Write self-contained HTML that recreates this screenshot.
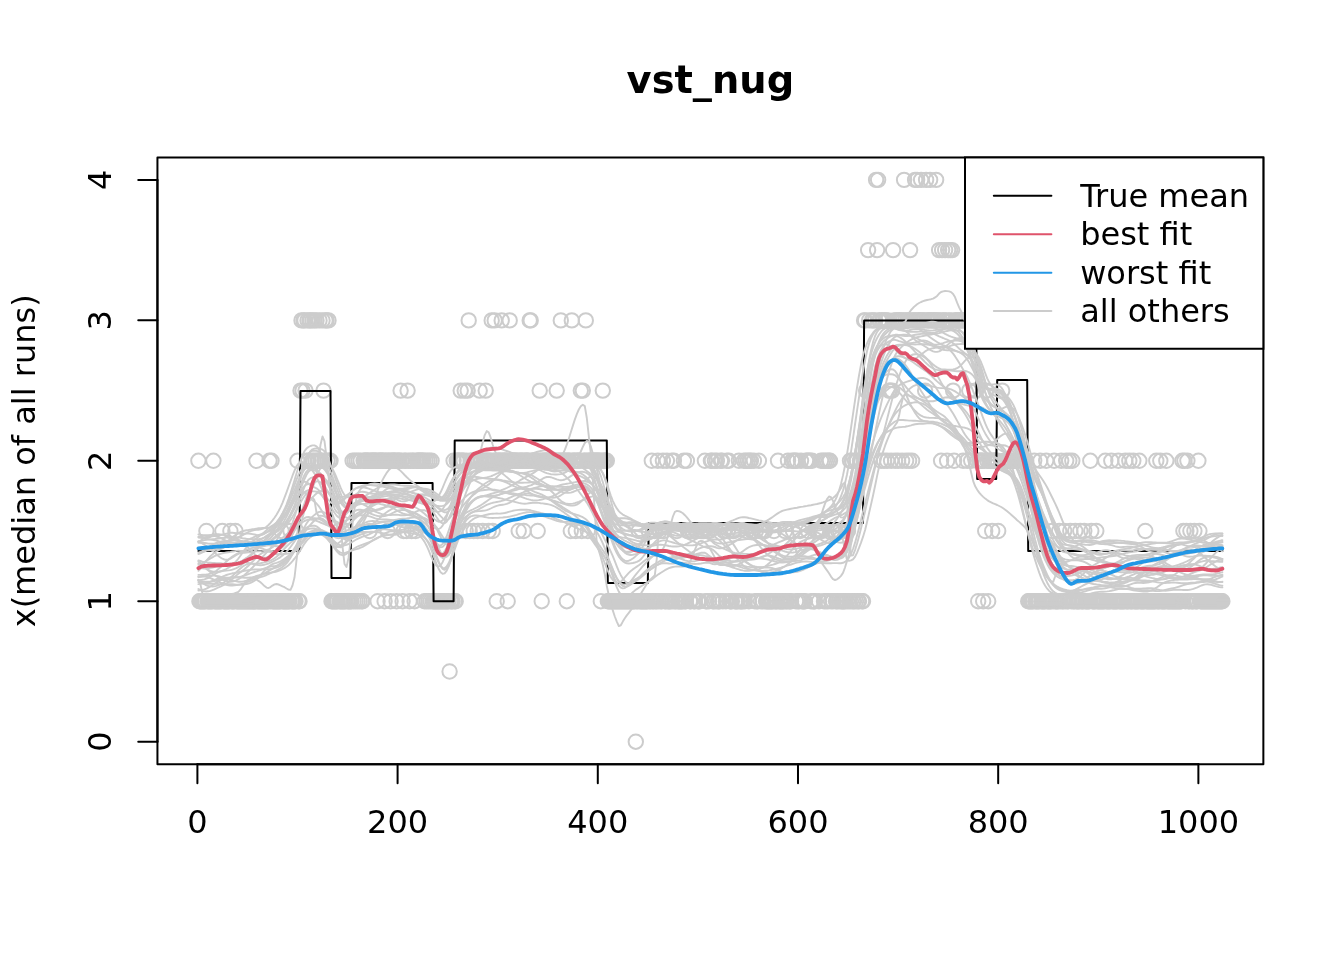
<!DOCTYPE html>
<html><head><meta charset="utf-8"><title>vst_nug</title>
<style>html,body{margin:0;padding:0;background:#fff}svg{display:block;will-change:transform}</style></head>
<body>
<svg width="1344" height="960" viewBox="0 0 1344 960">
<rect width="1344" height="960" fill="#fff"/>
<defs><clipPath id="c"><rect x="157.44" y="157.44" width="1105.92" height="606.72"/></clipPath></defs>
<g clip-path="url(#c)" fill="none" stroke-linecap="round" stroke-linejoin="round">
<g stroke="#ccc" stroke-width="2">
<circle cx="198.4" cy="460.8" r="7.2"/>
<circle cx="199.4" cy="601.2" r="7.2"/>
<circle cx="200.4" cy="601.2" r="7.2"/>
<circle cx="201.4" cy="601.2" r="7.2"/>
<circle cx="202.4" cy="601.2" r="7.2"/>
<circle cx="203.4" cy="601.2" r="7.2"/>
<circle cx="204.4" cy="601.2" r="7.2"/>
<circle cx="205.4" cy="601.2" r="7.2"/>
<circle cx="206.4" cy="531.0" r="7.2"/>
<circle cx="207.4" cy="601.2" r="7.2"/>
<circle cx="208.4" cy="601.2" r="7.2"/>
<circle cx="209.4" cy="601.2" r="7.2"/>
<circle cx="210.4" cy="601.2" r="7.2"/>
<circle cx="211.4" cy="601.2" r="7.2"/>
<circle cx="212.4" cy="601.2" r="7.2"/>
<circle cx="213.4" cy="460.8" r="7.2"/>
<circle cx="214.4" cy="601.2" r="7.2"/>
<circle cx="215.4" cy="601.2" r="7.2"/>
<circle cx="216.4" cy="601.2" r="7.2"/>
<circle cx="217.4" cy="601.2" r="7.2"/>
<circle cx="218.4" cy="601.2" r="7.2"/>
<circle cx="219.4" cy="601.2" r="7.2"/>
<circle cx="220.4" cy="601.2" r="7.2"/>
<circle cx="221.4" cy="601.2" r="7.2"/>
<circle cx="222.4" cy="531.0" r="7.2"/>
<circle cx="223.4" cy="601.2" r="7.2"/>
<circle cx="224.4" cy="601.2" r="7.2"/>
<circle cx="225.4" cy="601.2" r="7.2"/>
<circle cx="226.4" cy="601.2" r="7.2"/>
<circle cx="227.4" cy="601.2" r="7.2"/>
<circle cx="228.4" cy="601.2" r="7.2"/>
<circle cx="229.4" cy="601.2" r="7.2"/>
<circle cx="230.4" cy="531.0" r="7.2"/>
<circle cx="231.4" cy="601.2" r="7.2"/>
<circle cx="232.4" cy="601.2" r="7.2"/>
<circle cx="233.4" cy="601.2" r="7.2"/>
<circle cx="234.4" cy="601.2" r="7.2"/>
<circle cx="235.4" cy="531.0" r="7.2"/>
<circle cx="236.4" cy="601.2" r="7.2"/>
<circle cx="237.4" cy="601.2" r="7.2"/>
<circle cx="238.4" cy="601.2" r="7.2"/>
<circle cx="239.4" cy="601.2" r="7.2"/>
<circle cx="240.4" cy="601.2" r="7.2"/>
<circle cx="241.4" cy="601.2" r="7.2"/>
<circle cx="242.4" cy="601.2" r="7.2"/>
<circle cx="243.4" cy="601.2" r="7.2"/>
<circle cx="244.4" cy="601.2" r="7.2"/>
<circle cx="245.4" cy="601.2" r="7.2"/>
<circle cx="246.4" cy="601.2" r="7.2"/>
<circle cx="247.4" cy="601.2" r="7.2"/>
<circle cx="248.4" cy="601.2" r="7.2"/>
<circle cx="249.4" cy="601.2" r="7.2"/>
<circle cx="250.5" cy="601.2" r="7.2"/>
<circle cx="251.5" cy="601.2" r="7.2"/>
<circle cx="252.5" cy="601.2" r="7.2"/>
<circle cx="253.5" cy="601.2" r="7.2"/>
<circle cx="254.5" cy="601.2" r="7.2"/>
<circle cx="255.5" cy="601.2" r="7.2"/>
<circle cx="256.5" cy="460.8" r="7.2"/>
<circle cx="257.5" cy="601.2" r="7.2"/>
<circle cx="258.5" cy="601.2" r="7.2"/>
<circle cx="259.5" cy="601.2" r="7.2"/>
<circle cx="260.5" cy="601.2" r="7.2"/>
<circle cx="261.5" cy="601.2" r="7.2"/>
<circle cx="262.5" cy="601.2" r="7.2"/>
<circle cx="263.5" cy="601.2" r="7.2"/>
<circle cx="264.5" cy="601.2" r="7.2"/>
<circle cx="265.5" cy="601.2" r="7.2"/>
<circle cx="266.5" cy="601.2" r="7.2"/>
<circle cx="267.5" cy="601.2" r="7.2"/>
<circle cx="268.5" cy="601.2" r="7.2"/>
<circle cx="269.5" cy="460.8" r="7.2"/>
<circle cx="270.5" cy="601.2" r="7.2"/>
<circle cx="271.5" cy="460.8" r="7.2"/>
<circle cx="272.5" cy="601.2" r="7.2"/>
<circle cx="273.5" cy="601.2" r="7.2"/>
<circle cx="274.5" cy="601.2" r="7.2"/>
<circle cx="275.5" cy="601.2" r="7.2"/>
<circle cx="276.5" cy="601.2" r="7.2"/>
<circle cx="277.5" cy="601.2" r="7.2"/>
<circle cx="278.5" cy="601.2" r="7.2"/>
<circle cx="279.5" cy="601.2" r="7.2"/>
<circle cx="280.5" cy="601.2" r="7.2"/>
<circle cx="281.5" cy="531.0" r="7.2"/>
<circle cx="282.5" cy="601.2" r="7.2"/>
<circle cx="283.5" cy="601.2" r="7.2"/>
<circle cx="284.5" cy="601.2" r="7.2"/>
<circle cx="285.5" cy="601.2" r="7.2"/>
<circle cx="286.5" cy="601.2" r="7.2"/>
<circle cx="287.5" cy="601.2" r="7.2"/>
<circle cx="288.5" cy="601.2" r="7.2"/>
<circle cx="289.5" cy="601.2" r="7.2"/>
<circle cx="290.5" cy="531.0" r="7.2"/>
<circle cx="291.5" cy="601.2" r="7.2"/>
<circle cx="292.5" cy="601.2" r="7.2"/>
<circle cx="293.5" cy="601.2" r="7.2"/>
<circle cx="294.5" cy="601.2" r="7.2"/>
<circle cx="295.5" cy="601.2" r="7.2"/>
<circle cx="296.5" cy="531.0" r="7.2"/>
<circle cx="297.5" cy="460.8" r="7.2"/>
<circle cx="298.5" cy="601.2" r="7.2"/>
<circle cx="299.5" cy="601.2" r="7.2"/>
<circle cx="300.5" cy="390.6" r="7.2"/>
<circle cx="301.5" cy="320.4" r="7.2"/>
<circle cx="302.5" cy="390.6" r="7.2"/>
<circle cx="303.5" cy="320.4" r="7.2"/>
<circle cx="304.5" cy="320.4" r="7.2"/>
<circle cx="305.5" cy="390.6" r="7.2"/>
<circle cx="306.5" cy="460.8" r="7.2"/>
<circle cx="307.5" cy="320.4" r="7.2"/>
<circle cx="308.5" cy="460.8" r="7.2"/>
<circle cx="309.5" cy="320.4" r="7.2"/>
<circle cx="310.5" cy="320.4" r="7.2"/>
<circle cx="311.5" cy="460.8" r="7.2"/>
<circle cx="312.5" cy="320.4" r="7.2"/>
<circle cx="313.5" cy="460.8" r="7.2"/>
<circle cx="314.5" cy="320.4" r="7.2"/>
<circle cx="315.5" cy="460.8" r="7.2"/>
<circle cx="316.5" cy="320.4" r="7.2"/>
<circle cx="317.5" cy="460.8" r="7.2"/>
<circle cx="318.5" cy="460.8" r="7.2"/>
<circle cx="319.5" cy="320.4" r="7.2"/>
<circle cx="320.5" cy="460.8" r="7.2"/>
<circle cx="321.5" cy="460.8" r="7.2"/>
<circle cx="322.5" cy="320.4" r="7.2"/>
<circle cx="323.5" cy="390.6" r="7.2"/>
<circle cx="324.5" cy="460.8" r="7.2"/>
<circle cx="325.5" cy="320.4" r="7.2"/>
<circle cx="326.5" cy="320.4" r="7.2"/>
<circle cx="327.5" cy="460.8" r="7.2"/>
<circle cx="328.5" cy="320.4" r="7.2"/>
<circle cx="329.5" cy="460.8" r="7.2"/>
<circle cx="330.5" cy="460.8" r="7.2"/>
<circle cx="331.5" cy="601.2" r="7.2"/>
<circle cx="332.5" cy="601.2" r="7.2"/>
<circle cx="333.5" cy="601.2" r="7.2"/>
<circle cx="334.5" cy="601.2" r="7.2"/>
<circle cx="335.5" cy="601.2" r="7.2"/>
<circle cx="336.5" cy="601.2" r="7.2"/>
<circle cx="337.5" cy="601.2" r="7.2"/>
<circle cx="338.5" cy="531.0" r="7.2"/>
<circle cx="339.5" cy="601.2" r="7.2"/>
<circle cx="340.5" cy="601.2" r="7.2"/>
<circle cx="341.5" cy="601.2" r="7.2"/>
<circle cx="342.5" cy="601.2" r="7.2"/>
<circle cx="343.5" cy="601.2" r="7.2"/>
<circle cx="344.5" cy="601.2" r="7.2"/>
<circle cx="345.5" cy="601.2" r="7.2"/>
<circle cx="346.5" cy="531.0" r="7.2"/>
<circle cx="347.5" cy="601.2" r="7.2"/>
<circle cx="348.5" cy="601.2" r="7.2"/>
<circle cx="349.5" cy="601.2" r="7.2"/>
<circle cx="350.5" cy="601.2" r="7.2"/>
<circle cx="351.5" cy="601.2" r="7.2"/>
<circle cx="352.6" cy="460.8" r="7.2"/>
<circle cx="353.6" cy="601.2" r="7.2"/>
<circle cx="354.6" cy="460.8" r="7.2"/>
<circle cx="355.6" cy="601.2" r="7.2"/>
<circle cx="356.6" cy="460.8" r="7.2"/>
<circle cx="357.6" cy="601.2" r="7.2"/>
<circle cx="358.6" cy="460.8" r="7.2"/>
<circle cx="359.6" cy="601.2" r="7.2"/>
<circle cx="360.6" cy="460.8" r="7.2"/>
<circle cx="361.6" cy="601.2" r="7.2"/>
<circle cx="362.6" cy="601.2" r="7.2"/>
<circle cx="363.6" cy="460.8" r="7.2"/>
<circle cx="364.6" cy="460.8" r="7.2"/>
<circle cx="365.6" cy="460.8" r="7.2"/>
<circle cx="366.6" cy="460.8" r="7.2"/>
<circle cx="367.6" cy="460.8" r="7.2"/>
<circle cx="368.6" cy="460.8" r="7.2"/>
<circle cx="369.6" cy="531.0" r="7.2"/>
<circle cx="370.6" cy="460.8" r="7.2"/>
<circle cx="371.6" cy="460.8" r="7.2"/>
<circle cx="372.6" cy="460.8" r="7.2"/>
<circle cx="373.6" cy="460.8" r="7.2"/>
<circle cx="374.6" cy="460.8" r="7.2"/>
<circle cx="375.6" cy="460.8" r="7.2"/>
<circle cx="376.6" cy="460.8" r="7.2"/>
<circle cx="377.6" cy="601.2" r="7.2"/>
<circle cx="378.6" cy="460.8" r="7.2"/>
<circle cx="379.6" cy="460.8" r="7.2"/>
<circle cx="380.6" cy="460.8" r="7.2"/>
<circle cx="381.6" cy="460.8" r="7.2"/>
<circle cx="382.6" cy="460.8" r="7.2"/>
<circle cx="383.6" cy="460.8" r="7.2"/>
<circle cx="384.6" cy="601.2" r="7.2"/>
<circle cx="385.6" cy="460.8" r="7.2"/>
<circle cx="386.6" cy="460.8" r="7.2"/>
<circle cx="387.6" cy="531.0" r="7.2"/>
<circle cx="388.6" cy="460.8" r="7.2"/>
<circle cx="389.6" cy="460.8" r="7.2"/>
<circle cx="390.6" cy="601.2" r="7.2"/>
<circle cx="391.6" cy="460.8" r="7.2"/>
<circle cx="392.6" cy="460.8" r="7.2"/>
<circle cx="393.6" cy="460.8" r="7.2"/>
<circle cx="394.6" cy="460.8" r="7.2"/>
<circle cx="395.6" cy="460.8" r="7.2"/>
<circle cx="396.6" cy="601.2" r="7.2"/>
<circle cx="397.6" cy="460.8" r="7.2"/>
<circle cx="398.6" cy="460.8" r="7.2"/>
<circle cx="399.6" cy="460.8" r="7.2"/>
<circle cx="400.6" cy="390.6" r="7.2"/>
<circle cx="401.6" cy="460.8" r="7.2"/>
<circle cx="402.6" cy="601.2" r="7.2"/>
<circle cx="403.6" cy="531.0" r="7.2"/>
<circle cx="404.6" cy="460.8" r="7.2"/>
<circle cx="405.6" cy="460.8" r="7.2"/>
<circle cx="406.6" cy="531.0" r="7.2"/>
<circle cx="407.6" cy="390.6" r="7.2"/>
<circle cx="408.6" cy="460.8" r="7.2"/>
<circle cx="409.6" cy="601.2" r="7.2"/>
<circle cx="410.6" cy="460.8" r="7.2"/>
<circle cx="411.6" cy="531.0" r="7.2"/>
<circle cx="412.6" cy="460.8" r="7.2"/>
<circle cx="413.6" cy="460.8" r="7.2"/>
<circle cx="414.6" cy="601.2" r="7.2"/>
<circle cx="415.6" cy="531.0" r="7.2"/>
<circle cx="416.6" cy="460.8" r="7.2"/>
<circle cx="417.6" cy="460.8" r="7.2"/>
<circle cx="418.6" cy="460.8" r="7.2"/>
<circle cx="419.6" cy="460.8" r="7.2"/>
<circle cx="420.6" cy="460.8" r="7.2"/>
<circle cx="421.6" cy="460.8" r="7.2"/>
<circle cx="422.6" cy="460.8" r="7.2"/>
<circle cx="423.6" cy="460.8" r="7.2"/>
<circle cx="424.6" cy="601.2" r="7.2"/>
<circle cx="425.6" cy="460.8" r="7.2"/>
<circle cx="426.6" cy="601.2" r="7.2"/>
<circle cx="427.6" cy="460.8" r="7.2"/>
<circle cx="428.6" cy="601.2" r="7.2"/>
<circle cx="429.6" cy="460.8" r="7.2"/>
<circle cx="430.6" cy="601.2" r="7.2"/>
<circle cx="431.6" cy="460.8" r="7.2"/>
<circle cx="432.6" cy="601.2" r="7.2"/>
<circle cx="433.6" cy="601.2" r="7.2"/>
<circle cx="434.6" cy="601.2" r="7.2"/>
<circle cx="435.6" cy="601.2" r="7.2"/>
<circle cx="436.6" cy="601.2" r="7.2"/>
<circle cx="437.6" cy="601.2" r="7.2"/>
<circle cx="438.6" cy="601.2" r="7.2"/>
<circle cx="439.6" cy="601.2" r="7.2"/>
<circle cx="440.6" cy="601.2" r="7.2"/>
<circle cx="441.6" cy="601.2" r="7.2"/>
<circle cx="442.6" cy="601.2" r="7.2"/>
<circle cx="443.6" cy="601.2" r="7.2"/>
<circle cx="444.6" cy="601.2" r="7.2"/>
<circle cx="445.6" cy="601.2" r="7.2"/>
<circle cx="446.6" cy="601.2" r="7.2"/>
<circle cx="447.6" cy="601.2" r="7.2"/>
<circle cx="448.6" cy="601.2" r="7.2"/>
<circle cx="449.6" cy="671.5" r="7.2"/>
<circle cx="450.6" cy="601.2" r="7.2"/>
<circle cx="451.6" cy="601.2" r="7.2"/>
<circle cx="452.6" cy="601.2" r="7.2"/>
<circle cx="453.6" cy="460.8" r="7.2"/>
<circle cx="454.7" cy="601.2" r="7.2"/>
<circle cx="455.7" cy="601.2" r="7.2"/>
<circle cx="456.7" cy="460.8" r="7.2"/>
<circle cx="457.7" cy="460.8" r="7.2"/>
<circle cx="458.7" cy="460.8" r="7.2"/>
<circle cx="459.7" cy="460.8" r="7.2"/>
<circle cx="460.7" cy="390.6" r="7.2"/>
<circle cx="461.7" cy="460.8" r="7.2"/>
<circle cx="462.7" cy="460.8" r="7.2"/>
<circle cx="463.7" cy="460.8" r="7.2"/>
<circle cx="464.7" cy="390.6" r="7.2"/>
<circle cx="465.7" cy="531.0" r="7.2"/>
<circle cx="466.7" cy="460.8" r="7.2"/>
<circle cx="467.7" cy="390.6" r="7.2"/>
<circle cx="468.7" cy="320.4" r="7.2"/>
<circle cx="469.7" cy="531.0" r="7.2"/>
<circle cx="470.7" cy="460.8" r="7.2"/>
<circle cx="471.7" cy="460.8" r="7.2"/>
<circle cx="472.7" cy="460.8" r="7.2"/>
<circle cx="473.7" cy="531.0" r="7.2"/>
<circle cx="474.7" cy="460.8" r="7.2"/>
<circle cx="475.7" cy="460.8" r="7.2"/>
<circle cx="476.7" cy="460.8" r="7.2"/>
<circle cx="477.7" cy="531.0" r="7.2"/>
<circle cx="478.7" cy="460.8" r="7.2"/>
<circle cx="479.7" cy="390.6" r="7.2"/>
<circle cx="480.7" cy="460.8" r="7.2"/>
<circle cx="481.7" cy="460.8" r="7.2"/>
<circle cx="482.7" cy="531.0" r="7.2"/>
<circle cx="483.7" cy="460.8" r="7.2"/>
<circle cx="484.7" cy="460.8" r="7.2"/>
<circle cx="485.7" cy="390.6" r="7.2"/>
<circle cx="486.7" cy="460.8" r="7.2"/>
<circle cx="487.7" cy="460.8" r="7.2"/>
<circle cx="488.7" cy="531.0" r="7.2"/>
<circle cx="489.7" cy="460.8" r="7.2"/>
<circle cx="490.7" cy="460.8" r="7.2"/>
<circle cx="491.7" cy="320.4" r="7.2"/>
<circle cx="492.7" cy="531.0" r="7.2"/>
<circle cx="493.7" cy="460.8" r="7.2"/>
<circle cx="494.7" cy="320.4" r="7.2"/>
<circle cx="495.7" cy="460.8" r="7.2"/>
<circle cx="496.7" cy="601.2" r="7.2"/>
<circle cx="497.7" cy="460.8" r="7.2"/>
<circle cx="498.7" cy="460.8" r="7.2"/>
<circle cx="499.7" cy="460.8" r="7.2"/>
<circle cx="500.7" cy="460.8" r="7.2"/>
<circle cx="501.7" cy="320.4" r="7.2"/>
<circle cx="502.7" cy="460.8" r="7.2"/>
<circle cx="503.7" cy="460.8" r="7.2"/>
<circle cx="504.7" cy="460.8" r="7.2"/>
<circle cx="505.7" cy="460.8" r="7.2"/>
<circle cx="506.7" cy="460.8" r="7.2"/>
<circle cx="507.7" cy="601.2" r="7.2"/>
<circle cx="508.7" cy="460.8" r="7.2"/>
<circle cx="509.7" cy="320.4" r="7.2"/>
<circle cx="510.7" cy="460.8" r="7.2"/>
<circle cx="511.7" cy="460.8" r="7.2"/>
<circle cx="512.7" cy="460.8" r="7.2"/>
<circle cx="513.7" cy="460.8" r="7.2"/>
<circle cx="514.7" cy="460.8" r="7.2"/>
<circle cx="515.7" cy="460.8" r="7.2"/>
<circle cx="516.7" cy="460.8" r="7.2"/>
<circle cx="517.7" cy="460.8" r="7.2"/>
<circle cx="518.7" cy="531.0" r="7.2"/>
<circle cx="519.7" cy="460.8" r="7.2"/>
<circle cx="520.7" cy="460.8" r="7.2"/>
<circle cx="521.7" cy="460.8" r="7.2"/>
<circle cx="522.7" cy="460.8" r="7.2"/>
<circle cx="523.7" cy="531.0" r="7.2"/>
<circle cx="524.7" cy="460.8" r="7.2"/>
<circle cx="525.7" cy="460.8" r="7.2"/>
<circle cx="526.7" cy="460.8" r="7.2"/>
<circle cx="527.7" cy="460.8" r="7.2"/>
<circle cx="528.7" cy="460.8" r="7.2"/>
<circle cx="529.7" cy="320.4" r="7.2"/>
<circle cx="530.7" cy="320.4" r="7.2"/>
<circle cx="531.7" cy="460.8" r="7.2"/>
<circle cx="532.7" cy="460.8" r="7.2"/>
<circle cx="533.7" cy="460.8" r="7.2"/>
<circle cx="534.7" cy="460.8" r="7.2"/>
<circle cx="535.7" cy="460.8" r="7.2"/>
<circle cx="536.7" cy="460.8" r="7.2"/>
<circle cx="537.7" cy="531.0" r="7.2"/>
<circle cx="538.7" cy="460.8" r="7.2"/>
<circle cx="539.7" cy="390.6" r="7.2"/>
<circle cx="540.7" cy="460.8" r="7.2"/>
<circle cx="541.7" cy="601.2" r="7.2"/>
<circle cx="542.7" cy="460.8" r="7.2"/>
<circle cx="543.7" cy="460.8" r="7.2"/>
<circle cx="544.7" cy="460.8" r="7.2"/>
<circle cx="545.7" cy="460.8" r="7.2"/>
<circle cx="546.7" cy="460.8" r="7.2"/>
<circle cx="547.7" cy="460.8" r="7.2"/>
<circle cx="548.7" cy="460.8" r="7.2"/>
<circle cx="549.7" cy="460.8" r="7.2"/>
<circle cx="550.7" cy="460.8" r="7.2"/>
<circle cx="551.7" cy="460.8" r="7.2"/>
<circle cx="552.7" cy="460.8" r="7.2"/>
<circle cx="553.7" cy="460.8" r="7.2"/>
<circle cx="554.7" cy="460.8" r="7.2"/>
<circle cx="555.7" cy="460.8" r="7.2"/>
<circle cx="556.7" cy="390.6" r="7.2"/>
<circle cx="557.8" cy="460.8" r="7.2"/>
<circle cx="558.8" cy="460.8" r="7.2"/>
<circle cx="559.8" cy="460.8" r="7.2"/>
<circle cx="560.8" cy="320.4" r="7.2"/>
<circle cx="561.8" cy="460.8" r="7.2"/>
<circle cx="562.8" cy="460.8" r="7.2"/>
<circle cx="563.8" cy="460.8" r="7.2"/>
<circle cx="564.8" cy="460.8" r="7.2"/>
<circle cx="565.8" cy="460.8" r="7.2"/>
<circle cx="566.8" cy="601.2" r="7.2"/>
<circle cx="567.8" cy="460.8" r="7.2"/>
<circle cx="568.8" cy="460.8" r="7.2"/>
<circle cx="569.8" cy="460.8" r="7.2"/>
<circle cx="570.8" cy="531.0" r="7.2"/>
<circle cx="571.8" cy="320.4" r="7.2"/>
<circle cx="572.8" cy="460.8" r="7.2"/>
<circle cx="573.8" cy="460.8" r="7.2"/>
<circle cx="574.8" cy="460.8" r="7.2"/>
<circle cx="575.8" cy="531.0" r="7.2"/>
<circle cx="576.8" cy="460.8" r="7.2"/>
<circle cx="577.8" cy="460.8" r="7.2"/>
<circle cx="578.8" cy="460.8" r="7.2"/>
<circle cx="579.8" cy="460.8" r="7.2"/>
<circle cx="580.8" cy="390.6" r="7.2"/>
<circle cx="581.8" cy="531.0" r="7.2"/>
<circle cx="582.8" cy="390.6" r="7.2"/>
<circle cx="583.8" cy="460.8" r="7.2"/>
<circle cx="584.8" cy="460.8" r="7.2"/>
<circle cx="585.8" cy="320.4" r="7.2"/>
<circle cx="586.8" cy="460.8" r="7.2"/>
<circle cx="587.8" cy="531.0" r="7.2"/>
<circle cx="588.8" cy="460.8" r="7.2"/>
<circle cx="589.8" cy="460.8" r="7.2"/>
<circle cx="590.8" cy="460.8" r="7.2"/>
<circle cx="591.8" cy="460.8" r="7.2"/>
<circle cx="592.8" cy="460.8" r="7.2"/>
<circle cx="593.8" cy="460.8" r="7.2"/>
<circle cx="594.8" cy="460.8" r="7.2"/>
<circle cx="595.8" cy="460.8" r="7.2"/>
<circle cx="596.8" cy="460.8" r="7.2"/>
<circle cx="597.8" cy="460.8" r="7.2"/>
<circle cx="598.8" cy="460.8" r="7.2"/>
<circle cx="599.8" cy="460.8" r="7.2"/>
<circle cx="600.8" cy="601.2" r="7.2"/>
<circle cx="601.8" cy="460.8" r="7.2"/>
<circle cx="602.8" cy="390.6" r="7.2"/>
<circle cx="603.8" cy="460.8" r="7.2"/>
<circle cx="604.8" cy="460.8" r="7.2"/>
<circle cx="605.8" cy="460.8" r="7.2"/>
<circle cx="606.8" cy="460.8" r="7.2"/>
<circle cx="607.8" cy="601.2" r="7.2"/>
<circle cx="608.8" cy="601.2" r="7.2"/>
<circle cx="609.8" cy="601.2" r="7.2"/>
<circle cx="610.8" cy="601.2" r="7.2"/>
<circle cx="611.8" cy="601.2" r="7.2"/>
<circle cx="612.8" cy="601.2" r="7.2"/>
<circle cx="613.8" cy="601.2" r="7.2"/>
<circle cx="614.8" cy="601.2" r="7.2"/>
<circle cx="615.8" cy="601.2" r="7.2"/>
<circle cx="616.8" cy="601.2" r="7.2"/>
<circle cx="617.8" cy="601.2" r="7.2"/>
<circle cx="618.8" cy="601.2" r="7.2"/>
<circle cx="619.8" cy="601.2" r="7.2"/>
<circle cx="620.8" cy="601.2" r="7.2"/>
<circle cx="621.8" cy="601.2" r="7.2"/>
<circle cx="622.8" cy="601.2" r="7.2"/>
<circle cx="623.8" cy="601.2" r="7.2"/>
<circle cx="624.8" cy="601.2" r="7.2"/>
<circle cx="625.8" cy="601.2" r="7.2"/>
<circle cx="626.8" cy="601.2" r="7.2"/>
<circle cx="627.8" cy="601.2" r="7.2"/>
<circle cx="628.8" cy="601.2" r="7.2"/>
<circle cx="629.8" cy="601.2" r="7.2"/>
<circle cx="630.8" cy="601.2" r="7.2"/>
<circle cx="631.8" cy="601.2" r="7.2"/>
<circle cx="632.8" cy="601.2" r="7.2"/>
<circle cx="633.8" cy="601.2" r="7.2"/>
<circle cx="634.8" cy="601.2" r="7.2"/>
<circle cx="635.8" cy="741.7" r="7.2"/>
<circle cx="636.8" cy="601.2" r="7.2"/>
<circle cx="637.8" cy="601.2" r="7.2"/>
<circle cx="638.8" cy="531.0" r="7.2"/>
<circle cx="639.8" cy="601.2" r="7.2"/>
<circle cx="640.8" cy="601.2" r="7.2"/>
<circle cx="641.8" cy="601.2" r="7.2"/>
<circle cx="642.8" cy="601.2" r="7.2"/>
<circle cx="643.8" cy="601.2" r="7.2"/>
<circle cx="644.8" cy="601.2" r="7.2"/>
<circle cx="645.8" cy="601.2" r="7.2"/>
<circle cx="646.8" cy="601.2" r="7.2"/>
<circle cx="647.8" cy="601.2" r="7.2"/>
<circle cx="648.8" cy="531.0" r="7.2"/>
<circle cx="649.8" cy="601.2" r="7.2"/>
<circle cx="650.8" cy="601.2" r="7.2"/>
<circle cx="651.8" cy="460.8" r="7.2"/>
<circle cx="652.8" cy="601.2" r="7.2"/>
<circle cx="653.8" cy="601.2" r="7.2"/>
<circle cx="654.8" cy="531.0" r="7.2"/>
<circle cx="655.8" cy="601.2" r="7.2"/>
<circle cx="656.8" cy="601.2" r="7.2"/>
<circle cx="657.8" cy="460.8" r="7.2"/>
<circle cx="658.8" cy="601.2" r="7.2"/>
<circle cx="659.9" cy="531.0" r="7.2"/>
<circle cx="660.9" cy="601.2" r="7.2"/>
<circle cx="661.9" cy="601.2" r="7.2"/>
<circle cx="662.9" cy="460.8" r="7.2"/>
<circle cx="663.9" cy="531.0" r="7.2"/>
<circle cx="664.9" cy="601.2" r="7.2"/>
<circle cx="665.9" cy="601.2" r="7.2"/>
<circle cx="666.9" cy="460.8" r="7.2"/>
<circle cx="667.9" cy="601.2" r="7.2"/>
<circle cx="668.9" cy="601.2" r="7.2"/>
<circle cx="669.9" cy="601.2" r="7.2"/>
<circle cx="670.9" cy="601.2" r="7.2"/>
<circle cx="671.9" cy="460.8" r="7.2"/>
<circle cx="672.9" cy="601.2" r="7.2"/>
<circle cx="673.9" cy="460.8" r="7.2"/>
<circle cx="674.9" cy="601.2" r="7.2"/>
<circle cx="675.9" cy="601.2" r="7.2"/>
<circle cx="676.9" cy="531.0" r="7.2"/>
<circle cx="677.9" cy="601.2" r="7.2"/>
<circle cx="678.9" cy="601.2" r="7.2"/>
<circle cx="679.9" cy="601.2" r="7.2"/>
<circle cx="680.9" cy="601.2" r="7.2"/>
<circle cx="681.9" cy="601.2" r="7.2"/>
<circle cx="682.9" cy="601.2" r="7.2"/>
<circle cx="683.9" cy="460.8" r="7.2"/>
<circle cx="684.9" cy="601.2" r="7.2"/>
<circle cx="685.9" cy="601.2" r="7.2"/>
<circle cx="686.9" cy="460.8" r="7.2"/>
<circle cx="687.9" cy="531.0" r="7.2"/>
<circle cx="688.9" cy="531.0" r="7.2"/>
<circle cx="689.9" cy="601.2" r="7.2"/>
<circle cx="690.9" cy="601.2" r="7.2"/>
<circle cx="691.9" cy="531.0" r="7.2"/>
<circle cx="692.9" cy="531.0" r="7.2"/>
<circle cx="693.9" cy="601.2" r="7.2"/>
<circle cx="694.9" cy="601.2" r="7.2"/>
<circle cx="695.9" cy="531.0" r="7.2"/>
<circle cx="696.9" cy="531.0" r="7.2"/>
<circle cx="697.9" cy="601.2" r="7.2"/>
<circle cx="698.9" cy="601.2" r="7.2"/>
<circle cx="699.9" cy="601.2" r="7.2"/>
<circle cx="700.9" cy="531.0" r="7.2"/>
<circle cx="701.9" cy="531.0" r="7.2"/>
<circle cx="702.9" cy="531.0" r="7.2"/>
<circle cx="703.9" cy="531.0" r="7.2"/>
<circle cx="704.9" cy="460.8" r="7.2"/>
<circle cx="705.9" cy="601.2" r="7.2"/>
<circle cx="706.9" cy="601.2" r="7.2"/>
<circle cx="707.9" cy="531.0" r="7.2"/>
<circle cx="708.9" cy="601.2" r="7.2"/>
<circle cx="709.9" cy="531.0" r="7.2"/>
<circle cx="710.9" cy="460.8" r="7.2"/>
<circle cx="711.9" cy="460.8" r="7.2"/>
<circle cx="712.9" cy="601.2" r="7.2"/>
<circle cx="713.9" cy="601.2" r="7.2"/>
<circle cx="714.9" cy="460.8" r="7.2"/>
<circle cx="715.9" cy="601.2" r="7.2"/>
<circle cx="716.9" cy="460.8" r="7.2"/>
<circle cx="717.9" cy="601.2" r="7.2"/>
<circle cx="718.9" cy="601.2" r="7.2"/>
<circle cx="719.9" cy="601.2" r="7.2"/>
<circle cx="720.9" cy="460.8" r="7.2"/>
<circle cx="721.9" cy="460.8" r="7.2"/>
<circle cx="722.9" cy="601.2" r="7.2"/>
<circle cx="723.9" cy="531.0" r="7.2"/>
<circle cx="724.9" cy="531.0" r="7.2"/>
<circle cx="725.9" cy="601.2" r="7.2"/>
<circle cx="726.9" cy="460.8" r="7.2"/>
<circle cx="727.9" cy="531.0" r="7.2"/>
<circle cx="728.9" cy="460.8" r="7.2"/>
<circle cx="729.9" cy="601.2" r="7.2"/>
<circle cx="730.9" cy="601.2" r="7.2"/>
<circle cx="731.9" cy="601.2" r="7.2"/>
<circle cx="732.9" cy="531.0" r="7.2"/>
<circle cx="733.9" cy="531.0" r="7.2"/>
<circle cx="734.9" cy="601.2" r="7.2"/>
<circle cx="735.9" cy="601.2" r="7.2"/>
<circle cx="736.9" cy="601.2" r="7.2"/>
<circle cx="737.9" cy="601.2" r="7.2"/>
<circle cx="738.9" cy="460.8" r="7.2"/>
<circle cx="739.9" cy="601.2" r="7.2"/>
<circle cx="740.9" cy="601.2" r="7.2"/>
<circle cx="741.9" cy="601.2" r="7.2"/>
<circle cx="742.9" cy="601.2" r="7.2"/>
<circle cx="743.9" cy="460.8" r="7.2"/>
<circle cx="744.9" cy="601.2" r="7.2"/>
<circle cx="745.9" cy="460.8" r="7.2"/>
<circle cx="746.9" cy="531.0" r="7.2"/>
<circle cx="747.9" cy="460.8" r="7.2"/>
<circle cx="748.9" cy="601.2" r="7.2"/>
<circle cx="749.9" cy="460.8" r="7.2"/>
<circle cx="750.9" cy="460.8" r="7.2"/>
<circle cx="751.9" cy="531.0" r="7.2"/>
<circle cx="752.9" cy="531.0" r="7.2"/>
<circle cx="753.9" cy="460.8" r="7.2"/>
<circle cx="754.9" cy="601.2" r="7.2"/>
<circle cx="755.9" cy="531.0" r="7.2"/>
<circle cx="756.9" cy="601.2" r="7.2"/>
<circle cx="757.9" cy="601.2" r="7.2"/>
<circle cx="758.9" cy="460.8" r="7.2"/>
<circle cx="759.9" cy="531.0" r="7.2"/>
<circle cx="760.9" cy="601.2" r="7.2"/>
<circle cx="762.0" cy="531.0" r="7.2"/>
<circle cx="763.0" cy="601.2" r="7.2"/>
<circle cx="764.0" cy="531.0" r="7.2"/>
<circle cx="765.0" cy="531.0" r="7.2"/>
<circle cx="766.0" cy="601.2" r="7.2"/>
<circle cx="767.0" cy="601.2" r="7.2"/>
<circle cx="768.0" cy="601.2" r="7.2"/>
<circle cx="769.0" cy="601.2" r="7.2"/>
<circle cx="770.0" cy="601.2" r="7.2"/>
<circle cx="771.0" cy="601.2" r="7.2"/>
<circle cx="772.0" cy="601.2" r="7.2"/>
<circle cx="773.0" cy="601.2" r="7.2"/>
<circle cx="774.0" cy="531.0" r="7.2"/>
<circle cx="775.0" cy="601.2" r="7.2"/>
<circle cx="776.0" cy="601.2" r="7.2"/>
<circle cx="777.0" cy="601.2" r="7.2"/>
<circle cx="778.0" cy="460.8" r="7.2"/>
<circle cx="779.0" cy="601.2" r="7.2"/>
<circle cx="780.0" cy="601.2" r="7.2"/>
<circle cx="781.0" cy="601.2" r="7.2"/>
<circle cx="782.0" cy="601.2" r="7.2"/>
<circle cx="783.0" cy="601.2" r="7.2"/>
<circle cx="784.0" cy="601.2" r="7.2"/>
<circle cx="785.0" cy="531.0" r="7.2"/>
<circle cx="786.0" cy="601.2" r="7.2"/>
<circle cx="787.0" cy="601.2" r="7.2"/>
<circle cx="788.0" cy="460.8" r="7.2"/>
<circle cx="789.0" cy="601.2" r="7.2"/>
<circle cx="790.0" cy="601.2" r="7.2"/>
<circle cx="791.0" cy="601.2" r="7.2"/>
<circle cx="792.0" cy="460.8" r="7.2"/>
<circle cx="793.0" cy="531.0" r="7.2"/>
<circle cx="794.0" cy="460.8" r="7.2"/>
<circle cx="795.0" cy="460.8" r="7.2"/>
<circle cx="796.0" cy="601.2" r="7.2"/>
<circle cx="797.0" cy="460.8" r="7.2"/>
<circle cx="798.0" cy="601.2" r="7.2"/>
<circle cx="799.0" cy="601.2" r="7.2"/>
<circle cx="800.0" cy="531.0" r="7.2"/>
<circle cx="801.0" cy="460.8" r="7.2"/>
<circle cx="802.0" cy="601.2" r="7.2"/>
<circle cx="803.0" cy="601.2" r="7.2"/>
<circle cx="804.0" cy="601.2" r="7.2"/>
<circle cx="805.0" cy="601.2" r="7.2"/>
<circle cx="806.0" cy="460.8" r="7.2"/>
<circle cx="807.0" cy="460.8" r="7.2"/>
<circle cx="808.0" cy="531.0" r="7.2"/>
<circle cx="809.0" cy="460.8" r="7.2"/>
<circle cx="810.0" cy="460.8" r="7.2"/>
<circle cx="811.0" cy="601.2" r="7.2"/>
<circle cx="812.0" cy="460.8" r="7.2"/>
<circle cx="813.0" cy="601.2" r="7.2"/>
<circle cx="814.0" cy="601.2" r="7.2"/>
<circle cx="815.0" cy="601.2" r="7.2"/>
<circle cx="816.0" cy="531.0" r="7.2"/>
<circle cx="817.0" cy="531.0" r="7.2"/>
<circle cx="818.0" cy="531.0" r="7.2"/>
<circle cx="819.0" cy="601.2" r="7.2"/>
<circle cx="820.0" cy="531.0" r="7.2"/>
<circle cx="821.0" cy="460.8" r="7.2"/>
<circle cx="822.0" cy="531.0" r="7.2"/>
<circle cx="823.0" cy="460.8" r="7.2"/>
<circle cx="824.0" cy="601.2" r="7.2"/>
<circle cx="825.0" cy="460.8" r="7.2"/>
<circle cx="826.0" cy="601.2" r="7.2"/>
<circle cx="827.0" cy="460.8" r="7.2"/>
<circle cx="828.0" cy="601.2" r="7.2"/>
<circle cx="829.0" cy="460.8" r="7.2"/>
<circle cx="830.0" cy="460.8" r="7.2"/>
<circle cx="831.0" cy="601.2" r="7.2"/>
<circle cx="832.0" cy="531.0" r="7.2"/>
<circle cx="833.0" cy="601.2" r="7.2"/>
<circle cx="834.0" cy="531.0" r="7.2"/>
<circle cx="835.0" cy="531.0" r="7.2"/>
<circle cx="836.0" cy="601.2" r="7.2"/>
<circle cx="837.0" cy="601.2" r="7.2"/>
<circle cx="838.0" cy="531.0" r="7.2"/>
<circle cx="839.0" cy="601.2" r="7.2"/>
<circle cx="840.0" cy="531.0" r="7.2"/>
<circle cx="841.0" cy="601.2" r="7.2"/>
<circle cx="842.0" cy="601.2" r="7.2"/>
<circle cx="843.0" cy="601.2" r="7.2"/>
<circle cx="844.0" cy="601.2" r="7.2"/>
<circle cx="845.0" cy="601.2" r="7.2"/>
<circle cx="846.0" cy="531.0" r="7.2"/>
<circle cx="847.0" cy="601.2" r="7.2"/>
<circle cx="848.0" cy="531.0" r="7.2"/>
<circle cx="849.0" cy="601.2" r="7.2"/>
<circle cx="850.0" cy="460.8" r="7.2"/>
<circle cx="851.0" cy="601.2" r="7.2"/>
<circle cx="852.0" cy="460.8" r="7.2"/>
<circle cx="853.0" cy="601.2" r="7.2"/>
<circle cx="854.0" cy="601.2" r="7.2"/>
<circle cx="855.0" cy="460.8" r="7.2"/>
<circle cx="856.0" cy="601.2" r="7.2"/>
<circle cx="857.0" cy="460.8" r="7.2"/>
<circle cx="858.0" cy="601.2" r="7.2"/>
<circle cx="859.0" cy="601.2" r="7.2"/>
<circle cx="860.0" cy="460.8" r="7.2"/>
<circle cx="861.0" cy="460.8" r="7.2"/>
<circle cx="862.0" cy="601.2" r="7.2"/>
<circle cx="863.0" cy="601.2" r="7.2"/>
<circle cx="864.1" cy="320.4" r="7.2"/>
<circle cx="865.1" cy="320.4" r="7.2"/>
<circle cx="866.1" cy="390.6" r="7.2"/>
<circle cx="867.1" cy="390.6" r="7.2"/>
<circle cx="868.1" cy="250.1" r="7.2"/>
<circle cx="869.1" cy="320.4" r="7.2"/>
<circle cx="870.1" cy="390.6" r="7.2"/>
<circle cx="871.1" cy="390.6" r="7.2"/>
<circle cx="872.1" cy="320.4" r="7.2"/>
<circle cx="873.1" cy="320.4" r="7.2"/>
<circle cx="874.1" cy="390.6" r="7.2"/>
<circle cx="875.1" cy="320.4" r="7.2"/>
<circle cx="876.1" cy="179.9" r="7.2"/>
<circle cx="877.1" cy="250.1" r="7.2"/>
<circle cx="878.1" cy="179.9" r="7.2"/>
<circle cx="879.1" cy="320.4" r="7.2"/>
<circle cx="880.1" cy="320.4" r="7.2"/>
<circle cx="881.1" cy="460.8" r="7.2"/>
<circle cx="882.1" cy="320.4" r="7.2"/>
<circle cx="883.1" cy="320.4" r="7.2"/>
<circle cx="884.1" cy="460.8" r="7.2"/>
<circle cx="885.1" cy="320.4" r="7.2"/>
<circle cx="886.1" cy="320.4" r="7.2"/>
<circle cx="887.1" cy="460.8" r="7.2"/>
<circle cx="888.1" cy="320.4" r="7.2"/>
<circle cx="889.1" cy="390.6" r="7.2"/>
<circle cx="890.1" cy="390.6" r="7.2"/>
<circle cx="891.1" cy="460.8" r="7.2"/>
<circle cx="892.1" cy="390.6" r="7.2"/>
<circle cx="893.1" cy="250.1" r="7.2"/>
<circle cx="894.1" cy="320.4" r="7.2"/>
<circle cx="895.1" cy="460.8" r="7.2"/>
<circle cx="896.1" cy="320.4" r="7.2"/>
<circle cx="897.1" cy="320.4" r="7.2"/>
<circle cx="898.1" cy="460.8" r="7.2"/>
<circle cx="899.1" cy="320.4" r="7.2"/>
<circle cx="900.1" cy="320.4" r="7.2"/>
<circle cx="901.1" cy="320.4" r="7.2"/>
<circle cx="902.1" cy="460.8" r="7.2"/>
<circle cx="903.1" cy="320.4" r="7.2"/>
<circle cx="904.1" cy="179.9" r="7.2"/>
<circle cx="905.1" cy="320.4" r="7.2"/>
<circle cx="906.1" cy="460.8" r="7.2"/>
<circle cx="907.1" cy="320.4" r="7.2"/>
<circle cx="908.1" cy="320.4" r="7.2"/>
<circle cx="909.1" cy="460.8" r="7.2"/>
<circle cx="910.1" cy="250.1" r="7.2"/>
<circle cx="911.1" cy="320.4" r="7.2"/>
<circle cx="912.1" cy="460.8" r="7.2"/>
<circle cx="913.1" cy="320.4" r="7.2"/>
<circle cx="914.1" cy="320.4" r="7.2"/>
<circle cx="915.1" cy="179.9" r="7.2"/>
<circle cx="916.1" cy="320.4" r="7.2"/>
<circle cx="917.1" cy="179.9" r="7.2"/>
<circle cx="918.1" cy="320.4" r="7.2"/>
<circle cx="919.1" cy="320.4" r="7.2"/>
<circle cx="920.1" cy="320.4" r="7.2"/>
<circle cx="921.1" cy="179.9" r="7.2"/>
<circle cx="922.1" cy="320.4" r="7.2"/>
<circle cx="923.1" cy="320.4" r="7.2"/>
<circle cx="924.1" cy="320.4" r="7.2"/>
<circle cx="925.1" cy="390.6" r="7.2"/>
<circle cx="926.1" cy="179.9" r="7.2"/>
<circle cx="927.1" cy="320.4" r="7.2"/>
<circle cx="928.1" cy="320.4" r="7.2"/>
<circle cx="929.1" cy="320.4" r="7.2"/>
<circle cx="930.1" cy="179.9" r="7.2"/>
<circle cx="931.1" cy="320.4" r="7.2"/>
<circle cx="932.1" cy="320.4" r="7.2"/>
<circle cx="933.1" cy="320.4" r="7.2"/>
<circle cx="934.1" cy="320.4" r="7.2"/>
<circle cx="935.1" cy="320.4" r="7.2"/>
<circle cx="936.1" cy="179.9" r="7.2"/>
<circle cx="937.1" cy="320.4" r="7.2"/>
<circle cx="938.1" cy="320.4" r="7.2"/>
<circle cx="939.1" cy="250.1" r="7.2"/>
<circle cx="940.1" cy="320.4" r="7.2"/>
<circle cx="941.1" cy="460.8" r="7.2"/>
<circle cx="942.1" cy="250.1" r="7.2"/>
<circle cx="943.1" cy="320.4" r="7.2"/>
<circle cx="944.1" cy="320.4" r="7.2"/>
<circle cx="945.1" cy="250.1" r="7.2"/>
<circle cx="946.1" cy="320.4" r="7.2"/>
<circle cx="947.1" cy="460.8" r="7.2"/>
<circle cx="948.1" cy="250.1" r="7.2"/>
<circle cx="949.1" cy="320.4" r="7.2"/>
<circle cx="950.1" cy="250.1" r="7.2"/>
<circle cx="951.1" cy="320.4" r="7.2"/>
<circle cx="952.1" cy="250.1" r="7.2"/>
<circle cx="953.1" cy="390.6" r="7.2"/>
<circle cx="954.1" cy="460.8" r="7.2"/>
<circle cx="955.1" cy="320.4" r="7.2"/>
<circle cx="956.1" cy="320.4" r="7.2"/>
<circle cx="957.1" cy="320.4" r="7.2"/>
<circle cx="958.1" cy="320.4" r="7.2"/>
<circle cx="959.1" cy="320.4" r="7.2"/>
<circle cx="960.1" cy="320.4" r="7.2"/>
<circle cx="961.1" cy="320.4" r="7.2"/>
<circle cx="962.1" cy="320.4" r="7.2"/>
<circle cx="963.1" cy="460.8" r="7.2"/>
<circle cx="964.1" cy="320.4" r="7.2"/>
<circle cx="965.1" cy="320.4" r="7.2"/>
<circle cx="966.1" cy="320.4" r="7.2"/>
<circle cx="967.2" cy="460.8" r="7.2"/>
<circle cx="968.2" cy="320.4" r="7.2"/>
<circle cx="969.2" cy="390.6" r="7.2"/>
<circle cx="970.2" cy="320.4" r="7.2"/>
<circle cx="971.2" cy="460.8" r="7.2"/>
<circle cx="972.2" cy="320.4" r="7.2"/>
<circle cx="973.2" cy="320.4" r="7.2"/>
<circle cx="974.2" cy="320.4" r="7.2"/>
<circle cx="975.2" cy="390.6" r="7.2"/>
<circle cx="976.2" cy="390.6" r="7.2"/>
<circle cx="977.2" cy="460.8" r="7.2"/>
<circle cx="978.2" cy="601.2" r="7.2"/>
<circle cx="979.2" cy="460.8" r="7.2"/>
<circle cx="980.2" cy="460.8" r="7.2"/>
<circle cx="981.2" cy="460.8" r="7.2"/>
<circle cx="982.2" cy="460.8" r="7.2"/>
<circle cx="983.2" cy="601.2" r="7.2"/>
<circle cx="984.2" cy="460.8" r="7.2"/>
<circle cx="985.2" cy="531.0" r="7.2"/>
<circle cx="986.2" cy="390.6" r="7.2"/>
<circle cx="987.2" cy="460.8" r="7.2"/>
<circle cx="988.2" cy="601.2" r="7.2"/>
<circle cx="989.2" cy="460.8" r="7.2"/>
<circle cx="990.2" cy="460.8" r="7.2"/>
<circle cx="991.2" cy="460.8" r="7.2"/>
<circle cx="992.2" cy="531.0" r="7.2"/>
<circle cx="993.2" cy="460.8" r="7.2"/>
<circle cx="994.2" cy="460.8" r="7.2"/>
<circle cx="995.2" cy="460.8" r="7.2"/>
<circle cx="996.2" cy="460.8" r="7.2"/>
<circle cx="997.2" cy="460.8" r="7.2"/>
<circle cx="998.2" cy="531.0" r="7.2"/>
<circle cx="999.2" cy="320.4" r="7.2"/>
<circle cx="1000.2" cy="320.4" r="7.2"/>
<circle cx="1001.2" cy="320.4" r="7.2"/>
<circle cx="1002.2" cy="390.6" r="7.2"/>
<circle cx="1003.2" cy="320.4" r="7.2"/>
<circle cx="1004.2" cy="460.8" r="7.2"/>
<circle cx="1005.2" cy="320.4" r="7.2"/>
<circle cx="1006.2" cy="460.8" r="7.2"/>
<circle cx="1007.2" cy="460.8" r="7.2"/>
<circle cx="1008.2" cy="460.8" r="7.2"/>
<circle cx="1009.2" cy="460.8" r="7.2"/>
<circle cx="1010.2" cy="460.8" r="7.2"/>
<circle cx="1011.2" cy="460.8" r="7.2"/>
<circle cx="1012.2" cy="460.8" r="7.2"/>
<circle cx="1013.2" cy="320.4" r="7.2"/>
<circle cx="1014.2" cy="460.8" r="7.2"/>
<circle cx="1015.2" cy="460.8" r="7.2"/>
<circle cx="1016.2" cy="460.8" r="7.2"/>
<circle cx="1017.2" cy="460.8" r="7.2"/>
<circle cx="1018.2" cy="320.4" r="7.2"/>
<circle cx="1019.2" cy="320.4" r="7.2"/>
<circle cx="1020.2" cy="460.8" r="7.2"/>
<circle cx="1021.2" cy="320.4" r="7.2"/>
<circle cx="1022.2" cy="320.4" r="7.2"/>
<circle cx="1023.2" cy="460.8" r="7.2"/>
<circle cx="1024.2" cy="460.8" r="7.2"/>
<circle cx="1025.2" cy="320.4" r="7.2"/>
<circle cx="1026.2" cy="460.8" r="7.2"/>
<circle cx="1027.2" cy="320.4" r="7.2"/>
<circle cx="1028.2" cy="601.2" r="7.2"/>
<circle cx="1029.2" cy="601.2" r="7.2"/>
<circle cx="1030.2" cy="601.2" r="7.2"/>
<circle cx="1031.2" cy="601.2" r="7.2"/>
<circle cx="1032.2" cy="601.2" r="7.2"/>
<circle cx="1033.2" cy="601.2" r="7.2"/>
<circle cx="1034.2" cy="460.8" r="7.2"/>
<circle cx="1035.2" cy="601.2" r="7.2"/>
<circle cx="1036.2" cy="601.2" r="7.2"/>
<circle cx="1037.2" cy="601.2" r="7.2"/>
<circle cx="1038.2" cy="601.2" r="7.2"/>
<circle cx="1039.2" cy="601.2" r="7.2"/>
<circle cx="1040.2" cy="460.8" r="7.2"/>
<circle cx="1041.2" cy="601.2" r="7.2"/>
<circle cx="1042.2" cy="601.2" r="7.2"/>
<circle cx="1043.2" cy="601.2" r="7.2"/>
<circle cx="1044.2" cy="601.2" r="7.2"/>
<circle cx="1045.2" cy="601.2" r="7.2"/>
<circle cx="1046.2" cy="460.8" r="7.2"/>
<circle cx="1047.2" cy="601.2" r="7.2"/>
<circle cx="1048.2" cy="601.2" r="7.2"/>
<circle cx="1049.2" cy="601.2" r="7.2"/>
<circle cx="1050.2" cy="601.2" r="7.2"/>
<circle cx="1051.2" cy="601.2" r="7.2"/>
<circle cx="1052.2" cy="531.0" r="7.2"/>
<circle cx="1053.2" cy="601.2" r="7.2"/>
<circle cx="1054.2" cy="460.8" r="7.2"/>
<circle cx="1055.2" cy="601.2" r="7.2"/>
<circle cx="1056.2" cy="601.2" r="7.2"/>
<circle cx="1057.2" cy="601.2" r="7.2"/>
<circle cx="1058.2" cy="601.2" r="7.2"/>
<circle cx="1059.2" cy="531.0" r="7.2"/>
<circle cx="1060.2" cy="601.2" r="7.2"/>
<circle cx="1061.2" cy="460.8" r="7.2"/>
<circle cx="1062.2" cy="601.2" r="7.2"/>
<circle cx="1063.2" cy="601.2" r="7.2"/>
<circle cx="1064.2" cy="531.0" r="7.2"/>
<circle cx="1065.2" cy="601.2" r="7.2"/>
<circle cx="1066.2" cy="460.8" r="7.2"/>
<circle cx="1067.2" cy="601.2" r="7.2"/>
<circle cx="1068.2" cy="601.2" r="7.2"/>
<circle cx="1069.3" cy="460.8" r="7.2"/>
<circle cx="1070.3" cy="531.0" r="7.2"/>
<circle cx="1071.3" cy="601.2" r="7.2"/>
<circle cx="1072.3" cy="460.8" r="7.2"/>
<circle cx="1073.3" cy="601.2" r="7.2"/>
<circle cx="1074.3" cy="601.2" r="7.2"/>
<circle cx="1075.3" cy="531.0" r="7.2"/>
<circle cx="1076.3" cy="601.2" r="7.2"/>
<circle cx="1077.3" cy="601.2" r="7.2"/>
<circle cx="1078.3" cy="601.2" r="7.2"/>
<circle cx="1079.3" cy="601.2" r="7.2"/>
<circle cx="1080.3" cy="531.0" r="7.2"/>
<circle cx="1081.3" cy="601.2" r="7.2"/>
<circle cx="1082.3" cy="601.2" r="7.2"/>
<circle cx="1083.3" cy="601.2" r="7.2"/>
<circle cx="1084.3" cy="531.0" r="7.2"/>
<circle cx="1085.3" cy="601.2" r="7.2"/>
<circle cx="1086.3" cy="601.2" r="7.2"/>
<circle cx="1087.3" cy="601.2" r="7.2"/>
<circle cx="1088.3" cy="601.2" r="7.2"/>
<circle cx="1089.3" cy="601.2" r="7.2"/>
<circle cx="1090.3" cy="460.8" r="7.2"/>
<circle cx="1091.3" cy="531.0" r="7.2"/>
<circle cx="1092.3" cy="601.2" r="7.2"/>
<circle cx="1093.3" cy="601.2" r="7.2"/>
<circle cx="1094.3" cy="601.2" r="7.2"/>
<circle cx="1095.3" cy="601.2" r="7.2"/>
<circle cx="1096.3" cy="531.0" r="7.2"/>
<circle cx="1097.3" cy="601.2" r="7.2"/>
<circle cx="1098.3" cy="601.2" r="7.2"/>
<circle cx="1099.3" cy="601.2" r="7.2"/>
<circle cx="1100.3" cy="601.2" r="7.2"/>
<circle cx="1101.3" cy="601.2" r="7.2"/>
<circle cx="1102.3" cy="601.2" r="7.2"/>
<circle cx="1103.3" cy="601.2" r="7.2"/>
<circle cx="1104.3" cy="601.2" r="7.2"/>
<circle cx="1105.3" cy="460.8" r="7.2"/>
<circle cx="1106.3" cy="601.2" r="7.2"/>
<circle cx="1107.3" cy="601.2" r="7.2"/>
<circle cx="1108.3" cy="601.2" r="7.2"/>
<circle cx="1109.3" cy="601.2" r="7.2"/>
<circle cx="1110.3" cy="601.2" r="7.2"/>
<circle cx="1111.3" cy="460.8" r="7.2"/>
<circle cx="1112.3" cy="601.2" r="7.2"/>
<circle cx="1113.3" cy="601.2" r="7.2"/>
<circle cx="1114.3" cy="601.2" r="7.2"/>
<circle cx="1115.3" cy="601.2" r="7.2"/>
<circle cx="1116.3" cy="601.2" r="7.2"/>
<circle cx="1117.3" cy="601.2" r="7.2"/>
<circle cx="1118.3" cy="460.8" r="7.2"/>
<circle cx="1119.3" cy="601.2" r="7.2"/>
<circle cx="1120.3" cy="601.2" r="7.2"/>
<circle cx="1121.3" cy="601.2" r="7.2"/>
<circle cx="1122.3" cy="601.2" r="7.2"/>
<circle cx="1123.3" cy="601.2" r="7.2"/>
<circle cx="1124.3" cy="601.2" r="7.2"/>
<circle cx="1125.3" cy="460.8" r="7.2"/>
<circle cx="1126.3" cy="601.2" r="7.2"/>
<circle cx="1127.3" cy="601.2" r="7.2"/>
<circle cx="1128.3" cy="601.2" r="7.2"/>
<circle cx="1129.3" cy="460.8" r="7.2"/>
<circle cx="1130.3" cy="601.2" r="7.2"/>
<circle cx="1131.3" cy="601.2" r="7.2"/>
<circle cx="1132.3" cy="601.2" r="7.2"/>
<circle cx="1133.3" cy="460.8" r="7.2"/>
<circle cx="1134.3" cy="601.2" r="7.2"/>
<circle cx="1135.3" cy="601.2" r="7.2"/>
<circle cx="1136.3" cy="601.2" r="7.2"/>
<circle cx="1137.3" cy="601.2" r="7.2"/>
<circle cx="1138.3" cy="601.2" r="7.2"/>
<circle cx="1139.3" cy="460.8" r="7.2"/>
<circle cx="1140.3" cy="601.2" r="7.2"/>
<circle cx="1141.3" cy="601.2" r="7.2"/>
<circle cx="1142.3" cy="601.2" r="7.2"/>
<circle cx="1143.3" cy="601.2" r="7.2"/>
<circle cx="1144.3" cy="601.2" r="7.2"/>
<circle cx="1145.3" cy="531.0" r="7.2"/>
<circle cx="1146.3" cy="601.2" r="7.2"/>
<circle cx="1147.3" cy="601.2" r="7.2"/>
<circle cx="1148.3" cy="601.2" r="7.2"/>
<circle cx="1149.3" cy="601.2" r="7.2"/>
<circle cx="1150.3" cy="601.2" r="7.2"/>
<circle cx="1151.3" cy="601.2" r="7.2"/>
<circle cx="1152.3" cy="601.2" r="7.2"/>
<circle cx="1153.3" cy="601.2" r="7.2"/>
<circle cx="1154.3" cy="601.2" r="7.2"/>
<circle cx="1155.3" cy="601.2" r="7.2"/>
<circle cx="1156.3" cy="460.8" r="7.2"/>
<circle cx="1157.3" cy="601.2" r="7.2"/>
<circle cx="1158.3" cy="601.2" r="7.2"/>
<circle cx="1159.3" cy="601.2" r="7.2"/>
<circle cx="1160.3" cy="460.8" r="7.2"/>
<circle cx="1161.3" cy="601.2" r="7.2"/>
<circle cx="1162.3" cy="601.2" r="7.2"/>
<circle cx="1163.3" cy="601.2" r="7.2"/>
<circle cx="1164.3" cy="601.2" r="7.2"/>
<circle cx="1165.3" cy="601.2" r="7.2"/>
<circle cx="1166.3" cy="460.8" r="7.2"/>
<circle cx="1167.3" cy="601.2" r="7.2"/>
<circle cx="1168.3" cy="601.2" r="7.2"/>
<circle cx="1169.3" cy="601.2" r="7.2"/>
<circle cx="1170.3" cy="601.2" r="7.2"/>
<circle cx="1171.4" cy="601.2" r="7.2"/>
<circle cx="1172.4" cy="601.2" r="7.2"/>
<circle cx="1173.4" cy="601.2" r="7.2"/>
<circle cx="1174.4" cy="601.2" r="7.2"/>
<circle cx="1175.4" cy="601.2" r="7.2"/>
<circle cx="1176.4" cy="601.2" r="7.2"/>
<circle cx="1177.4" cy="601.2" r="7.2"/>
<circle cx="1178.4" cy="601.2" r="7.2"/>
<circle cx="1179.4" cy="601.2" r="7.2"/>
<circle cx="1180.4" cy="601.2" r="7.2"/>
<circle cx="1181.4" cy="601.2" r="7.2"/>
<circle cx="1182.4" cy="460.8" r="7.2"/>
<circle cx="1183.4" cy="531.0" r="7.2"/>
<circle cx="1184.4" cy="460.8" r="7.2"/>
<circle cx="1185.4" cy="601.2" r="7.2"/>
<circle cx="1186.4" cy="531.0" r="7.2"/>
<circle cx="1187.4" cy="460.8" r="7.2"/>
<circle cx="1188.4" cy="601.2" r="7.2"/>
<circle cx="1189.4" cy="601.2" r="7.2"/>
<circle cx="1190.4" cy="531.0" r="7.2"/>
<circle cx="1191.4" cy="601.2" r="7.2"/>
<circle cx="1192.4" cy="601.2" r="7.2"/>
<circle cx="1193.4" cy="601.2" r="7.2"/>
<circle cx="1194.4" cy="531.0" r="7.2"/>
<circle cx="1195.4" cy="601.2" r="7.2"/>
<circle cx="1196.4" cy="601.2" r="7.2"/>
<circle cx="1197.4" cy="601.2" r="7.2"/>
<circle cx="1198.4" cy="460.8" r="7.2"/>
<circle cx="1199.4" cy="531.0" r="7.2"/>
<circle cx="1200.4" cy="601.2" r="7.2"/>
<circle cx="1201.4" cy="601.2" r="7.2"/>
<circle cx="1202.4" cy="601.2" r="7.2"/>
<circle cx="1203.4" cy="601.2" r="7.2"/>
<circle cx="1204.4" cy="601.2" r="7.2"/>
<circle cx="1205.4" cy="601.2" r="7.2"/>
<circle cx="1206.4" cy="601.2" r="7.2"/>
<circle cx="1207.4" cy="601.2" r="7.2"/>
<circle cx="1208.4" cy="601.2" r="7.2"/>
<circle cx="1209.4" cy="601.2" r="7.2"/>
<circle cx="1210.4" cy="601.2" r="7.2"/>
<circle cx="1211.4" cy="601.2" r="7.2"/>
<circle cx="1212.4" cy="601.2" r="7.2"/>
<circle cx="1213.4" cy="601.2" r="7.2"/>
<circle cx="1214.4" cy="601.2" r="7.2"/>
<circle cx="1215.4" cy="601.2" r="7.2"/>
<circle cx="1216.4" cy="601.2" r="7.2"/>
<circle cx="1217.4" cy="601.2" r="7.2"/>
<circle cx="1218.4" cy="601.2" r="7.2"/>
<circle cx="1219.4" cy="601.2" r="7.2"/>
<circle cx="1220.4" cy="601.2" r="7.2"/>
<circle cx="1221.4" cy="601.2" r="7.2"/>
<circle cx="1222.4" cy="601.2" r="7.2"/>
</g>
<path stroke="#000" stroke-width="2" d="M198.4 551.1L199.4 551.1L200.4 551.1L201.4 551.1L202.4 551.1L203.4 551.1L204.4 551.1L205.4 551.1L206.4 551.1L207.4 551.1L208.4 551.1L209.4 551.1L210.4 551.1L211.4 551.1L212.4 551.1L213.4 551.1L214.4 551.1L215.4 551.1L216.4 551.1L217.4 551.1L218.4 551.1L219.4 551.1L220.4 551.1L221.4 551.1L222.4 551.1L223.4 551.1L224.4 551.1L225.4 551.1L226.4 551.1L227.4 551.1L228.4 551.1L229.4 551.1L230.4 551.1L231.4 551.1L232.4 551.1L233.4 551.1L234.4 551.1L235.4 551.1L236.4 551.1L237.4 551.1L238.4 551.1L239.4 551.1L240.4 551.1L241.4 551.1L242.4 551.1L243.4 551.1L244.4 551.1L245.4 551.1L246.4 551.1L247.4 551.1L248.4 551.1L249.4 551.1L250.5 551.1L251.5 551.1L252.5 551.1L253.5 551.1L254.5 551.1L255.5 551.1L256.5 551.1L257.5 551.1L258.5 551.1L259.5 551.1L260.5 551.1L261.5 551.1L262.5 551.1L263.5 551.1L264.5 551.1L265.5 551.1L266.5 551.1L267.5 551.1L268.5 551.1L269.5 551.1L270.5 551.1L271.5 551.1L272.5 551.1L273.5 551.1L274.5 551.1L275.5 551.1L276.5 551.1L277.5 551.1L278.5 551.1L279.5 551.1L280.5 551.1L281.5 551.1L282.5 551.1L283.5 551.1L284.5 551.1L285.5 551.1L286.5 551.1L287.5 551.1L288.5 551.1L289.5 551.1L290.5 551.1L291.5 551.1L292.5 551.1L293.5 551.1L294.5 551.1L295.5 551.1L296.5 551.1L297.5 551.1L298.5 551.1L299.5 551.1L300.5 390.9L301.5 390.9L302.5 390.9L303.5 390.9L304.5 390.9L305.5 390.9L306.5 390.9L307.5 390.9L308.5 390.9L309.5 390.9L310.5 390.9L311.5 390.9L312.5 390.9L313.5 390.9L314.5 390.9L315.5 390.9L316.5 390.9L317.5 390.9L318.5 390.9L319.5 390.9L320.5 390.9L321.5 390.9L322.5 390.9L323.5 390.9L324.5 390.9L325.5 390.9L326.5 390.9L327.5 390.9L328.5 390.9L329.5 390.9L330.5 390.9L331.5 578.1L332.5 578.1L333.5 578.1L334.5 578.1L335.5 578.1L336.5 578.1L337.5 578.1L338.5 578.1L339.5 578.1L340.5 578.1L341.5 578.1L342.5 578.1L343.5 578.1L344.5 578.1L345.5 578.1L346.5 578.1L347.5 578.1L348.5 578.1L349.5 578.1L350.5 578.1L351.5 483.1L352.6 483.1L353.6 483.1L354.6 483.1L355.6 483.1L356.6 483.1L357.6 483.1L358.6 483.1L359.6 483.1L360.6 483.1L361.6 483.1L362.6 483.1L363.6 483.1L364.6 483.1L365.6 483.1L366.6 483.1L367.6 483.1L368.6 483.1L369.6 483.1L370.6 483.1L371.6 483.1L372.6 483.1L373.6 483.1L374.6 483.1L375.6 483.1L376.6 483.1L377.6 483.1L378.6 483.1L379.6 483.1L380.6 483.1L381.6 483.1L382.6 483.1L383.6 483.1L384.6 483.1L385.6 483.1L386.6 483.1L387.6 483.1L388.6 483.1L389.6 483.1L390.6 483.1L391.6 483.1L392.6 483.1L393.6 483.1L394.6 483.1L395.6 483.1L396.6 483.1L397.6 483.1L398.6 483.1L399.6 483.1L400.6 483.1L401.6 483.1L402.6 483.1L403.6 483.1L404.6 483.1L405.6 483.1L406.6 483.1L407.6 483.1L408.6 483.1L409.6 483.1L410.6 483.1L411.6 483.1L412.6 483.1L413.6 483.1L414.6 483.1L415.6 483.1L416.6 483.1L417.6 483.1L418.6 483.1L419.6 483.1L420.6 483.1L421.6 483.1L422.6 483.1L423.6 483.1L424.6 483.1L425.6 483.1L426.6 483.1L427.6 483.1L428.6 483.1L429.6 483.1L430.6 483.1L431.6 483.1L432.6 483.1L433.6 601.2L434.6 601.2L435.6 601.2L436.6 601.2L437.6 601.2L438.6 601.2L439.6 601.2L440.6 601.2L441.6 601.2L442.6 601.2L443.6 601.2L444.6 601.2L445.6 601.2L446.6 601.2L447.6 601.2L448.6 601.2L449.6 601.2L450.6 601.2L451.6 601.2L452.6 601.2L453.6 601.2L454.7 440.5L455.7 440.5L456.7 440.5L457.7 440.5L458.7 440.5L459.7 440.5L460.7 440.5L461.7 440.5L462.7 440.5L463.7 440.5L464.7 440.5L465.7 440.5L466.7 440.5L467.7 440.5L468.7 440.5L469.7 440.5L470.7 440.5L471.7 440.5L472.7 440.5L473.7 440.5L474.7 440.5L475.7 440.5L476.7 440.5L477.7 440.5L478.7 440.5L479.7 440.5L480.7 440.5L481.7 440.5L482.7 440.5L483.7 440.5L484.7 440.5L485.7 440.5L486.7 440.5L487.7 440.5L488.7 440.5L489.7 440.5L490.7 440.5L491.7 440.5L492.7 440.5L493.7 440.5L494.7 440.5L495.7 440.5L496.7 440.5L497.7 440.5L498.7 440.5L499.7 440.5L500.7 440.5L501.7 440.5L502.7 440.5L503.7 440.5L504.7 440.5L505.7 440.5L506.7 440.5L507.7 440.5L508.7 440.5L509.7 440.5L510.7 440.5L511.7 440.5L512.7 440.5L513.7 440.5L514.7 440.5L515.7 440.5L516.7 440.5L517.7 440.5L518.7 440.5L519.7 440.5L520.7 440.5L521.7 440.5L522.7 440.5L523.7 440.5L524.7 440.5L525.7 440.5L526.7 440.5L527.7 440.5L528.7 440.5L529.7 440.5L530.7 440.5L531.7 440.5L532.7 440.5L533.7 440.5L534.7 440.5L535.7 440.5L536.7 440.5L537.7 440.5L538.7 440.5L539.7 440.5L540.7 440.5L541.7 440.5L542.7 440.5L543.7 440.5L544.7 440.5L545.7 440.5L546.7 440.5L547.7 440.5L548.7 440.5L549.7 440.5L550.7 440.5L551.7 440.5L552.7 440.5L553.7 440.5L554.7 440.5L555.7 440.5L556.7 440.5L557.8 440.5L558.8 440.5L559.8 440.5L560.8 440.5L561.8 440.5L562.8 440.5L563.8 440.5L564.8 440.5L565.8 440.5L566.8 440.5L567.8 440.5L568.8 440.5L569.8 440.5L570.8 440.5L571.8 440.5L572.8 440.5L573.8 440.5L574.8 440.5L575.8 440.5L576.8 440.5L577.8 440.5L578.8 440.5L579.8 440.5L580.8 440.5L581.8 440.5L582.8 440.5L583.8 440.5L584.8 440.5L585.8 440.5L586.8 440.5L587.8 440.5L588.8 440.5L589.8 440.5L590.8 440.5L591.8 440.5L592.8 440.5L593.8 440.5L594.8 440.5L595.8 440.5L596.8 440.5L597.8 440.5L598.8 440.5L599.8 440.5L600.8 440.5L601.8 440.5L602.8 440.5L603.8 440.5L604.8 440.5L605.8 440.5L606.8 440.5L607.8 583.0L608.8 583.0L609.8 583.0L610.8 583.0L611.8 583.0L612.8 583.0L613.8 583.0L614.8 583.0L615.8 583.0L616.8 583.0L617.8 583.0L618.8 583.0L619.8 583.0L620.8 583.0L621.8 583.0L622.8 583.0L623.8 583.0L624.8 583.0L625.8 583.0L626.8 583.0L627.8 583.0L628.8 583.0L629.8 583.0L630.8 583.0L631.8 583.0L632.8 583.0L633.8 583.0L634.8 583.0L635.8 583.0L636.8 583.0L637.8 583.0L638.8 583.0L639.8 583.0L640.8 583.0L641.8 583.0L642.8 583.0L643.8 583.0L644.8 583.0L645.8 583.0L646.8 583.0L647.8 583.0L648.8 523.1L649.8 523.1L650.8 523.1L651.8 523.1L652.8 523.1L653.8 523.1L654.8 523.1L655.8 523.1L656.8 523.1L657.8 523.1L658.8 523.1L659.9 523.1L660.9 523.1L661.9 523.1L662.9 523.1L663.9 523.1L664.9 523.1L665.9 523.1L666.9 523.1L667.9 523.1L668.9 523.1L669.9 523.1L670.9 523.1L671.9 523.1L672.9 523.1L673.9 523.1L674.9 523.1L675.9 523.1L676.9 523.1L677.9 523.1L678.9 523.1L679.9 523.1L680.9 523.1L681.9 523.1L682.9 523.1L683.9 523.1L684.9 523.1L685.9 523.1L686.9 523.1L687.9 523.1L688.9 523.1L689.9 523.1L690.9 523.1L691.9 523.1L692.9 523.1L693.9 523.1L694.9 523.1L695.9 523.1L696.9 523.1L697.9 523.1L698.9 523.1L699.9 523.1L700.9 523.1L701.9 523.1L702.9 523.1L703.9 523.1L704.9 523.1L705.9 523.1L706.9 523.1L707.9 523.1L708.9 523.1L709.9 523.1L710.9 523.1L711.9 523.1L712.9 523.1L713.9 523.1L714.9 523.1L715.9 523.1L716.9 523.1L717.9 523.1L718.9 523.1L719.9 523.1L720.9 523.1L721.9 523.1L722.9 523.1L723.9 523.1L724.9 523.1L725.9 523.1L726.9 523.1L727.9 523.1L728.9 523.1L729.9 523.1L730.9 523.1L731.9 523.1L732.9 523.1L733.9 523.1L734.9 523.1L735.9 523.1L736.9 523.1L737.9 523.1L738.9 523.1L739.9 523.1L740.9 523.1L741.9 523.1L742.9 523.1L743.9 523.1L744.9 523.1L745.9 523.1L746.9 523.1L747.9 523.1L748.9 523.1L749.9 523.1L750.9 523.1L751.9 523.1L752.9 523.1L753.9 523.1L754.9 523.1L755.9 523.1L756.9 523.1L757.9 523.1L758.9 523.1L759.9 523.1L760.9 523.1L762.0 523.1L763.0 523.1L764.0 523.1L765.0 523.1L766.0 523.1L767.0 523.1L768.0 523.1L769.0 523.1L770.0 523.1L771.0 523.1L772.0 523.1L773.0 523.1L774.0 523.1L775.0 523.1L776.0 523.1L777.0 523.1L778.0 523.1L779.0 523.1L780.0 523.1L781.0 523.1L782.0 523.1L783.0 523.1L784.0 523.1L785.0 523.1L786.0 523.1L787.0 523.1L788.0 523.1L789.0 523.1L790.0 523.1L791.0 523.1L792.0 523.1L793.0 523.1L794.0 523.1L795.0 523.1L796.0 523.1L797.0 523.1L798.0 523.1L799.0 523.1L800.0 523.1L801.0 523.1L802.0 523.1L803.0 523.1L804.0 523.1L805.0 523.1L806.0 523.1L807.0 523.1L808.0 523.1L809.0 523.1L810.0 523.1L811.0 523.1L812.0 523.1L813.0 523.1L814.0 523.1L815.0 523.1L816.0 523.1L817.0 523.1L818.0 523.1L819.0 523.1L820.0 523.1L821.0 523.1L822.0 523.1L823.0 523.1L824.0 523.1L825.0 523.1L826.0 523.1L827.0 523.1L828.0 523.1L829.0 523.1L830.0 523.1L831.0 523.1L832.0 523.1L833.0 523.1L834.0 523.1L835.0 523.1L836.0 523.1L837.0 523.1L838.0 523.1L839.0 523.1L840.0 523.1L841.0 523.1L842.0 523.1L843.0 523.1L844.0 523.1L845.0 523.1L846.0 523.1L847.0 523.1L848.0 523.1L849.0 523.1L850.0 523.1L851.0 523.1L852.0 523.1L853.0 523.1L854.0 523.1L855.0 523.1L856.0 523.1L857.0 523.1L858.0 523.1L859.0 523.1L860.0 523.1L861.0 523.1L862.0 523.1L863.0 523.1L864.1 320.4L865.1 320.4L866.1 320.4L867.1 320.4L868.1 320.4L869.1 320.4L870.1 320.4L871.1 320.4L872.1 320.4L873.1 320.4L874.1 320.4L875.1 320.4L876.1 320.4L877.1 320.4L878.1 320.4L879.1 320.4L880.1 320.4L881.1 320.4L882.1 320.4L883.1 320.4L884.1 320.4L885.1 320.4L886.1 320.4L887.1 320.4L888.1 320.4L889.1 320.4L890.1 320.4L891.1 320.4L892.1 320.4L893.1 320.4L894.1 320.4L895.1 320.4L896.1 320.4L897.1 320.4L898.1 320.4L899.1 320.4L900.1 320.4L901.1 320.4L902.1 320.4L903.1 320.4L904.1 320.4L905.1 320.4L906.1 320.4L907.1 320.4L908.1 320.4L909.1 320.4L910.1 320.4L911.1 320.4L912.1 320.4L913.1 320.4L914.1 320.4L915.1 320.4L916.1 320.4L917.1 320.4L918.1 320.4L919.1 320.4L920.1 320.4L921.1 320.4L922.1 320.4L923.1 320.4L924.1 320.4L925.1 320.4L926.1 320.4L927.1 320.4L928.1 320.4L929.1 320.4L930.1 320.4L931.1 320.4L932.1 320.4L933.1 320.4L934.1 320.4L935.1 320.4L936.1 320.4L937.1 320.4L938.1 320.4L939.1 320.4L940.1 320.4L941.1 320.4L942.1 320.4L943.1 320.4L944.1 320.4L945.1 320.4L946.1 320.4L947.1 320.4L948.1 320.4L949.1 320.4L950.1 320.4L951.1 320.4L952.1 320.4L953.1 320.4L954.1 320.4L955.1 320.4L956.1 320.4L957.1 320.4L958.1 320.4L959.1 320.4L960.1 320.4L961.1 320.4L962.1 320.4L963.1 320.4L964.1 320.4L965.1 320.4L966.1 320.4L967.2 320.4L968.2 320.4L969.2 320.4L970.2 320.4L971.2 320.4L972.2 320.4L973.2 320.4L974.2 320.4L975.2 320.4L976.2 320.4L977.2 479.1L978.2 479.1L979.2 479.1L980.2 479.1L981.2 479.1L982.2 479.1L983.2 479.1L984.2 479.1L985.2 479.1L986.2 479.1L987.2 479.1L988.2 479.1L989.2 479.1L990.2 479.1L991.2 479.1L992.2 479.1L993.2 479.1L994.2 479.1L995.2 479.1L996.2 479.1L997.2 380.0L998.2 380.0L999.2 380.0L1000.2 380.0L1001.2 380.0L1002.2 380.0L1003.2 380.0L1004.2 380.0L1005.2 380.0L1006.2 380.0L1007.2 380.0L1008.2 380.0L1009.2 380.0L1010.2 380.0L1011.2 380.0L1012.2 380.0L1013.2 380.0L1014.2 380.0L1015.2 380.0L1016.2 380.0L1017.2 380.0L1018.2 380.0L1019.2 380.0L1020.2 380.0L1021.2 380.0L1022.2 380.0L1023.2 380.0L1024.2 380.0L1025.2 380.0L1026.2 380.0L1027.2 380.0L1028.2 551.1L1029.2 551.1L1030.2 551.1L1031.2 551.1L1032.2 551.1L1033.2 551.1L1034.2 551.1L1035.2 551.1L1036.2 551.1L1037.2 551.1L1038.2 551.1L1039.2 551.1L1040.2 551.1L1041.2 551.1L1042.2 551.1L1043.2 551.1L1044.2 551.1L1045.2 551.1L1046.2 551.1L1047.2 551.1L1048.2 551.1L1049.2 551.1L1050.2 551.1L1051.2 551.1L1052.2 551.1L1053.2 551.1L1054.2 551.1L1055.2 551.1L1056.2 551.1L1057.2 551.1L1058.2 551.1L1059.2 551.1L1060.2 551.1L1061.2 551.1L1062.2 551.1L1063.2 551.1L1064.2 551.1L1065.2 551.1L1066.2 551.1L1067.2 551.1L1068.2 551.1L1069.3 551.1L1070.3 551.1L1071.3 551.1L1072.3 551.1L1073.3 551.1L1074.3 551.1L1075.3 551.1L1076.3 551.1L1077.3 551.1L1078.3 551.1L1079.3 551.1L1080.3 551.1L1081.3 551.1L1082.3 551.1L1083.3 551.1L1084.3 551.1L1085.3 551.1L1086.3 551.1L1087.3 551.1L1088.3 551.1L1089.3 551.1L1090.3 551.1L1091.3 551.1L1092.3 551.1L1093.3 551.1L1094.3 551.1L1095.3 551.1L1096.3 551.1L1097.3 551.1L1098.3 551.1L1099.3 551.1L1100.3 551.1L1101.3 551.1L1102.3 551.1L1103.3 551.1L1104.3 551.1L1105.3 551.1L1106.3 551.1L1107.3 551.1L1108.3 551.1L1109.3 551.1L1110.3 551.1L1111.3 551.1L1112.3 551.1L1113.3 551.1L1114.3 551.1L1115.3 551.1L1116.3 551.1L1117.3 551.1L1118.3 551.1L1119.3 551.1L1120.3 551.1L1121.3 551.1L1122.3 551.1L1123.3 551.1L1124.3 551.1L1125.3 551.1L1126.3 551.1L1127.3 551.1L1128.3 551.1L1129.3 551.1L1130.3 551.1L1131.3 551.1L1132.3 551.1L1133.3 551.1L1134.3 551.1L1135.3 551.1L1136.3 551.1L1137.3 551.1L1138.3 551.1L1139.3 551.1L1140.3 551.1L1141.3 551.1L1142.3 551.1L1143.3 551.1L1144.3 551.1L1145.3 551.1L1146.3 551.1L1147.3 551.1L1148.3 551.1L1149.3 551.1L1150.3 551.1L1151.3 551.1L1152.3 551.1L1153.3 551.1L1154.3 551.1L1155.3 551.1L1156.3 551.1L1157.3 551.1L1158.3 551.1L1159.3 551.1L1160.3 551.1L1161.3 551.1L1162.3 551.1L1163.3 551.1L1164.3 551.1L1165.3 551.1L1166.3 551.1L1167.3 551.1L1168.3 551.1L1169.3 551.1L1170.3 551.1L1171.4 551.1L1172.4 551.1L1173.4 551.1L1174.4 551.1L1175.4 551.1L1176.4 551.1L1177.4 551.1L1178.4 551.1L1179.4 551.1L1180.4 551.1L1181.4 551.1L1182.4 551.1L1183.4 551.1L1184.4 551.1L1185.4 551.1L1186.4 551.1L1187.4 551.1L1188.4 551.1L1189.4 551.1L1190.4 551.1L1191.4 551.1L1192.4 551.1L1193.4 551.1L1194.4 551.1L1195.4 551.1L1196.4 551.1L1197.4 551.1L1198.4 551.1L1199.4 551.1L1200.4 551.1L1201.4 551.1L1202.4 551.1L1203.4 551.1L1204.4 551.1L1205.4 551.1L1206.4 551.1L1207.4 551.1L1208.4 551.1L1209.4 551.1L1210.4 551.1L1211.4 551.1L1212.4 551.1L1213.4 551.1L1214.4 551.1L1215.4 551.1L1216.4 551.1L1217.4 551.1L1218.4 551.1L1219.4 551.1L1220.4 551.1L1221.4 551.1L1222.4 551.1"/>
<g stroke="#ccc" stroke-width="1.9">
<path d="M198.4 549.1L200.4 549.0L202.4 548.9L204.4 548.7L206.4 548.5L208.4 548.2L210.4 547.7L212.4 547.1L214.4 546.4L216.4 545.6L218.4 544.8L220.4 544.0L222.4 543.3L224.4 542.6L226.4 541.9L228.4 541.4L230.4 540.9L232.4 540.5L234.4 540.2L236.4 540.1L238.4 540.2L240.4 540.7L242.4 541.5L244.4 542.5L246.4 543.6L248.4 544.5L250.5 545.2L252.5 545.6L254.5 545.7L256.5 545.4L258.5 545.0L260.5 544.4L262.5 543.7L264.5 543.0L266.5 542.2L268.5 541.5L270.5 540.6L272.5 539.7L274.5 538.4L276.5 536.8L278.5 534.8L280.5 532.5L282.5 529.9L284.5 526.9L286.5 523.5L288.5 519.7L290.5 515.5L292.5 510.9L294.5 506.0L296.5 501.2L298.5 496.4L300.5 492.1L302.5 488.4L304.5 485.9L306.5 484.5L308.5 484.1L310.5 484.0L312.5 483.5L314.5 482.4L316.5 481.4L318.5 481.3L320.5 482.4L322.5 484.7L324.5 487.6L326.5 490.2L328.5 492.8L330.5 495.9L332.5 499.5L334.5 503.4L336.5 507.2L338.5 510.2L340.5 511.8L342.5 512.0L344.5 511.3L346.5 510.2L348.5 508.9L350.5 507.2L352.6 505.3L354.6 503.6L356.6 502.3L358.6 501.3L360.6 500.6L362.6 499.9L364.6 499.2L366.6 498.5L368.6 497.7L370.6 496.9L372.6 496.0L374.6 495.1L376.6 494.3L378.6 493.6L380.6 493.2L382.6 493.2L384.6 493.5L386.6 494.1L388.6 495.1L390.6 496.2L392.6 497.3L394.6 498.5L396.6 499.5L398.6 500.4L400.6 501.1L402.6 501.4L404.6 501.3L406.6 500.9L408.6 500.1L410.6 499.1L412.6 498.0L414.6 496.9L416.6 495.9L418.6 495.3L420.6 494.9L422.6 494.8L424.6 495.0L426.6 495.3L428.6 495.8L430.6 496.5L432.6 497.5L434.6 498.5L436.6 499.4L438.6 500.2L440.6 500.7L442.6 500.6L444.6 499.6L446.6 497.6L448.6 494.5L450.6 490.4L452.6 485.8L454.7 481.6L456.7 477.9L458.7 475.0L460.7 472.8L462.7 471.3L464.7 470.1L466.7 469.2L468.7 468.4L470.7 467.6L472.7 467.0L474.7 466.4L476.7 466.0L478.7 465.7L480.7 465.6L482.7 465.6L484.7 465.8L486.7 466.0L488.7 466.3L490.7 466.5L492.7 466.7L494.7 466.7L496.7 466.6L498.7 466.7L500.7 466.9L502.7 467.3L504.7 468.0L506.7 468.7L508.7 469.5L510.7 470.3L512.7 471.0L514.7 471.7L516.7 472.2L518.7 472.6L520.7 472.9L522.7 472.9L524.7 472.8L526.7 472.4L528.7 471.9L530.7 471.4L532.7 470.9L534.7 470.3L536.7 469.8L538.7 469.1L540.7 468.5L542.7 467.8L544.7 467.1L546.7 466.5L548.7 465.9L550.7 465.2L552.7 464.5L554.7 463.6L556.7 462.3L558.8 460.4L560.8 457.8L562.8 454.3L564.8 449.9L566.8 444.7L568.8 438.7L570.8 432.3L572.8 425.9L574.8 419.6L576.8 414.1L578.8 409.5L580.8 406.3L582.8 404.7L584.8 406.1L586.8 418.0L588.8 436.1L590.8 453.4L592.8 465.9L594.8 473.7L596.8 479.1L598.8 484.0L600.8 489.7L602.8 495.9L604.8 501.9L606.8 507.0L608.8 511.3L610.8 514.7L612.8 517.4L614.8 519.4L616.8 520.9L618.8 522.0L620.8 523.2L622.8 524.4L624.8 525.7L626.8 527.0L628.8 528.1L630.8 529.1L632.8 529.8L634.8 530.4L636.8 530.9L638.8 531.4L640.8 531.8L642.8 531.9L644.8 532.0L646.8 532.0L648.8 531.8L650.8 531.4L652.8 530.8L654.8 530.2L656.8 529.7L658.8 529.3L660.9 529.0L662.9 528.9L664.9 528.9L666.9 529.1L668.9 529.2L670.9 529.4L672.9 529.4L674.9 529.4L676.9 529.2L678.9 529.0L680.9 528.8L682.9 528.7L684.9 528.5L686.9 528.5L688.9 528.6L690.9 528.7L692.9 528.7L694.9 528.6L696.9 528.4L698.9 528.2L700.9 528.1L702.9 528.1L704.9 528.3L706.9 528.6L708.9 529.0L710.9 529.3L712.9 529.6L714.9 529.6L716.9 529.4L718.9 529.1L720.9 528.7L722.9 528.3L724.9 528.0L726.9 527.9L728.9 528.0L730.9 528.0L732.9 528.1L734.9 527.9L736.9 527.7L738.9 527.4L740.9 527.0L742.9 526.8L744.9 526.7L746.9 526.9L748.9 527.3L750.9 527.8L752.9 528.4L754.9 529.1L756.9 529.7L758.9 530.1L760.9 530.3L763.0 530.4L765.0 530.4L767.0 530.5L769.0 530.6L771.0 530.7L773.0 530.8L775.0 530.9L777.0 531.0L779.0 531.1L781.0 531.1L783.0 531.2L785.0 531.1L787.0 531.1L789.0 531.0L791.0 530.9L793.0 531.0L795.0 531.2L797.0 531.4L799.0 531.5L801.0 531.5L803.0 531.2L805.0 530.7L807.0 529.9L809.0 528.9L811.0 527.8L813.0 526.6L815.0 525.3L817.0 524.0L819.0 522.6L821.0 521.3L823.0 520.1L825.0 518.9L827.0 517.8L829.0 516.5L831.0 515.1L833.0 513.5L835.0 511.6L837.0 509.5L839.0 507.2L841.0 504.5L843.0 501.1L845.0 496.8L847.0 491.2L849.0 483.9L851.0 475.0L853.0 464.6L855.0 453.0L857.0 440.6L859.0 428.0L861.0 415.1L863.0 401.8L865.1 389.3L867.1 378.0L869.1 368.5L871.1 360.8L873.1 354.7L875.1 349.8L877.1 346.0L879.1 342.9L881.1 340.5L883.1 338.6L885.1 337.2L887.1 336.3L889.1 335.8L891.1 335.6L893.1 335.5L895.1 335.6L897.1 336.1L899.1 337.0L901.1 338.1L903.1 339.5L905.1 341.2L907.1 343.1L909.1 345.3L911.1 347.5L913.1 349.7L915.1 351.9L917.1 353.9L919.1 355.9L921.1 358.0L923.1 360.0L925.1 362.1L927.1 364.0L929.1 365.7L931.1 367.2L933.1 368.4L935.1 369.3L937.1 369.9L939.1 370.2L941.1 370.3L943.1 370.2L945.1 370.1L947.1 370.1L949.1 370.2L951.1 370.5L953.1 370.8L955.1 371.1L957.1 371.3L959.1 371.3L961.1 371.1L963.1 370.9L965.1 371.0L967.2 371.5L969.2 372.4L971.2 373.7L973.2 375.6L975.2 378.5L977.2 382.4L979.2 387.1L981.2 391.8L983.2 395.7L985.2 398.8L987.2 401.2L989.2 403.2L991.2 404.9L993.2 406.2L995.2 407.3L997.2 408.1L999.2 408.9L1001.2 409.8L1003.2 411.0L1005.2 412.7L1007.2 415.1L1009.2 418.5L1011.2 423.0L1013.2 428.7L1015.2 435.2L1017.2 442.2L1019.2 449.5L1021.2 456.9L1023.2 464.4L1025.2 471.8L1027.2 479.0L1029.2 486.1L1031.2 492.8L1033.2 499.0L1035.2 504.5L1037.2 509.0L1039.2 513.0L1041.2 516.7L1043.2 520.2L1045.2 523.3L1047.2 526.1L1049.2 528.9L1051.2 531.6L1053.2 534.6L1055.2 537.5L1057.2 540.1L1059.2 542.1L1061.2 543.4L1063.2 544.3L1065.2 544.8L1067.2 545.1L1069.3 545.3L1071.3 545.5L1073.3 545.9L1075.3 546.6L1077.3 547.3L1079.3 548.1L1081.3 548.9L1083.3 549.5L1085.3 550.0L1087.3 550.5L1089.3 550.9L1091.3 551.3L1093.3 551.8L1095.3 552.2L1097.3 552.7L1099.3 553.2L1101.3 553.6L1103.3 553.7L1105.3 553.7L1107.3 553.5L1109.3 553.2L1111.3 552.9L1113.3 552.8L1115.3 552.8L1117.3 553.0L1119.3 553.5L1121.3 554.0L1123.3 554.7L1125.3 555.3L1127.3 555.8L1129.3 556.2L1131.3 556.5L1133.3 556.8L1135.3 557.1L1137.3 557.5L1139.3 558.0L1141.3 558.6L1143.3 559.2L1145.3 559.7L1147.3 560.2L1149.3 560.5L1151.3 560.6L1153.3 560.5L1155.3 560.1L1157.3 559.6L1159.3 559.0L1161.3 558.5L1163.3 557.9L1165.3 557.4L1167.3 556.7L1169.3 555.9L1171.4 555.0L1173.4 554.0L1175.4 553.0L1177.4 552.2L1179.4 551.7L1181.4 551.5L1183.4 551.6L1185.4 551.9L1187.4 552.3L1189.4 552.7L1191.4 552.8L1193.4 552.6L1195.4 552.3L1197.4 551.7L1199.4 551.0L1201.4 550.2L1203.4 549.4L1205.4 548.6L1207.4 547.7L1209.4 546.8L1211.4 546.0L1213.4 545.4L1215.4 544.9L1217.4 544.7L1219.4 544.7L1221.4 545.0L1222.4 545.2"/>
<path d="M198.4 537.5L200.4 537.7L202.4 538.0L204.4 538.4L206.4 538.9L208.4 539.2L210.4 539.4L212.4 539.3L214.4 539.1L216.4 538.8L218.4 538.5L220.4 538.2L222.4 538.0L224.4 537.7L226.4 537.5L228.4 537.3L230.4 537.1L232.4 537.0L234.4 537.1L236.4 537.2L238.4 537.5L240.4 537.8L242.4 538.2L244.4 538.5L246.4 538.8L248.4 539.0L250.5 539.1L252.5 539.3L254.5 539.3L256.5 539.3L258.5 539.1L260.5 538.8L262.5 538.3L264.5 537.6L266.5 536.7L268.5 535.8L270.5 534.8L272.5 533.9L274.5 533.0L276.5 532.0L278.5 530.6L280.5 528.8L282.5 526.4L284.5 523.7L286.5 520.8L288.5 517.7L290.5 514.1L292.5 509.9L294.5 505.3L296.5 500.2L298.5 494.8L300.5 489.2L302.5 483.9L304.5 479.0L306.5 474.8L308.5 471.8L310.5 470.1L312.5 469.1L314.5 467.9L316.5 466.8L318.5 466.2L320.5 466.3L322.5 467.4L324.5 469.5L326.5 472.2L328.5 475.3L330.5 479.2L332.5 483.7L334.5 488.4L336.5 493.1L338.5 497.8L340.5 502.0L342.5 505.2L344.5 507.2L346.5 508.0L348.5 508.0L350.5 507.4L352.6 506.3L354.6 504.6L356.6 502.6L358.6 500.6L360.6 499.1L362.6 498.0L364.6 497.5L366.6 497.3L368.6 497.4L370.6 497.7L372.6 498.2L374.6 498.6L376.6 499.0L378.6 499.3L380.6 499.5L382.6 499.6L384.6 499.5L386.6 499.3L388.6 498.8L390.6 498.2L392.6 497.6L394.6 497.0L396.6 496.5L398.6 496.3L400.6 496.3L402.6 496.4L404.6 496.5L406.6 496.8L408.6 497.1L410.6 497.6L412.6 498.3L414.6 499.1L416.6 500.0L418.6 500.8L420.6 501.5L422.6 502.0L424.6 502.4L426.6 502.8L428.6 503.3L430.6 503.8L432.6 504.3L434.6 505.0L436.6 505.6L438.6 506.0L440.6 506.2L442.6 505.9L444.6 505.3L446.6 504.2L448.6 502.2L450.6 499.3L452.6 495.5L454.7 491.0L456.7 486.3L458.7 481.9L460.7 478.3L462.7 475.5L464.7 473.1L466.7 471.1L468.7 469.3L470.7 467.6L472.7 465.8L474.7 463.7L476.7 461.0L478.7 456.8L480.7 450.5L482.7 442.5L484.7 435.1L486.7 431.1L488.7 432.3L490.7 437.7L492.7 444.7L494.7 450.6L496.7 454.5L498.7 456.5L500.7 457.5L502.7 458.0L504.7 458.3L506.7 458.4L508.7 458.2L510.7 458.0L512.7 457.6L514.7 457.3L516.7 457.0L518.7 456.8L520.7 456.8L522.7 456.9L524.7 457.1L526.7 457.4L528.7 457.6L530.7 457.8L532.7 458.0L534.7 458.0L536.7 457.9L538.7 457.9L540.7 457.8L542.7 457.9L544.7 458.0L546.7 458.4L548.7 458.8L550.7 459.4L552.7 460.0L554.7 460.5L556.7 460.8L558.8 461.0L560.8 460.9L562.8 460.6L564.8 460.4L566.8 460.2L568.8 460.3L570.8 460.7L572.8 461.4L574.8 462.4L576.8 463.7L578.8 465.1L580.8 466.6L582.8 468.1L584.8 469.6L586.8 471.1L588.8 472.5L590.8 474.0L592.8 475.6L594.8 477.4L596.8 479.3L598.8 481.5L600.8 484.3L602.8 488.2L604.8 493.5L606.8 499.6L608.8 505.7L610.8 511.1L612.8 515.7L614.8 519.6L616.8 522.9L618.8 525.6L620.8 527.6L622.8 529.1L624.8 530.2L626.8 530.9L628.8 531.4L630.8 531.5L632.8 531.4L634.8 531.1L636.8 530.6L638.8 530.1L640.8 529.2L642.8 528.1L644.8 527.2L646.8 526.4L648.8 525.9L650.8 525.6L652.8 525.3L654.8 525.2L656.8 525.2L658.8 525.2L660.9 525.2L662.9 525.3L664.9 525.4L666.9 525.4L668.9 525.3L670.9 525.2L672.9 525.0L674.9 524.8L676.9 524.5L678.9 524.4L680.9 524.3L682.9 524.3L684.9 524.3L686.9 524.4L688.9 524.5L690.9 524.4L692.9 524.3L694.9 524.0L696.9 523.6L698.9 523.3L700.9 523.1L702.9 523.1L704.9 523.1L706.9 523.2L708.9 523.2L710.9 523.1L712.9 523.0L714.9 523.0L716.9 523.0L718.9 523.2L720.9 523.5L722.9 523.9L724.9 524.2L726.9 524.6L728.9 524.9L730.9 525.2L732.9 525.6L734.9 526.0L736.9 526.6L738.9 527.1L740.9 527.6L742.9 528.1L744.9 528.4L746.9 528.6L748.9 528.9L750.9 529.1L752.9 529.5L754.9 529.8L756.9 530.3L758.9 530.7L760.9 531.2L763.0 531.6L765.0 532.0L767.0 532.3L769.0 532.5L771.0 532.6L773.0 532.6L775.0 532.4L777.0 532.0L779.0 531.5L781.0 530.7L783.0 529.6L785.0 528.4L787.0 527.2L789.0 526.0L791.0 525.0L793.0 524.2L795.0 523.6L797.0 523.1L799.0 522.6L801.0 522.1L803.0 521.4L805.0 520.8L807.0 520.0L809.0 519.3L811.0 518.7L813.0 518.1L815.0 517.6L817.0 517.3L819.0 517.2L821.0 517.1L823.0 517.1L825.0 517.0L827.0 516.8L829.0 516.5L831.0 516.0L833.0 515.4L835.0 514.7L837.0 514.0L839.0 513.1L841.0 512.0L843.0 510.4L845.0 508.3L847.0 505.5L849.0 501.6L851.0 496.4L853.0 489.6L855.0 481.1L857.0 471.0L859.0 459.3L861.0 445.6L863.0 430.4L865.1 415.3L867.1 400.8L869.1 386.9L871.1 374.2L873.1 363.3L875.1 354.2L877.1 347.0L879.1 341.4L881.1 337.1L883.1 333.9L885.1 331.6L887.1 329.9L889.1 328.7L891.1 328.0L893.1 327.5L895.1 327.5L897.1 328.0L899.1 328.6L901.1 329.4L903.1 330.2L905.1 330.9L907.1 331.5L909.1 331.8L911.1 331.9L913.1 331.9L915.1 331.8L917.1 331.7L919.1 331.6L921.1 331.6L923.1 331.6L925.1 331.8L927.1 332.1L929.1 332.5L931.1 333.0L933.1 333.6L935.1 334.4L937.1 335.3L939.1 336.3L941.1 337.2L943.1 338.0L945.1 338.9L947.1 339.7L949.1 340.7L951.1 341.8L953.1 343.2L955.1 344.8L957.1 346.6L959.1 348.5L961.1 350.3L963.1 351.8L965.1 353.4L967.2 355.2L969.2 357.4L971.2 360.0L973.2 363.1L975.2 366.6L977.2 370.4L979.2 375.0L981.2 380.5L983.2 386.6L985.2 392.5L987.2 397.7L989.2 401.5L991.2 404.2L993.2 406.0L995.2 407.5L997.2 408.7L999.2 409.8L1001.2 410.8L1003.2 411.8L1005.2 413.0L1007.2 414.5L1009.2 416.2L1011.2 418.3L1013.2 420.9L1015.2 424.3L1017.2 428.5L1019.2 433.5L1021.2 439.1L1023.2 445.0L1025.2 451.1L1027.2 457.4L1029.2 463.4L1031.2 469.3L1033.2 474.9L1035.2 480.0L1037.2 484.4L1039.2 488.4L1041.2 492.3L1043.2 496.5L1045.2 500.9L1047.2 505.5L1049.2 510.1L1051.2 514.7L1053.2 519.0L1055.2 523.2L1057.2 527.2L1059.2 530.8L1061.2 533.9L1063.2 536.2L1065.2 537.9L1067.2 539.3L1069.3 540.2L1071.3 540.8L1073.3 541.1L1075.3 540.9L1077.3 540.7L1079.3 540.4L1081.3 540.1L1083.3 540.0L1085.3 540.1L1087.3 540.4L1089.3 541.0L1091.3 541.6L1093.3 542.3L1095.3 542.9L1097.3 543.4L1099.3 543.8L1101.3 544.0L1103.3 544.1L1105.3 544.2L1107.3 544.4L1109.3 544.7L1111.3 545.1L1113.3 545.7L1115.3 546.3L1117.3 546.8L1119.3 547.1L1121.3 547.1L1123.3 547.0L1125.3 546.9L1127.3 546.7L1129.3 546.7L1131.3 546.8L1133.3 547.1L1135.3 547.6L1137.3 548.1L1139.3 548.6L1141.3 548.9L1143.3 549.1L1145.3 549.1L1147.3 549.0L1149.3 548.8L1151.3 548.5L1153.3 548.4L1155.3 548.2L1157.3 548.1L1159.3 547.9L1161.3 547.6L1163.3 547.2L1165.3 546.7L1167.3 546.1L1169.3 545.6L1171.4 545.1L1173.4 544.7L1175.4 544.4L1177.4 544.2L1179.4 544.2L1181.4 544.4L1183.4 544.8L1185.4 545.4L1187.4 546.0L1189.4 546.5L1191.4 546.9L1193.4 547.0L1195.4 547.0L1197.4 546.8L1199.4 546.5L1201.4 546.2L1203.4 545.8L1205.4 545.5L1207.4 545.1L1209.4 544.8L1211.4 544.4L1213.4 544.0L1215.4 543.6L1217.4 543.1L1219.4 542.6L1221.4 542.2L1222.4 542.0"/>
<path d="M198.4 542.7L200.4 542.7L202.4 542.8L204.4 543.0L206.4 543.3L208.4 543.6L210.4 543.8L212.4 543.8L214.4 543.7L216.4 543.4L218.4 542.9L220.4 542.4L222.4 541.9L224.4 541.3L226.4 540.9L228.4 540.6L230.4 540.3L232.4 540.2L234.4 540.2L236.4 540.4L238.4 540.8L240.4 541.1L242.4 541.5L244.4 541.7L246.4 541.8L248.4 541.8L250.5 541.8L252.5 541.8L254.5 541.8L256.5 541.8L258.5 541.8L260.5 541.6L262.5 541.0L264.5 540.1L266.5 538.9L268.5 537.2L270.5 535.1L272.5 532.6L274.5 529.7L276.5 526.5L278.5 523.2L280.5 519.6L282.5 515.7L284.5 511.2L286.5 506.5L288.5 501.4L290.5 496.1L292.5 490.6L294.5 485.0L296.5 479.7L298.5 474.9L300.5 470.9L302.5 468.4L304.5 467.2L306.5 467.1L308.5 467.4L310.5 468.0L312.5 468.5L314.5 468.8L316.5 470.0L318.5 472.6L320.5 476.4L322.5 480.9L324.5 485.4L326.5 489.3L328.5 492.7L330.5 496.1L332.5 499.3L334.5 502.0L336.5 503.6L338.5 503.9L340.5 502.9L342.5 501.2L344.5 499.2L346.5 497.0L348.5 494.7L350.5 492.4L352.6 490.4L354.6 488.9L356.6 488.0L358.6 487.5L360.6 487.2L362.6 487.3L364.6 487.5L366.6 488.0L368.6 488.7L370.6 489.4L372.6 490.2L374.6 490.9L376.6 491.5L378.6 492.0L380.6 492.3L382.6 492.6L384.6 492.8L386.6 492.8L388.6 492.7L390.6 492.4L392.6 492.0L394.6 491.6L396.6 491.1L398.6 490.7L400.6 490.3L402.6 490.0L404.6 489.7L406.6 489.3L408.6 488.8L410.6 488.2L412.6 487.6L414.6 487.3L416.6 487.2L418.6 487.4L420.6 488.1L422.6 489.1L424.6 490.4L426.6 492.1L428.6 493.9L430.6 495.9L432.6 497.6L434.6 498.9L436.6 499.8L438.6 500.0L440.6 499.4L442.6 497.7L444.6 494.9L446.6 491.3L448.6 487.0L450.6 482.7L452.6 478.9L454.7 475.8L456.7 473.4L458.7 471.6L460.7 470.4L462.7 469.6L464.7 469.1L466.7 468.8L468.7 468.5L470.7 468.3L472.7 468.2L474.7 468.1L476.7 468.3L478.7 468.6L480.7 469.0L482.7 469.4L484.7 469.8L486.7 470.0L488.7 470.0L490.7 469.8L492.7 469.4L494.7 469.0L496.7 468.6L498.7 468.1L500.7 467.8L502.7 467.5L504.7 467.2L506.7 467.0L508.7 466.9L510.7 466.7L512.7 466.6L514.7 466.5L516.7 466.3L518.7 466.0L520.7 465.6L522.7 464.9L524.7 464.1L526.7 463.1L528.7 462.1L530.7 461.3L532.7 460.7L534.7 460.3L536.7 460.2L538.7 460.4L540.7 460.8L542.7 461.3L544.7 461.9L546.7 462.6L548.7 463.2L550.7 463.7L552.7 464.0L554.7 464.2L556.7 464.3L558.8 464.2L560.8 464.0L562.8 463.8L564.8 463.7L566.8 463.7L568.8 463.8L570.8 464.0L572.8 464.2L574.8 464.4L576.8 464.5L578.8 464.4L580.8 464.3L582.8 464.1L584.8 464.2L586.8 464.8L588.8 465.9L590.8 467.7L592.8 470.3L594.8 474.0L596.8 479.0L598.8 485.2L600.8 491.6L602.8 497.5L604.8 502.5L606.8 506.7L608.8 510.4L610.8 513.6L612.8 516.2L614.8 518.1L616.8 519.5L618.8 520.6L620.8 521.4L622.8 522.0L624.8 522.5L626.8 523.0L628.8 523.4L630.8 523.9L632.8 524.4L634.8 524.9L636.8 525.4L638.8 525.8L640.8 526.1L642.8 526.1L644.8 526.2L646.8 526.2L648.8 526.2L650.8 526.2L652.8 526.3L654.8 526.4L656.8 526.6L658.8 526.8L660.9 527.0L662.9 527.2L664.9 527.3L666.9 527.3L668.9 527.4L670.9 527.6L672.9 528.0L674.9 528.4L676.9 529.0L678.9 529.6L680.9 530.2L682.9 530.8L684.9 531.3L686.9 531.7L688.9 531.8L690.9 531.8L692.9 531.5L694.9 531.0L696.9 530.4L698.9 529.8L700.9 529.2L702.9 528.9L704.9 528.7L706.9 528.8L708.9 528.9L710.9 529.1L712.9 529.2L714.9 529.1L716.9 528.9L718.9 528.8L720.9 528.7L722.9 528.7L724.9 528.9L726.9 529.1L728.9 529.1L730.9 529.0L732.9 528.6L734.9 528.1L736.9 527.4L738.9 526.6L740.9 525.9L742.9 525.3L744.9 524.8L746.9 524.5L748.9 524.3L750.9 524.3L752.9 524.5L754.9 524.7L756.9 524.9L758.9 525.0L760.9 525.0L763.0 524.9L765.0 524.6L767.0 524.4L769.0 524.1L771.0 523.9L773.0 523.7L775.0 523.5L777.0 523.3L779.0 523.0L781.0 522.7L783.0 522.4L785.0 522.1L787.0 522.0L789.0 521.9L791.0 522.0L793.0 522.1L795.0 522.3L797.0 522.5L799.0 522.5L801.0 522.5L803.0 522.2L805.0 521.6L807.0 520.9L809.0 520.0L811.0 519.1L813.0 518.2L815.0 517.5L817.0 516.9L819.0 516.6L821.0 516.4L823.0 516.1L825.0 515.8L827.0 515.1L829.0 513.9L831.0 512.2L833.0 510.0L835.0 507.4L837.0 504.3L839.0 500.7L841.0 496.2L843.0 490.5L845.0 483.4L847.0 474.5L849.0 463.9L851.0 451.8L853.0 438.5L855.0 424.5L857.0 410.8L859.0 397.5L861.0 384.4L863.0 371.5L865.1 360.1L867.1 350.7L869.1 343.4L871.1 338.0L873.1 334.1L875.1 331.4L877.1 329.6L879.1 328.4L881.1 327.4L883.1 326.2L885.1 325.5L887.1 325.2L889.1 324.9L891.1 324.6L893.1 324.3L895.1 324.0L897.1 323.7L899.1 323.5L901.1 323.1L903.1 322.7L905.1 322.0L907.1 317.8L909.1 312.9L911.1 310.0L913.1 307.8L915.1 305.9L917.1 304.3L919.1 303.0L921.1 302.0L923.1 301.2L925.1 300.5L927.1 300.0L929.1 299.6L931.1 299.2L933.1 298.6L935.1 297.4L937.1 295.9L939.1 293.6L941.1 292.0L943.1 291.4L945.1 291.0L947.1 291.1L949.1 291.4L951.1 292.1L953.1 294.0L955.1 297.3L957.1 302.7L959.1 307.4L961.1 311.2L963.1 315.9L965.1 321.6L967.2 329.4L969.2 345.4L971.2 359.3L973.2 365.1L975.2 370.6L977.2 376.4L979.2 381.5L981.2 385.2L983.2 387.3L985.2 388.3L987.2 388.6L989.2 388.8L991.2 388.8L993.2 388.7L995.2 388.8L997.2 389.0L999.2 389.6L1001.2 390.5L1003.2 392.0L1005.2 394.1L1007.2 397.2L1009.2 401.3L1011.2 406.4L1013.2 412.1L1015.2 418.0L1017.2 424.1L1019.2 430.3L1021.2 436.6L1023.2 442.6L1025.2 448.5L1027.2 454.2L1029.2 459.7L1031.2 465.1L1033.2 470.3L1035.2 475.6L1037.2 480.8L1039.2 486.2L1041.2 491.5L1043.2 496.9L1045.2 502.4L1047.2 507.8L1049.2 513.2L1051.2 518.3L1053.2 523.1L1055.2 527.3L1057.2 530.8L1059.2 533.6L1061.2 536.0L1063.2 537.8L1065.2 539.2L1067.2 540.1L1069.3 540.6L1071.3 540.9L1073.3 541.1L1075.3 541.1L1077.3 541.2L1079.3 541.2L1081.3 541.3L1083.3 541.5L1085.3 541.8L1087.3 542.2L1089.3 542.5L1091.3 542.7L1093.3 542.7L1095.3 542.6L1097.3 542.4L1099.3 542.1L1101.3 541.9L1103.3 541.7L1105.3 541.5L1107.3 541.4L1109.3 541.5L1111.3 541.6L1113.3 541.9L1115.3 542.3L1117.3 542.6L1119.3 542.9L1121.3 543.1L1123.3 543.1L1125.3 543.0L1127.3 542.9L1129.3 542.8L1131.3 542.9L1133.3 543.0L1135.3 543.1L1137.3 543.1L1139.3 543.0L1141.3 542.8L1143.3 542.5L1145.3 542.3L1147.3 542.2L1149.3 542.2L1151.3 542.3L1153.3 542.4L1155.3 542.5L1157.3 542.7L1159.3 542.8L1161.3 542.8L1163.3 542.8L1165.3 542.7L1167.3 542.4L1169.3 542.0L1171.4 541.3L1173.4 540.6L1175.4 539.9L1177.4 539.2L1179.4 538.7L1181.4 538.5L1183.4 538.6L1185.4 538.8L1187.4 539.2L1189.4 539.6L1191.4 540.0L1193.4 540.5L1195.4 540.9L1197.4 541.5L1199.4 541.9L1201.4 542.4L1203.4 542.7L1205.4 542.9L1207.4 543.0L1209.4 543.0L1211.4 542.8L1213.4 542.5L1215.4 542.0L1217.4 541.4L1219.4 540.8L1221.4 540.3L1222.4 540.2"/>
<path d="M198.4 561.4L200.4 563.0L202.4 565.0L204.4 566.9L206.4 568.5L208.4 569.8L210.4 570.8L212.4 571.5L214.4 571.8L216.4 571.9L218.4 571.7L220.4 571.3L222.4 570.7L224.4 569.9L226.4 569.0L228.4 567.8L230.4 566.6L232.4 565.0L234.4 563.2L236.4 561.0L238.4 558.5L240.4 555.7L242.4 552.9L244.4 550.1L246.4 547.5L248.4 545.2L250.5 543.2L252.5 541.4L254.5 539.8L256.5 538.3L258.5 536.8L260.5 535.2L262.5 533.6L264.5 531.9L266.5 530.1L268.5 528.4L270.5 526.9L272.5 525.5L274.5 524.2L276.5 522.9L278.5 521.5L280.5 519.8L282.5 517.8L284.5 515.3L286.5 512.4L288.5 509.0L290.5 504.9L292.5 500.0L294.5 494.5L296.5 488.5L298.5 482.2L300.5 475.8L302.5 469.5L304.5 463.4L306.5 457.8L308.5 453.6L310.5 451.4L312.5 450.9L314.5 450.8L316.5 450.9L318.5 451.5L320.5 452.8L322.5 455.0L324.5 458.4L326.5 462.3L328.5 466.6L330.5 471.4L332.5 476.6L334.5 482.0L336.5 487.5L338.5 493.0L340.5 498.2L342.5 502.4L344.5 505.4L346.5 507.1L348.5 507.7L350.5 507.6L352.6 506.9L354.6 505.8L356.6 504.3L358.6 502.9L360.6 501.7L362.6 501.0L364.6 500.5L366.6 500.2L368.6 499.9L370.6 499.6L372.6 499.3L374.6 498.9L376.6 498.4L378.6 497.8L380.6 497.2L382.6 496.7L384.6 496.4L386.6 496.1L388.6 495.9L390.6 495.7L392.6 495.4L394.6 495.1L396.6 494.6L398.6 494.2L400.6 493.9L402.6 493.7L404.6 493.8L406.6 494.0L408.6 494.5L410.6 495.1L412.6 495.7L414.6 496.4L416.6 497.1L418.6 497.8L420.6 498.5L422.6 499.3L424.6 500.1L426.6 501.1L428.6 502.1L430.6 503.1L432.6 504.1L434.6 505.4L436.6 506.9L438.6 508.5L440.6 510.1L442.6 511.4L444.6 512.3L446.6 512.4L448.6 511.4L450.6 509.2L452.6 506.0L454.7 501.9L456.7 497.5L458.7 493.2L460.7 489.5L462.7 486.4L464.7 483.7L466.7 481.5L468.7 479.5L470.7 477.8L472.7 476.2L474.7 474.8L476.7 473.5L478.7 472.3L480.7 471.3L482.7 470.4L484.7 469.7L486.7 469.1L488.7 468.7L490.7 468.4L492.7 468.4L494.7 468.5L496.7 468.7L498.7 469.1L500.7 469.3L502.7 469.6L504.7 469.8L506.7 470.1L508.7 470.4L510.7 470.9L512.7 471.6L514.7 472.4L516.7 473.4L518.7 474.5L520.7 475.7L522.7 477.0L524.7 478.3L526.7 479.5L528.7 480.6L530.7 481.6L532.7 482.5L534.7 483.3L536.7 484.1L538.7 484.7L540.7 485.4L542.7 486.0L544.7 486.5L546.7 487.1L548.7 487.7L550.7 488.3L552.7 488.8L554.7 489.2L556.7 489.5L558.8 489.7L560.8 489.8L562.8 490.0L564.8 490.0L566.8 490.0L568.8 489.8L570.8 489.4L572.8 488.7L574.8 487.8L576.8 486.7L578.8 485.3L580.8 483.8L582.8 482.2L584.8 480.6L586.8 479.0L588.8 477.6L590.8 476.3L592.8 478.9L594.8 512.1L596.8 543.8L598.8 550.6L600.8 557.3L602.8 564.8L604.8 574.2L606.8 586.0L608.8 595.2L610.8 603.3L612.8 610.4L614.8 616.5L616.8 621.6L618.8 626.0L620.8 625.3L622.8 621.6L624.8 618.3L626.8 615.4L628.8 612.8L630.8 610.2L632.8 607.5L634.8 604.5L636.8 601.0L638.8 597.4L640.8 593.8L642.8 590.5L644.8 587.2L646.8 584.1L648.8 581.3L650.8 579.1L652.8 577.1L654.8 575.3L656.8 558.7L658.8 530.1L660.9 524.3L662.9 524.5L664.9 524.5L666.9 524.3L668.9 524.0L670.9 523.6L672.9 523.3L674.9 523.0L676.9 523.0L678.9 523.3L680.9 523.9L682.9 524.7L684.9 525.7L686.9 526.7L688.9 527.6L690.9 528.5L692.9 529.3L694.9 529.9L696.9 530.5L698.9 531.0L700.9 531.4L702.9 531.7L704.9 531.9L706.9 532.0L708.9 531.8L710.9 531.5L712.9 531.1L714.9 530.5L716.9 530.0L718.9 529.4L720.9 528.7L722.9 528.1L724.9 527.4L726.9 526.7L728.9 526.0L730.9 525.4L732.9 524.8L734.9 524.2L736.9 523.6L738.9 523.2L740.9 523.0L742.9 523.0L744.9 523.3L746.9 523.8L748.9 524.6L750.9 525.5L752.9 526.5L754.9 527.5L756.9 528.5L758.9 529.3L760.9 529.9L763.0 530.4L765.0 530.7L767.0 530.9L769.0 531.1L771.0 531.3L773.0 531.4L775.0 531.5L777.0 531.6L779.0 531.6L781.0 531.5L783.0 531.3L785.0 530.9L787.0 530.2L789.0 529.3L791.0 528.4L793.0 527.4L795.0 526.6L797.0 525.8L799.0 525.1L801.0 524.5L803.0 523.8L805.0 523.1L807.0 522.4L809.0 521.6L811.0 520.7L813.0 519.8L815.0 518.6L817.0 517.3L819.0 516.0L821.0 514.6L823.0 513.3L825.0 512.2L827.0 511.3L829.0 510.6L831.0 510.1L833.0 509.6L835.0 509.2L837.0 508.6L839.0 507.8L841.0 506.7L843.0 505.2L845.0 503.2L847.0 500.4L849.0 496.4L851.0 490.9L853.0 483.6L855.0 474.2L857.0 463.1L859.0 450.3L861.0 436.2L863.0 421.5L865.1 407.3L867.1 394.2L869.1 382.1L871.1 371.4L873.1 362.7L875.1 356.0L877.1 351.1L879.1 347.7L881.1 345.6L883.1 344.4L885.1 344.2L887.1 344.5L889.1 345.4L891.1 346.5L893.1 347.9L895.1 349.5L897.1 351.6L899.1 353.7L901.1 355.4L903.1 356.9L905.1 358.1L907.1 359.0L909.1 359.6L911.1 359.8L913.1 359.5L915.1 358.7L917.1 357.6L919.1 356.1L921.1 354.5L923.1 352.9L925.1 351.4L927.1 350.2L929.1 349.3L931.1 348.7L933.1 348.2L935.1 347.8L937.1 347.4L939.1 347.0L941.1 346.7L943.1 346.7L945.1 347.1L947.1 348.0L949.1 349.4L951.1 351.3L953.1 353.6L955.1 356.4L957.1 359.5L959.1 362.8L961.1 366.1L963.1 369.5L965.1 373.0L967.2 377.0L969.2 381.4L971.2 386.2L973.2 391.3L975.2 396.4L977.2 401.6L979.2 407.0L981.2 412.6L983.2 418.2L985.2 423.4L987.2 427.9L989.2 431.7L991.2 434.9L993.2 437.8L995.2 440.5L997.2 443.2L999.2 445.8L1001.2 448.2L1003.2 450.5L1005.2 452.8L1007.2 454.9L1009.2 456.9L1011.2 458.9L1013.2 461.0L1015.2 463.6L1017.2 466.8L1019.2 470.7L1021.2 475.2L1023.2 480.4L1025.2 486.3L1027.2 492.8L1029.2 499.7L1031.2 506.9L1033.2 514.2L1035.2 521.2L1037.2 527.4L1039.2 533.0L1041.2 538.3L1043.2 543.5L1045.2 548.6L1047.2 553.5L1049.2 558.2L1051.2 562.5L1053.2 566.3L1055.2 569.7L1057.2 572.7L1059.2 575.2L1061.2 577.3L1063.2 579.0L1065.2 580.3L1067.2 581.4L1069.3 582.4L1071.3 583.1L1073.3 583.5L1075.3 583.6L1077.3 583.4L1079.3 582.9L1081.3 581.9L1083.3 580.7L1085.3 579.3L1087.3 577.8L1089.3 576.2L1091.3 574.7L1093.3 573.2L1095.3 572.0L1097.3 571.0L1099.3 570.1L1101.3 569.3L1103.3 568.5L1105.3 567.7L1107.3 566.9L1109.3 566.0L1111.3 565.2L1113.3 564.4L1115.3 563.8L1117.3 563.2L1119.3 562.6L1121.3 562.1L1123.3 561.6L1125.3 561.1L1127.3 560.6L1129.3 560.0L1131.3 559.4L1133.3 558.8L1135.3 558.2L1137.3 557.7L1139.3 557.3L1141.3 557.2L1143.3 557.2L1145.3 557.4L1147.3 557.7L1149.3 558.1L1151.3 558.4L1153.3 558.7L1155.3 559.1L1157.3 559.5L1159.3 560.1L1161.3 560.9L1163.3 561.8L1165.3 562.9L1167.3 564.1L1169.3 565.2L1171.4 566.3L1173.4 567.2L1175.4 568.0L1177.4 568.7L1179.4 569.1L1181.4 569.4L1183.4 569.4L1185.4 569.2L1187.4 568.6L1189.4 567.7L1191.4 566.6L1193.4 565.1L1195.4 563.5L1197.4 561.8L1199.4 560.2L1201.4 558.8L1203.4 557.8L1205.4 557.1L1207.4 556.7L1209.4 556.7L1211.4 556.9L1213.4 557.3L1215.4 557.8L1217.4 558.4L1219.4 559.1L1221.4 559.9L1222.4 560.2"/>
<path d="M198.4 563.3L200.4 564.3L202.4 565.7L204.4 567.3L206.4 569.0L208.4 570.6L210.4 572.2L212.4 573.7L214.4 575.0L216.4 576.3L218.4 577.5L220.4 578.6L222.4 579.6L224.4 580.5L226.4 581.2L228.4 581.6L230.4 581.8L232.4 581.6L234.4 581.1L236.4 580.3L238.4 579.2L240.4 578.0L242.4 576.6L244.4 575.0L246.4 573.3L248.4 571.5L250.5 569.5L252.5 567.5L254.5 565.4L256.5 563.3L258.5 561.2L260.5 559.1L262.5 557.0L264.5 554.8L266.5 552.6L268.5 550.4L270.5 548.1L272.5 545.7L274.5 543.1L276.5 540.2L278.5 537.1L280.5 533.8L282.5 530.2L284.5 526.6L286.5 522.9L288.5 519.4L290.5 515.8L292.5 512.3L294.5 508.7L296.5 505.0L298.5 501.3L300.5 497.7L302.5 494.5L304.5 492.3L306.5 490.9L308.5 490.1L310.5 489.4L312.5 487.6L314.5 482.9L316.5 473.8L318.5 459.9L320.5 444.8L322.5 436.5L324.5 441.1L326.5 457.0L328.5 476.4L330.5 492.3L332.5 502.5L334.5 508.4L336.5 511.8L338.5 513.3L340.5 513.4L342.5 512.4L344.5 511.0L346.5 509.5L348.5 508.0L350.5 506.3L352.6 504.6L354.6 503.1L356.6 501.9L358.6 501.0L360.6 500.2L362.6 499.4L364.6 498.7L366.6 498.2L368.6 497.8L370.6 497.5L372.6 497.2L374.6 496.9L376.6 496.6L378.6 496.1L380.6 495.6L382.6 495.1L384.6 494.6L386.6 494.2L388.6 494.0L390.6 494.0L392.6 494.1L394.6 494.4L396.6 494.8L398.6 495.4L400.6 496.1L402.6 496.8L404.6 497.6L406.6 498.5L408.6 499.3L410.6 500.1L412.6 500.9L414.6 501.5L416.6 502.1L418.6 502.6L420.6 503.2L422.6 503.9L424.6 504.6L426.6 505.6L428.6 506.8L430.6 508.3L432.6 509.8L434.6 511.1L436.6 511.9L438.6 511.9L440.6 511.1L442.6 509.2L444.6 506.1L446.6 502.1L448.6 497.3L450.6 492.0L452.6 486.9L454.7 482.6L456.7 479.0L458.7 476.1L460.7 473.6L462.7 471.5L464.7 469.6L466.7 467.9L468.7 466.3L470.7 464.9L472.7 463.5L474.7 462.4L476.7 461.3L478.7 460.4L480.7 459.7L482.7 459.0L484.7 458.4L486.7 457.9L488.7 457.6L490.7 457.4L492.7 457.2L494.7 457.0L496.7 456.9L498.7 456.8L500.7 456.8L502.7 456.7L504.7 456.6L506.7 456.4L508.7 456.1L510.7 455.7L512.7 455.3L514.7 455.0L516.7 454.8L518.7 454.7L520.7 454.6L522.7 454.6L524.7 454.7L526.7 454.8L528.7 455.1L530.7 455.3L532.7 455.6L534.7 455.8L536.7 455.9L538.7 456.0L540.7 455.9L542.7 455.9L544.7 455.9L546.7 455.8L548.7 455.8L550.7 455.9L552.7 456.0L554.7 456.2L556.7 456.5L558.8 456.9L560.8 457.5L562.8 458.0L564.8 458.4L566.8 458.7L568.8 458.8L570.8 458.8L572.8 458.8L574.8 458.7L576.8 458.7L578.8 458.8L580.8 459.0L582.8 459.3L584.8 460.0L586.8 460.9L588.8 462.4L590.8 464.4L592.8 467.0L594.8 470.4L596.8 475.1L598.8 481.3L600.8 488.8L602.8 496.6L604.8 503.8L606.8 510.1L608.8 515.5L610.8 520.2L612.8 524.2L614.8 527.3L616.8 529.6L618.8 531.3L620.8 532.6L622.8 533.6L624.8 534.3L626.8 534.8L628.8 535.2L630.8 535.6L632.8 536.1L634.8 536.7L636.8 537.2L638.8 537.6L640.8 537.6L642.8 537.1L644.8 536.6L646.8 536.0L648.8 535.4L650.8 534.7L652.8 534.1L654.8 533.6L656.8 533.1L658.8 532.6L660.9 532.2L662.9 531.8L664.9 531.4L666.9 531.1L668.9 530.9L670.9 530.7L672.9 530.5L674.9 530.5L676.9 530.7L678.9 531.0L680.9 531.3L682.9 531.6L684.9 531.8L686.9 531.9L688.9 531.9L690.9 531.8L692.9 531.6L694.9 531.4L696.9 531.2L698.9 530.9L700.9 530.6L702.9 530.2L704.9 529.8L706.9 529.5L708.9 529.4L710.9 529.5L712.9 529.8L714.9 530.3L716.9 530.9L718.9 531.7L720.9 532.6L722.9 533.6L724.9 535.0L726.9 536.6L728.9 538.6L730.9 540.9L732.9 543.6L734.9 546.6L736.9 549.7L738.9 552.9L740.9 555.8L742.9 558.4L744.9 560.6L746.9 562.3L748.9 563.8L750.9 565.2L752.9 566.6L754.9 567.9L756.9 569.3L758.9 570.6L760.9 571.7L763.0 572.5L765.0 572.9L767.0 573.0L769.0 572.8L771.0 572.3L773.0 571.8L775.0 571.2L777.0 570.5L779.0 569.6L781.0 568.6L783.0 567.5L785.0 566.2L787.0 564.7L789.0 563.2L791.0 561.5L793.0 559.8L795.0 558.0L797.0 556.2L799.0 554.5L801.0 552.7L803.0 551.1L805.0 549.4L807.0 547.8L809.0 546.3L811.0 544.7L813.0 543.3L815.0 541.9L817.0 540.5L819.0 539.1L821.0 537.5L823.0 535.7L825.0 533.7L827.0 531.5L829.0 529.1L831.0 526.6L833.0 523.9L835.0 521.3L837.0 518.8L839.0 516.0L841.0 512.8L843.0 508.7L845.0 503.7L847.0 497.3L849.0 489.5L851.0 480.3L853.0 469.9L855.0 458.4L857.0 446.5L859.0 434.4L861.0 421.5L863.0 407.7L865.1 394.5L867.1 382.5L869.1 372.2L871.1 363.6L873.1 356.6L875.1 350.9L877.1 346.3L879.1 342.5L881.1 339.3L883.1 336.5L885.1 334.2L887.1 332.3L889.1 330.8L891.1 329.5L893.1 328.4L895.1 327.6L897.1 327.2L899.1 326.9L901.1 326.7L903.1 326.6L905.1 326.5L907.1 326.4L909.1 326.4L911.1 326.6L913.1 326.9L915.1 327.4L917.1 328.1L919.1 329.2L921.1 330.5L923.1 332.0L925.1 333.5L927.1 335.1L929.1 336.6L931.1 338.0L933.1 339.4L935.1 340.7L937.1 342.0L939.1 343.2L941.1 344.3L943.1 345.2L945.1 346.0L947.1 346.8L949.1 347.7L951.1 348.6L953.1 349.6L955.1 350.5L957.1 351.4L959.1 352.1L961.1 352.6L963.1 353.1L965.1 353.9L967.2 355.1L969.2 356.7L971.2 358.8L973.2 361.9L975.2 366.3L977.2 371.6L979.2 377.2L981.2 382.0L983.2 385.2L985.2 387.1L987.2 388.1L989.2 388.9L991.2 389.7L993.2 390.7L995.2 392.0L997.2 393.5L999.2 395.3L1001.2 397.4L1003.2 399.9L1005.2 402.7L1007.2 406.2L1009.2 410.3L1011.2 415.2L1013.2 420.8L1015.2 426.5L1017.2 432.2L1019.2 437.9L1021.2 443.6L1023.2 449.0L1025.2 454.2L1027.2 459.2L1029.2 464.0L1031.2 468.7L1033.2 473.3L1035.2 477.8L1037.2 482.2L1039.2 486.8L1041.2 491.7L1043.2 496.7L1045.2 501.9L1047.2 507.0L1049.2 512.2L1051.2 517.4L1053.2 522.7L1055.2 527.5L1057.2 531.6L1059.2 534.8L1061.2 537.3L1063.2 539.2L1065.2 540.6L1067.2 541.6L1069.3 542.2L1071.3 542.6L1073.3 542.9L1075.3 543.2L1077.3 543.5L1079.3 543.8L1081.3 544.1L1083.3 544.4L1085.3 544.7L1087.3 544.9L1089.3 545.0L1091.3 544.7L1093.3 544.3L1095.3 543.7L1097.3 543.0L1099.3 542.2L1101.3 541.5L1103.3 541.0L1105.3 540.6L1107.3 540.4L1109.3 540.3L1111.3 540.4L1113.3 540.4L1115.3 540.5L1117.3 540.5L1119.3 540.6L1121.3 540.8L1123.3 540.9L1125.3 541.2L1127.3 541.4L1129.3 541.6L1131.3 541.9L1133.3 542.2L1135.3 542.5L1137.3 543.0L1139.3 543.5L1141.3 544.2L1143.3 544.8L1145.3 545.5L1147.3 546.1L1149.3 546.7L1151.3 547.2L1153.3 547.6L1155.3 548.0L1157.3 548.4L1159.3 548.8L1161.3 549.1L1163.3 549.5L1165.3 550.0L1167.3 550.4L1169.3 550.8L1171.4 551.2L1173.4 551.6L1175.4 552.2L1177.4 552.8L1179.4 553.6L1181.4 554.5L1183.4 555.4L1185.4 556.1L1187.4 556.6L1189.4 556.7L1191.4 556.6L1193.4 556.4L1195.4 556.0L1197.4 555.8L1199.4 555.6L1201.4 555.5L1203.4 555.6L1205.4 555.7L1207.4 555.9L1209.4 556.0L1211.4 556.2L1213.4 556.4L1215.4 556.7L1217.4 557.1L1219.4 557.8L1221.4 558.6L1222.4 558.9"/>
<path d="M198.4 541.5L200.4 541.1L202.4 540.6L204.4 540.1L206.4 539.8L208.4 539.6L210.4 539.6L212.4 539.8L214.4 540.2L216.4 540.7L218.4 541.2L220.4 541.8L222.4 542.3L224.4 542.7L226.4 543.0L228.4 543.3L230.4 543.6L232.4 543.9L234.4 544.3L236.4 544.6L238.4 544.8L240.4 545.0L242.4 544.9L244.4 544.7L246.4 544.3L248.4 543.7L250.5 543.1L252.5 542.5L254.5 541.9L256.5 541.3L258.5 540.5L260.5 539.6L262.5 538.4L264.5 537.2L266.5 535.8L268.5 534.6L270.5 533.5L272.5 532.5L274.5 531.6L276.5 530.5L278.5 528.9L280.5 526.6L282.5 523.7L284.5 520.4L286.5 516.8L288.5 512.9L290.5 508.7L292.5 504.2L294.5 499.5L296.5 494.6L298.5 489.5L300.5 484.4L302.5 479.5L304.5 475.0L306.5 471.6L308.5 469.5L310.5 468.6L312.5 467.8L314.5 466.8L316.5 465.8L318.5 465.2L320.5 465.4L322.5 466.6L324.5 468.6L326.5 470.6L328.5 472.9L330.5 476.0L332.5 480.1L334.5 485.8L336.5 493.9L338.5 506.3L340.5 524.7L342.5 546.6L344.5 563.9L346.5 567.1L348.5 557.9L350.5 541.4L352.6 523.4L354.6 508.2L356.6 497.9L358.6 492.0L360.6 488.9L362.6 487.3L364.6 486.2L366.6 485.3L368.6 484.6L370.6 484.0L372.6 483.6L374.6 483.4L376.6 483.6L378.6 484.0L380.6 484.4L382.6 484.8L384.6 485.2L386.6 485.6L388.6 486.0L390.6 486.4L392.6 486.9L394.6 487.6L396.6 488.3L398.6 489.2L400.6 490.2L402.6 491.4L404.6 492.7L406.6 494.0L408.6 495.2L410.6 496.4L412.6 497.4L414.6 498.3L416.6 499.2L418.6 499.9L420.6 500.8L422.6 501.8L424.6 503.0L426.6 504.6L428.6 506.5L430.6 508.7L432.6 511.3L434.6 514.3L436.6 517.3L438.6 520.1L440.6 522.2L442.6 523.4L444.6 523.3L446.6 521.7L448.6 518.7L450.6 514.5L452.6 509.4L454.7 503.8L456.7 498.5L458.7 493.7L460.7 489.6L462.7 485.9L464.7 482.7L466.7 479.9L468.7 477.3L470.7 475.0L472.7 472.9L474.7 471.0L476.7 469.3L478.7 467.8L480.7 466.5L482.7 465.5L484.7 464.6L486.7 463.9L488.7 463.4L490.7 463.1L492.7 463.0L494.7 463.1L496.7 463.3L498.7 463.5L500.7 463.6L502.7 463.5L504.7 463.3L506.7 462.9L508.7 462.4L510.7 461.9L512.7 461.6L514.7 461.3L516.7 461.3L518.7 461.5L520.7 461.8L522.7 462.3L524.7 463.0L526.7 463.8L528.7 464.8L530.7 465.8L532.7 466.8L534.7 467.7L536.7 468.6L538.7 469.6L540.7 470.5L542.7 471.5L544.7 472.4L546.7 473.1L548.7 473.7L550.7 474.2L552.7 474.4L554.7 474.5L556.7 474.5L558.8 474.4L560.8 474.1L562.8 473.5L564.8 472.7L566.8 471.6L568.8 470.1L570.8 468.4L572.8 466.6L574.8 464.9L576.8 463.3L578.8 462.0L580.8 461.1L582.8 460.5L584.8 460.2L586.8 460.3L588.8 460.7L590.8 461.6L592.8 463.1L594.8 465.0L596.8 467.6L598.8 471.0L600.8 475.8L602.8 482.1L604.8 489.3L606.8 496.2L608.8 502.3L610.8 507.1L612.8 511.0L614.8 514.2L616.8 516.8L618.8 518.8L620.8 520.5L622.8 522.0L624.8 523.5L626.8 525.1L628.8 526.8L630.8 528.6L632.8 530.6L634.8 532.8L636.8 535.0L638.8 537.1L640.8 538.7L642.8 539.5L644.8 539.8L646.8 539.6L648.8 539.1L650.8 538.3L652.8 537.3L654.8 536.3L656.8 535.2L658.8 534.2L660.9 533.2L662.9 532.3L664.9 531.6L666.9 531.3L668.9 531.3L670.9 531.5L672.9 532.0L674.9 532.8L676.9 533.7L678.9 534.7L680.9 535.7L682.9 536.7L684.9 537.6L686.9 538.4L688.9 539.3L690.9 540.2L692.9 541.2L694.9 542.2L696.9 543.3L698.9 544.4L700.9 545.4L702.9 546.3L704.9 547.1L706.9 547.7L708.9 548.1L710.9 548.7L712.9 549.8L714.9 551.5L716.9 553.5L718.9 555.4L720.9 556.9L722.9 558.3L724.9 559.4L726.9 560.2L728.9 560.7L730.9 561.0L732.9 561.1L734.9 561.0L736.9 560.8L738.9 560.6L740.9 560.4L742.9 560.3L744.9 560.2L746.9 560.1L748.9 559.9L750.9 559.8L752.9 559.5L754.9 559.2L756.9 558.8L758.9 558.3L760.9 557.6L763.0 556.8L765.0 555.8L767.0 554.7L769.0 553.5L771.0 552.3L773.0 551.0L775.0 549.8L777.0 548.7L779.0 547.7L781.0 546.9L783.0 546.4L785.0 546.2L787.0 546.1L789.0 546.1L791.0 546.1L793.0 546.0L795.0 545.8L797.0 545.5L799.0 545.2L801.0 545.0L803.0 545.0L805.0 545.2L807.0 545.7L809.0 546.5L811.0 547.5L813.0 548.6L815.0 549.8L817.0 550.9L819.0 551.9L821.0 552.8L823.0 553.6L825.0 554.4L827.0 555.1L829.0 555.9L831.0 556.6L833.0 557.3L835.0 558.0L837.0 558.5L839.0 558.6L841.0 558.3L843.0 557.3L845.0 555.3L847.0 552.3L849.0 548.0L851.0 542.4L853.0 535.5L855.0 527.8L857.0 519.5L859.0 510.9L861.0 501.9L863.0 492.5L865.1 482.9L867.1 473.1L869.1 462.9L871.1 452.6L873.1 442.3L875.1 432.2L877.1 422.4L879.1 412.9L881.1 403.7L883.1 394.8L885.1 386.4L887.1 378.6L889.1 371.5L891.1 365.2L893.1 359.8L895.1 355.3L897.1 352.1L899.1 349.6L901.1 347.4L903.1 345.5L905.1 343.7L907.1 342.2L909.1 340.8L911.1 339.6L913.1 338.6L915.1 337.8L917.1 337.2L919.1 336.8L921.1 336.4L923.1 336.0L925.1 335.6L927.1 335.3L929.1 334.9L931.1 334.5L933.1 334.1L935.1 333.8L937.1 333.5L939.1 333.1L941.1 332.5L943.1 332.0L945.1 331.4L947.1 331.0L949.1 330.6L951.1 330.4L953.1 330.2L955.1 330.2L957.1 330.4L959.1 330.7L961.1 331.4L963.1 332.5L965.1 334.3L967.2 336.9L969.2 340.4L971.2 344.5L973.2 349.0L975.2 354.2L977.2 360.5L979.2 367.9L981.2 376.3L983.2 384.6L985.2 392.1L987.2 398.3L989.2 403.4L991.2 407.9L993.2 412.0L995.2 415.8L997.2 419.5L999.2 423.0L1001.2 426.3L1003.2 429.4L1005.2 432.5L1007.2 435.6L1009.2 438.9L1011.2 442.6L1013.2 446.8L1015.2 451.6L1017.2 457.0L1019.2 462.8L1021.2 468.9L1023.2 475.4L1025.2 482.3L1027.2 489.4L1029.2 496.7L1031.2 504.0L1033.2 511.1L1035.2 517.4L1037.2 522.7L1039.2 527.3L1041.2 531.6L1043.2 535.6L1045.2 539.3L1047.2 542.6L1049.2 545.4L1051.2 548.0L1053.2 550.3L1055.2 552.5L1057.2 554.5L1059.2 556.3L1061.2 557.7L1063.2 558.6L1065.2 559.3L1067.2 559.8L1069.3 560.1L1071.3 560.3L1073.3 560.3L1075.3 560.4L1077.3 560.4L1079.3 560.6L1081.3 561.0L1083.3 561.5L1085.3 562.3L1087.3 563.4L1089.3 564.6L1091.3 565.8L1093.3 566.9L1095.3 567.9L1097.3 568.8L1099.3 569.6L1101.3 570.3L1103.3 570.9L1105.3 571.3L1107.3 571.7L1109.3 571.9L1111.3 572.0L1113.3 571.9L1115.3 571.9L1117.3 571.9L1119.3 572.0L1121.3 572.2L1123.3 572.4L1125.3 572.6L1127.3 572.7L1129.3 572.7L1131.3 572.5L1133.3 572.1L1135.3 571.6L1137.3 570.8L1139.3 570.1L1141.3 569.3L1143.3 568.8L1145.3 568.5L1147.3 568.4L1149.3 568.5L1151.3 568.7L1153.3 569.0L1155.3 569.3L1157.3 569.5L1159.3 569.6L1161.3 569.7L1163.3 569.7L1165.3 569.6L1167.3 569.4L1169.3 569.0L1171.4 568.6L1173.4 568.0L1175.4 567.4L1177.4 566.8L1179.4 566.3L1181.4 565.7L1183.4 565.3L1185.4 564.9L1187.4 564.5L1189.4 564.3L1191.4 564.2L1193.4 564.3L1195.4 564.6L1197.4 565.2L1199.4 565.9L1201.4 566.7L1203.4 567.4L1205.4 568.1L1207.4 568.5L1209.4 568.8L1211.4 568.9L1213.4 568.8L1215.4 568.5L1217.4 568.1L1219.4 567.7L1221.4 567.2L1222.4 567.1"/>
<path d="M198.4 564.8L200.4 564.1L202.4 563.1L204.4 562.0L206.4 560.8L208.4 559.6L210.4 558.4L212.4 557.3L214.4 556.2L216.4 555.3L218.4 554.5L220.4 553.8L222.4 553.3L224.4 552.9L226.4 552.5L228.4 552.2L230.4 551.9L232.4 551.5L234.4 551.2L236.4 550.9L238.4 550.8L240.4 550.9L242.4 551.0L244.4 551.2L246.4 551.2L248.4 551.0L250.5 550.6L252.5 549.9L254.5 549.0L256.5 548.0L258.5 547.0L260.5 545.9L262.5 544.9L264.5 543.9L266.5 542.9L268.5 541.7L270.5 540.4L272.5 538.9L274.5 537.3L276.5 535.6L278.5 533.8L280.5 531.7L282.5 529.5L284.5 527.2L286.5 524.9L288.5 522.6L290.5 520.0L292.5 516.9L294.5 513.4L296.5 509.7L298.5 506.0L300.5 502.4L302.5 499.0L304.5 495.9L306.5 493.5L308.5 491.9L310.5 491.4L312.5 491.4L314.5 491.4L316.5 491.7L318.5 492.5L320.5 494.0L322.5 496.2L324.5 499.2L326.5 502.4L328.5 505.9L330.5 510.1L332.5 514.7L334.5 519.5L336.5 524.4L338.5 529.2L340.5 533.4L342.5 536.9L344.5 539.2L346.5 540.3L348.5 540.3L350.5 539.4L352.6 537.8L354.6 535.6L356.6 533.0L358.6 530.1L360.6 526.9L362.6 523.5L364.6 519.8L366.6 515.8L368.6 511.5L370.6 507.0L372.6 502.3L374.6 497.6L376.6 492.9L378.6 488.4L380.6 484.0L382.6 479.9L384.6 476.2L386.6 472.9L388.6 470.3L390.6 468.4L392.6 467.4L394.6 467.3L396.6 467.9L398.6 469.2L400.6 470.9L402.6 472.9L404.6 475.0L406.6 477.0L408.6 478.9L410.6 480.7L412.6 482.3L414.6 483.8L416.6 485.3L418.6 486.8L420.6 488.2L422.6 489.5L424.6 490.7L426.6 491.9L428.6 493.0L430.6 494.2L432.6 495.4L434.6 496.6L436.6 497.9L438.6 499.0L440.6 499.9L442.6 500.6L444.6 500.9L446.6 500.7L448.6 499.8L450.6 498.0L452.6 495.3L454.7 491.9L456.7 488.1L458.7 484.5L460.7 481.7L462.7 479.7L464.7 478.3L466.7 477.5L468.7 477.1L470.7 476.8L472.7 476.7L474.7 476.8L476.7 477.0L478.7 477.3L480.7 477.6L482.7 478.0L484.7 478.3L486.7 478.6L488.7 478.8L490.7 478.9L492.7 479.0L494.7 479.2L496.7 479.4L498.7 479.7L500.7 480.0L502.7 480.4L504.7 480.7L506.7 481.1L508.7 481.5L510.7 481.9L512.7 482.2L514.7 482.5L516.7 482.6L518.7 482.7L520.7 482.7L522.7 482.7L524.7 482.6L526.7 482.6L528.7 482.5L530.7 482.4L532.7 482.3L534.7 482.3L536.7 482.5L538.7 483.0L540.7 483.8L542.7 484.7L544.7 485.7L546.7 486.6L548.7 487.1L550.7 487.3L552.7 487.1L554.7 486.7L556.7 486.2L558.8 485.6L560.8 485.0L562.8 484.5L564.8 484.1L566.8 483.7L568.8 483.4L570.8 483.0L572.8 482.6L574.8 482.3L576.8 481.9L578.8 481.5L580.8 481.3L582.8 481.2L584.8 481.3L586.8 481.7L588.8 482.4L590.8 483.5L592.8 485.1L594.8 487.1L596.8 489.5L598.8 492.3L600.8 495.6L602.8 499.6L604.8 504.7L606.8 510.6L608.8 516.9L610.8 523.1L612.8 529.0L614.8 534.5L616.8 539.7L618.8 544.2L620.8 547.9L622.8 550.7L624.8 552.6L626.8 554.0L628.8 554.7L630.8 555.0L632.8 554.8L634.8 554.4L636.8 554.0L638.8 553.4L640.8 552.5L642.8 551.1L644.8 549.6L646.8 548.3L648.8 547.3L650.8 546.4L652.8 545.7L654.8 545.3L656.8 545.0L658.8 544.8L660.9 544.8L662.9 544.9L664.9 545.1L666.9 545.5L668.9 546.0L670.9 546.3L672.9 546.5L674.9 546.5L676.9 546.5L678.9 546.3L680.9 545.9L682.9 545.4L684.9 544.7L686.9 543.8L688.9 542.8L690.9 541.8L692.9 540.8L694.9 539.7L696.9 538.7L698.9 537.6L700.9 536.6L702.9 535.7L704.9 534.8L706.9 534.1L708.9 533.6L710.9 533.2L712.9 532.9L714.9 532.6L716.9 532.3L718.9 531.9L720.9 531.4L722.9 530.8L724.9 530.0L726.9 529.1L728.9 528.2L730.9 527.3L732.9 526.4L734.9 525.7L736.9 525.1L738.9 524.8L740.9 524.7L742.9 524.8L744.9 525.2L746.9 525.8L748.9 526.7L750.9 527.8L752.9 529.0L754.9 530.4L756.9 532.0L758.9 533.7L760.9 535.6L763.0 537.7L765.0 539.8L767.0 542.1L769.0 544.3L771.0 546.5L773.0 548.6L775.0 550.5L777.0 552.2L779.0 553.6L781.0 554.8L783.0 555.7L785.0 556.3L787.0 556.7L789.0 556.8L791.0 556.8L793.0 556.6L795.0 556.1L797.0 555.5L799.0 554.6L801.0 553.5L803.0 552.3L805.0 551.0L807.0 549.6L809.0 548.3L811.0 547.2L813.0 546.2L815.0 545.4L817.0 544.8L819.0 544.1L821.0 543.5L823.0 542.7L825.0 541.7L827.0 540.5L829.0 539.0L831.0 537.4L833.0 535.6L835.0 533.8L837.0 532.2L839.0 530.5L841.0 528.8L843.0 527.1L845.0 525.3L847.0 523.2L849.0 520.7L851.0 517.3L853.0 512.8L855.0 506.8L857.0 499.6L859.0 491.1L861.0 480.7L863.0 468.7L865.1 456.4L867.1 444.3L869.1 432.6L871.1 421.4L873.1 410.9L875.1 401.5L877.1 393.4L879.1 386.4L881.1 380.5L883.1 375.4L885.1 371.0L887.1 367.2L889.1 364.0L891.1 361.4L893.1 359.4L895.1 358.3L897.1 358.5L899.1 359.4L901.1 360.7L903.1 362.4L905.1 364.5L907.1 367.2L909.1 370.3L911.1 373.6L913.1 377.2L915.1 380.7L917.1 384.2L919.1 387.6L921.1 390.9L923.1 394.1L925.1 397.3L927.1 400.5L929.1 403.6L931.1 406.7L933.1 409.6L935.1 412.3L937.1 414.8L939.1 417.0L941.1 419.0L943.1 420.7L945.1 422.2L947.1 423.5L949.1 424.5L951.1 425.1L953.1 425.6L955.1 426.0L957.1 426.4L959.1 426.8L961.1 427.1L963.1 427.4L965.1 427.8L967.2 428.4L969.2 429.3L971.2 430.5L973.2 432.0L975.2 433.6L977.2 435.4L979.2 437.3L981.2 439.3L983.2 441.3L985.2 443.0L987.2 444.3L989.2 445.0L991.2 445.3L993.2 445.5L995.2 445.5L997.2 445.5L999.2 445.3L1001.2 445.2L1003.2 445.2L1005.2 445.5L1007.2 446.3L1009.2 447.5L1011.2 449.3L1013.2 451.6L1015.2 454.7L1017.2 458.7L1019.2 463.5L1021.2 469.3L1023.2 475.9L1025.2 483.5L1027.2 491.9L1029.2 501.0L1031.2 510.3L1033.2 519.8L1035.2 528.8L1037.2 536.9L1039.2 544.0L1041.2 550.1L1043.2 555.4L1045.2 560.1L1047.2 564.2L1049.2 567.8L1051.2 570.7L1053.2 573.1L1055.2 575.1L1057.2 576.6L1059.2 577.8L1061.2 578.7L1063.2 579.3L1065.2 579.7L1067.2 579.9L1069.3 580.1L1071.3 580.1L1073.3 580.0L1075.3 579.6L1077.3 578.8L1079.3 577.5L1081.3 575.9L1083.3 574.0L1085.3 571.9L1087.3 570.1L1089.3 568.4L1091.3 566.9L1093.3 565.5L1095.3 564.3L1097.3 563.1L1099.3 561.9L1101.3 560.7L1103.3 559.4L1105.3 558.2L1107.3 557.0L1109.3 555.8L1111.3 554.8L1113.3 553.8L1115.3 552.8L1117.3 552.0L1119.3 551.3L1121.3 550.8L1123.3 550.6L1125.3 550.5L1127.3 550.6L1129.3 550.5L1131.3 550.4L1133.3 550.1L1135.3 549.7L1137.3 549.3L1139.3 548.9L1141.3 548.8L1143.3 548.8L1145.3 549.0L1147.3 549.3L1149.3 549.6L1151.3 549.8L1153.3 549.9L1155.3 549.9L1157.3 549.8L1159.3 549.6L1161.3 549.6L1163.3 549.6L1165.3 549.8L1167.3 550.0L1169.3 550.3L1171.4 550.6L1173.4 550.9L1175.4 551.0L1177.4 550.9L1179.4 550.5L1181.4 549.9L1183.4 549.0L1185.4 548.1L1187.4 547.2L1189.4 546.4L1191.4 545.9L1193.4 545.6L1195.4 545.5L1197.4 545.5L1199.4 545.7L1201.4 546.0L1203.4 546.2L1205.4 546.4L1207.4 546.5L1209.4 546.6L1211.4 546.6L1213.4 546.6L1215.4 546.5L1217.4 546.5L1219.4 546.5L1221.4 546.4L1222.4 546.4"/>
<path d="M198.4 580.1L200.4 580.0L202.4 579.8L204.4 579.4L206.4 578.7L208.4 577.8L210.4 576.7L212.4 575.5L214.4 574.3L216.4 573.1L218.4 572.2L220.4 571.5L222.4 571.0L224.4 570.8L226.4 570.6L228.4 570.4L230.4 570.1L232.4 569.6L234.4 568.9L236.4 568.1L238.4 567.0L240.4 565.7L242.4 564.2L244.4 562.3L246.4 560.3L248.4 558.0L250.5 555.8L252.5 553.6L254.5 551.5L256.5 549.5L258.5 547.7L260.5 546.0L262.5 544.3L264.5 542.7L266.5 541.2L268.5 539.6L270.5 538.0L272.5 536.0L274.5 533.5L276.5 530.4L278.5 527.0L280.5 523.2L282.5 519.3L284.5 515.4L286.5 511.4L288.5 507.5L290.5 503.5L292.5 499.4L294.5 495.4L296.5 491.4L298.5 487.8L300.5 484.6L302.5 482.5L304.5 481.6L306.5 482.1L308.5 483.5L310.5 485.3L312.5 486.6L314.5 487.4L316.5 488.3L318.5 489.9L320.5 492.4L322.5 495.7L324.5 498.9L326.5 501.6L328.5 504.0L330.5 506.7L332.5 509.7L334.5 512.8L336.5 515.5L338.5 517.4L340.5 517.8L342.5 517.1L344.5 515.5L346.5 513.7L348.5 511.7L350.5 509.4L352.6 507.0L354.6 504.7L356.6 502.8L358.6 501.1L360.6 499.5L362.6 497.9L364.6 496.5L366.6 495.1L368.6 493.7L370.6 492.4L372.6 491.1L374.6 489.8L376.6 488.5L378.6 487.4L380.6 486.5L382.6 485.8L384.6 485.3L386.6 485.0L388.6 484.7L390.6 484.5L392.6 484.4L394.6 484.5L396.6 484.7L398.6 485.0L400.6 485.4L402.6 485.6L404.6 485.8L406.6 485.8L408.6 485.8L410.6 485.9L412.6 486.1L414.6 486.6L416.6 487.4L418.6 488.5L420.6 489.9L422.6 491.3L424.6 492.6L426.6 493.9L428.6 495.1L430.6 496.4L432.6 497.6L434.6 498.7L436.6 499.6L438.6 500.1L440.6 500.2L442.6 499.4L444.6 497.6L446.6 494.6L448.6 490.5L450.6 485.8L452.6 481.1L454.7 476.8L456.7 473.2L458.7 470.2L460.7 467.8L462.7 465.7L464.7 463.9L466.7 462.3L468.7 460.9L470.7 459.6L472.7 458.5L474.7 457.7L476.7 457.2L478.7 456.9L480.7 456.9L482.7 456.8L484.7 456.7L486.7 456.5L488.7 456.2L490.7 455.8L492.7 455.5L494.7 455.4L496.7 455.3L498.7 455.5L500.7 455.8L502.7 456.3L504.7 456.8L506.7 457.4L508.7 458.0L510.7 458.3L512.7 458.5L514.7 458.5L516.7 458.3L518.7 458.0L520.7 457.6L522.7 457.2L524.7 456.9L526.7 456.6L528.7 456.3L530.7 456.0L532.7 455.8L534.7 455.7L536.7 455.8L538.7 456.0L540.7 456.4L542.7 456.8L544.7 457.3L546.7 457.9L548.7 458.8L550.7 459.8L552.7 461.1L554.7 462.5L556.7 464.0L558.8 465.4L560.8 466.7L562.8 467.9L564.8 469.0L566.8 470.0L568.8 471.0L570.8 471.9L572.8 472.9L574.8 473.8L576.8 474.7L578.8 475.6L580.8 476.4L582.8 477.3L584.8 478.3L586.8 479.6L588.8 481.2L590.8 483.1L592.8 485.3L594.8 488.1L596.8 491.5L598.8 496.1L600.8 501.7L602.8 507.6L604.8 513.3L606.8 518.3L608.8 522.7L610.8 526.6L612.8 529.9L614.8 532.5L616.8 534.7L618.8 536.5L620.8 538.1L622.8 539.5L624.8 540.7L626.8 541.7L628.8 542.6L630.8 543.5L632.8 544.4L634.8 545.4L636.8 546.4L638.8 547.3L640.8 548.0L642.8 548.4L644.8 548.8L646.8 549.4L648.8 550.0L650.8 550.7L652.8 551.3L654.8 551.8L656.8 552.1L658.8 552.0L660.9 551.1L662.9 549.0L664.9 545.2L666.9 539.6L668.9 532.2L670.9 523.9L672.9 516.5L674.9 511.8L676.9 510.9L678.9 511.2L680.9 512.0L682.9 513.3L684.9 515.2L686.9 517.3L688.9 519.8L690.9 522.3L692.9 524.9L694.9 527.4L696.9 529.7L698.9 531.7L700.9 533.5L702.9 535.1L704.9 536.4L706.9 537.7L708.9 539.0L710.9 540.6L712.9 542.4L714.9 544.0L716.9 545.2L718.9 546.3L720.9 547.3L722.9 548.3L724.9 549.2L726.9 550.1L728.9 551.0L730.9 551.8L732.9 552.4L734.9 552.9L736.9 553.3L738.9 553.5L740.9 553.7L742.9 553.8L744.9 553.9L746.9 554.0L748.9 554.1L750.9 554.1L752.9 554.0L754.9 553.5L756.9 552.8L758.9 551.8L760.9 550.8L763.0 549.7L765.0 548.6L767.0 547.6L769.0 546.7L771.0 545.7L773.0 544.8L775.0 543.9L777.0 543.0L779.0 542.1L781.0 541.3L783.0 540.5L785.0 539.7L787.0 539.0L789.0 538.4L791.0 538.0L793.0 537.6L795.0 537.4L797.0 537.2L799.0 537.0L801.0 536.7L803.0 536.2L805.0 535.4L807.0 534.5L809.0 533.5L811.0 532.6L813.0 531.7L815.0 531.1L817.0 530.6L819.0 530.3L821.0 530.0L823.0 529.6L825.0 529.1L827.0 528.4L829.0 527.7L831.0 526.8L833.0 525.8L835.0 524.8L837.0 524.0L839.0 523.1L841.0 521.8L843.0 519.9L845.0 517.1L847.0 513.1L849.0 507.7L851.0 501.0L853.0 493.2L855.0 484.5L857.0 475.3L859.0 465.7L861.0 455.2L863.0 443.7L865.1 432.1L867.1 420.9L869.1 410.5L871.1 400.9L873.1 392.1L875.1 384.1L877.1 376.5L879.1 369.5L881.1 362.9L883.1 356.9L885.1 351.6L887.1 347.2L889.1 343.6L891.1 340.7L893.1 338.4L895.1 336.8L897.1 335.8L899.1 335.3L901.1 334.9L903.1 334.7L905.1 334.7L907.1 335.0L909.1 335.4L911.1 335.9L913.1 336.7L915.1 337.5L917.1 338.5L919.1 339.5L921.1 340.6L923.1 341.5L925.1 342.4L927.1 343.2L929.1 343.8L931.1 344.3L933.1 344.6L935.1 344.7L937.1 344.6L939.1 344.3L941.1 343.7L943.1 343.1L945.1 342.4L947.1 341.8L949.1 341.3L951.1 340.9L953.1 340.7L955.1 340.5L957.1 340.5L959.1 340.8L961.1 341.3L963.1 342.5L965.1 344.3L967.2 346.8L969.2 349.6L971.2 352.9L973.2 356.7L975.2 361.7L977.2 367.6L979.2 373.8L981.2 379.4L983.2 383.5L985.2 386.2L987.2 388.0L989.2 389.2L991.2 390.1L993.2 390.9L995.2 391.5L997.2 392.0L999.2 392.6L1001.2 393.6L1003.2 395.0L1005.2 397.0L1007.2 399.5L1009.2 402.8L1011.2 406.9L1013.2 411.8L1015.2 417.0L1017.2 422.5L1019.2 428.2L1021.2 434.0L1023.2 439.6L1025.2 445.1L1027.2 450.2L1029.2 455.0L1031.2 459.6L1033.2 464.0L1035.2 468.9L1037.2 474.4L1039.2 480.3L1041.2 486.3L1043.2 492.5L1045.2 498.5L1047.2 504.2L1049.2 509.8L1051.2 515.4L1053.2 521.2L1055.2 526.9L1057.2 531.8L1059.2 535.9L1061.2 539.2L1063.2 541.8L1065.2 543.8L1067.2 545.0L1069.3 545.7L1071.3 546.2L1073.3 546.6L1075.3 547.1L1077.3 547.8L1079.3 548.6L1081.3 549.3L1083.3 549.9L1085.3 550.4L1087.3 551.0L1089.3 551.7L1091.3 552.4L1093.3 553.2L1095.3 553.9L1097.3 554.5L1099.3 554.7L1101.3 554.7L1103.3 554.4L1105.3 553.9L1107.3 553.3L1109.3 552.6L1111.3 552.0L1113.3 551.5L1115.3 550.9L1117.3 550.4L1119.3 549.9L1121.3 549.5L1123.3 549.2L1125.3 548.9L1127.3 548.6L1129.3 548.2L1131.3 547.8L1133.3 547.3L1135.3 546.8L1137.3 546.3L1139.3 545.8L1141.3 545.5L1143.3 545.2L1145.3 545.0L1147.3 544.7L1149.3 544.3L1151.3 543.9L1153.3 543.5L1155.3 543.2L1157.3 542.9L1159.3 542.9L1161.3 542.9L1163.3 543.0L1165.3 543.1L1167.3 543.2L1169.3 543.2L1171.4 543.2L1173.4 543.0L1175.4 542.9L1177.4 542.7L1179.4 542.5L1181.4 542.4L1183.4 542.4L1185.4 542.3L1187.4 542.3L1189.4 542.1L1191.4 541.8L1193.4 541.4L1195.4 540.8L1197.4 539.9L1199.4 538.9L1201.4 537.9L1203.4 536.8L1205.4 535.8L1207.4 534.9L1209.4 534.3L1211.4 533.9L1213.4 533.6L1215.4 533.5L1217.4 533.4L1219.4 533.5L1221.4 533.7L1222.4 533.8"/>
<path d="M198.4 554.0L200.4 553.3L202.4 552.4L204.4 551.6L206.4 550.7L208.4 550.0L210.4 549.4L212.4 548.9L214.4 548.4L216.4 547.9L218.4 547.5L220.4 547.2L222.4 546.9L224.4 546.6L226.4 546.1L228.4 545.6L230.4 544.9L232.4 544.0L234.4 543.2L236.4 542.4L238.4 541.8L240.4 541.5L242.4 541.4L244.4 541.5L246.4 541.9L248.4 542.5L250.5 543.2L252.5 544.1L254.5 545.1L256.5 546.1L258.5 547.1L260.5 548.0L262.5 548.7L264.5 549.4L266.5 549.9L268.5 550.3L270.5 550.7L272.5 551.0L274.5 551.1L276.5 550.8L278.5 550.0L280.5 548.8L282.5 547.1L284.5 545.0L286.5 542.8L288.5 540.5L290.5 537.8L292.5 534.5L294.5 530.7L296.5 526.5L298.5 522.1L300.5 517.6L302.5 513.2L304.5 509.1L306.5 505.2L308.5 502.0L310.5 499.4L312.5 497.3L314.5 495.3L316.5 493.5L318.5 492.1L320.5 491.2L322.5 490.8L324.5 491.1L326.5 491.5L328.5 492.7L330.5 495.0L332.5 498.1L334.5 501.7L336.5 505.7L338.5 509.9L340.5 514.2L342.5 518.4L344.5 522.2L346.5 525.4L348.5 527.6L350.5 528.9L352.6 529.5L354.6 529.6L356.6 529.2L358.6 528.5L360.6 527.8L362.6 527.2L364.6 526.8L366.6 526.3L368.6 525.8L370.6 525.0L372.6 523.9L374.6 522.5L376.6 520.9L378.6 519.1L380.6 517.2L382.6 515.4L384.6 513.7L386.6 512.2L388.6 510.9L390.6 509.7L392.6 508.6L394.6 507.6L396.6 506.7L398.6 506.0L400.6 505.4L402.6 505.0L404.6 504.9L406.6 505.0L408.6 505.2L410.6 505.6L412.6 506.2L414.6 507.0L416.6 508.0L418.6 509.2L420.6 510.6L422.6 512.2L424.6 513.8L426.6 515.7L428.6 517.7L430.6 519.9L432.6 522.4L434.6 525.3L436.6 528.7L438.6 532.8L440.6 536.9L442.6 540.6L444.6 543.3L446.6 544.5L448.6 543.8L450.6 541.2L452.6 536.9L454.7 531.2L456.7 524.4L458.7 517.0L460.7 509.6L462.7 502.8L464.7 496.5L466.7 490.8L468.7 485.8L470.7 481.3L472.7 477.6L474.7 474.4L476.7 471.8L478.7 469.6L480.7 467.8L482.7 466.2L484.7 464.9L486.7 463.9L488.7 463.2L490.7 462.8L492.7 462.6L494.7 462.5L496.7 462.5L498.7 462.6L500.7 462.7L502.7 462.8L504.7 463.0L506.7 463.2L508.7 463.4L510.7 463.7L512.7 464.1L514.7 464.3L516.7 464.5L518.7 464.4L520.7 464.2L522.7 463.9L524.7 463.6L526.7 463.4L528.7 463.4L530.7 463.5L532.7 463.8L534.7 464.2L536.7 464.8L538.7 465.5L540.7 466.3L542.7 467.2L544.7 468.3L546.7 469.3L548.7 470.2L550.7 470.9L552.7 471.3L554.7 471.5L556.7 471.4L558.8 471.1L560.8 470.7L562.8 470.1L564.8 469.6L566.8 469.0L568.8 468.6L570.8 468.2L572.8 467.9L574.8 467.6L576.8 467.2L578.8 466.7L580.8 466.1L582.8 465.5L584.8 464.8L586.8 464.2L588.8 463.7L590.8 463.4L592.8 463.5L594.8 464.1L596.8 465.3L598.8 467.2L600.8 469.8L602.8 473.4L604.8 478.5L606.8 485.2L608.8 492.9L610.8 500.6L612.8 507.8L614.8 514.2L616.8 519.9L618.8 525.0L620.8 529.4L622.8 532.9L624.8 535.7L626.8 538.0L628.8 539.8L630.8 541.2L632.8 542.3L634.8 543.2L636.8 544.0L638.8 544.7L640.8 545.2L642.8 545.3L644.8 545.3L646.8 545.4L648.8 545.4L650.8 545.1L652.8 544.5L654.8 543.6L656.8 542.6L658.8 541.7L660.9 540.9L662.9 540.4L664.9 540.4L666.9 540.7L668.9 541.3L670.9 541.9L672.9 542.5L674.9 543.1L676.9 543.6L678.9 544.0L680.9 544.4L682.9 544.8L684.9 545.0L686.9 545.2L688.9 545.4L690.9 545.4L692.9 545.3L694.9 545.0L696.9 544.5L698.9 543.9L700.9 543.3L702.9 542.6L704.9 541.9L706.9 541.3L708.9 540.7L710.9 540.2L712.9 539.8L714.9 539.5L716.9 539.5L718.9 539.6L720.9 539.5L722.9 539.1L724.9 538.5L726.9 537.9L728.9 537.4L730.9 537.1L732.9 537.0L734.9 536.8L736.9 536.7L738.9 536.4L740.9 536.1L742.9 535.7L744.9 535.3L746.9 533.5L748.9 530.0L750.9 526.8L752.9 525.4L754.9 525.0L756.9 524.6L758.9 524.2L760.9 523.7L763.0 522.9L765.0 521.8L767.0 520.6L769.0 519.4L771.0 518.1L773.0 516.8L775.0 515.3L777.0 513.9L779.0 512.6L781.0 511.5L783.0 510.7L785.0 510.1L787.0 509.6L789.0 509.2L791.0 508.8L793.0 508.4L795.0 508.0L797.0 507.7L799.0 507.3L801.0 506.9L803.0 506.6L805.0 506.2L807.0 505.9L809.0 505.5L811.0 505.2L813.0 504.8L815.0 504.4L817.0 504.0L819.0 503.5L821.0 503.0L823.0 502.4L825.0 501.7L827.0 501.0L829.0 500.1L831.0 499.1L833.0 498.0L835.0 496.3L837.0 494.0L839.0 491.2L841.0 488.0L843.0 484.0L845.0 482.5L847.0 501.7L849.0 532.9L851.0 555.5L853.0 555.2L855.0 550.1L857.0 543.7L859.0 536.4L861.0 528.5L863.0 520.0L865.1 511.2L867.1 502.2L869.1 493.3L871.1 484.5L873.1 475.8L875.1 467.2L877.1 458.8L879.1 450.6L881.1 442.6L883.1 434.7L885.1 426.9L887.1 419.0L889.1 411.2L891.1 403.4L893.1 395.7L895.1 388.4L897.1 382.0L899.1 376.2L901.1 370.8L903.1 366.0L905.1 362.1L907.1 359.0L909.1 356.8L911.1 355.3L913.1 354.5L915.1 354.2L917.1 354.3L919.1 354.7L921.1 355.4L923.1 356.4L925.1 357.7L927.1 359.5L929.1 361.7L931.1 364.5L933.1 367.7L935.1 371.2L937.1 375.0L939.1 378.8L941.1 382.4L943.1 385.7L945.1 388.7L947.1 391.3L949.1 393.7L951.1 395.7L953.1 397.6L955.1 399.2L957.1 400.8L959.1 402.3L961.1 403.5L963.1 404.3L965.1 404.9L967.2 405.4L969.2 405.8L971.2 406.3L973.2 406.7L975.2 407.0L977.2 407.1L979.2 407.1L981.2 407.3L983.2 408.0L985.2 409.3L987.2 410.9L989.2 412.2L991.2 412.8L993.2 412.7L995.2 412.2L997.2 411.3L999.2 410.3L1001.2 409.2L1003.2 408.1L1005.2 407.2L1007.2 406.7L1009.2 406.8L1011.2 407.5L1013.2 408.9L1015.2 411.1L1017.2 414.3L1019.2 418.5L1021.2 423.5L1023.2 429.1L1025.2 435.1L1027.2 441.4L1029.2 448.2L1031.2 455.2L1033.2 462.4L1035.2 469.5L1037.2 476.2L1039.2 482.6L1041.2 488.8L1043.2 494.9L1045.2 501.1L1047.2 507.4L1049.2 513.6L1051.2 519.6L1053.2 525.1L1055.2 530.1L1057.2 534.8L1059.2 539.2L1061.2 543.2L1063.2 546.8L1065.2 549.8L1067.2 552.4L1069.3 554.6L1071.3 556.5L1073.3 557.8L1075.3 558.7L1077.3 559.1L1079.3 559.2L1081.3 559.2L1083.3 559.1L1085.3 559.0L1087.3 559.0L1089.3 559.0L1091.3 558.9L1093.3 558.7L1095.3 558.4L1097.3 558.1L1099.3 557.7L1101.3 557.4L1103.3 557.2L1105.3 557.0L1107.3 556.8L1109.3 556.6L1111.3 556.3L1113.3 556.0L1115.3 555.7L1117.3 555.3L1119.3 554.8L1121.3 554.3L1123.3 553.8L1125.3 553.2L1127.3 552.7L1129.3 552.4L1131.3 552.1L1133.3 551.9L1135.3 551.6L1137.3 551.2L1139.3 550.7L1141.3 550.1L1143.3 549.6L1145.3 549.2L1147.3 549.0L1149.3 549.0L1151.3 549.1L1153.3 549.3L1155.3 549.5L1157.3 549.8L1159.3 550.2L1161.3 550.8L1163.3 551.5L1165.3 552.3L1167.3 553.0L1169.3 553.6L1171.4 554.0L1173.4 554.2L1175.4 554.3L1177.4 554.4L1179.4 554.3L1181.4 554.3L1183.4 554.1L1185.4 553.9L1187.4 553.7L1189.4 553.3L1191.4 552.7L1193.4 552.0L1195.4 551.1L1197.4 550.2L1199.4 549.4L1201.4 548.7L1203.4 548.3L1205.4 548.1L1207.4 548.0L1209.4 547.9L1211.4 547.9L1213.4 547.7L1215.4 547.5L1217.4 547.2L1219.4 546.7L1221.4 546.1L1222.4 545.9"/>
<path d="M198.4 579.7L200.4 584.3L202.4 593.3L204.4 595.2L206.4 595.5L208.4 595.7L210.4 595.8L212.4 595.9L214.4 596.0L216.4 596.0L218.4 596.0L220.4 596.0L222.4 595.9L224.4 595.7L226.4 595.4L228.4 595.1L230.4 594.6L232.4 594.0L234.4 593.4L236.4 592.6L238.4 591.8L240.4 589.7L242.4 586.7L244.4 583.7L246.4 581.6L248.4 580.1L250.5 578.7L252.5 578.0L254.5 578.3L256.5 579.4L258.5 580.9L260.5 582.3L262.5 584.1L264.5 586.1L266.5 587.6L268.5 588.0L270.5 587.1L272.5 585.6L274.5 584.4L276.5 584.0L278.5 584.5L280.5 585.3L282.5 586.3L284.5 587.2L286.5 588.5L288.5 589.6L290.5 589.8L292.5 585.5L294.5 577.5L296.5 560.3L298.5 543.4L300.5 528.9L302.5 517.9L304.5 510.6L306.5 505.6L308.5 502.0L310.5 499.4L312.5 497.3L314.5 500.3L316.5 512.5L318.5 516.0L320.5 515.6L322.5 515.9L324.5 516.6L326.5 517.1L328.5 517.6L330.5 518.2L332.5 519.2L334.5 520.4L336.5 521.7L338.5 522.7L340.5 522.9L342.5 522.3L344.5 521.3L346.5 520.2L348.5 519.3L350.5 518.4L352.6 517.4L354.6 516.5L356.6 515.9L358.6 515.5L360.6 515.3L362.6 515.2L364.6 515.3L366.6 515.6L368.6 516.1L370.6 516.7L372.6 517.4L374.6 518.2L376.6 518.8L378.6 519.2L380.6 519.4L382.6 519.5L384.6 519.5L386.6 519.5L388.6 519.6L390.6 519.9L392.6 520.3L394.6 520.7L396.6 521.3L398.6 522.0L400.6 522.8L402.6 523.7L404.6 524.5L406.6 525.4L408.6 526.2L410.6 527.1L412.6 528.1L414.6 529.1L416.6 530.1L418.6 531.3L420.6 532.8L422.6 534.7L424.6 537.1L426.6 540.0L428.6 543.5L430.6 547.9L432.6 553.1L434.6 558.7L436.6 564.1L438.6 568.8L440.6 572.2L442.6 573.8L444.6 573.4L446.6 570.9L448.6 566.6L450.6 560.8L452.6 554.0L454.7 546.9L456.7 540.3L458.7 534.3L460.7 529.1L462.7 524.4L464.7 520.4L466.7 517.2L468.7 514.7L470.7 513.1L472.7 512.1L474.7 511.6L476.7 511.3L478.7 511.1L480.7 511.0L482.7 510.8L484.7 510.6L486.7 510.1L488.7 509.4L490.7 508.5L492.7 507.5L494.7 506.6L496.7 505.8L498.7 505.3L500.7 505.0L502.7 504.7L504.7 504.4L506.7 503.9L508.7 503.1L510.7 502.1L512.7 500.8L514.7 499.5L516.7 498.2L518.7 496.9L520.7 495.6L522.7 494.6L524.7 493.8L526.7 493.4L528.7 493.4L530.7 493.7L532.7 494.3L534.7 495.0L536.7 495.6L538.7 496.2L540.7 496.7L542.7 497.1L544.7 497.6L546.7 498.2L548.7 498.9L550.7 499.8L552.7 500.9L554.7 502.2L556.7 503.4L558.8 504.7L560.8 505.9L562.8 507.2L564.8 508.5L566.8 509.8L568.8 511.1L570.8 512.5L572.8 513.9L574.8 515.5L576.8 517.2L578.8 519.1L580.8 521.1L582.8 523.3L584.8 525.7L586.8 528.4L588.8 531.5L590.8 535.0L592.8 538.8L594.8 542.4L596.8 545.9L598.8 548.9L600.8 551.7L602.8 554.4L604.8 557.3L606.8 560.7L608.8 564.8L610.8 569.6L612.8 574.5L614.8 579.1L616.8 583.0L618.8 585.8L620.8 587.6L622.8 588.4L624.8 588.1L626.8 586.6L628.8 584.2L630.8 581.4L632.8 578.6L634.8 575.9L636.8 573.4L638.8 571.0L640.8 568.6L642.8 566.2L644.8 564.0L646.8 561.9L648.8 559.9L650.8 558.0L652.8 556.3L654.8 554.7L656.8 553.3L658.8 552.2L660.9 551.4L662.9 551.0L664.9 551.2L666.9 551.9L668.9 553.0L670.9 554.3L672.9 555.4L674.9 556.5L676.9 557.4L678.9 558.2L680.9 558.9L682.9 559.6L684.9 560.3L686.9 560.8L688.9 561.3L690.9 561.5L692.9 561.4L694.9 561.2L696.9 560.7L698.9 560.1L700.9 559.5L702.9 558.9L704.9 558.4L706.9 558.0L708.9 558.0L710.9 558.7L712.9 560.1L714.9 561.6L716.9 562.5L718.9 562.6L720.9 562.3L722.9 561.8L724.9 561.0L726.9 560.1L728.9 559.1L730.9 558.1L732.9 557.1L734.9 556.0L736.9 555.0L738.9 553.8L740.9 552.6L742.9 551.2L744.9 549.8L746.9 548.4L748.9 547.2L750.9 546.3L752.9 545.6L754.9 545.2L756.9 545.0L758.9 544.9L760.9 544.9L763.0 545.0L765.0 545.2L767.0 545.7L769.0 546.2L771.0 546.9L773.0 547.5L775.0 548.1L777.0 548.7L779.0 549.3L781.0 550.0L783.0 550.8L785.0 551.5L787.0 552.0L789.0 552.4L791.0 552.6L793.0 552.5L795.0 552.1L797.0 551.6L799.0 550.9L801.0 550.2L803.0 549.7L805.0 549.2L807.0 549.0L809.0 549.0L811.0 549.2L813.0 549.7L815.0 550.3L817.0 551.0L819.0 551.8L821.0 552.7L823.0 553.8L825.0 555.0L827.0 556.3L829.0 557.7L831.0 558.9L833.0 559.7L835.0 560.1L837.0 559.9L839.0 559.1L841.0 557.5L843.0 555.1L845.0 551.7L847.0 547.3L849.0 541.5L851.0 534.6L853.0 526.7L855.0 518.3L857.0 509.5L859.0 500.6L861.0 491.6L863.0 482.6L865.1 473.8L867.1 465.2L869.1 456.8L871.1 448.8L873.1 441.4L875.1 434.7L877.1 428.6L879.1 423.1L881.1 418.0L883.1 413.2L885.1 408.6L887.1 404.2L889.1 400.1L891.1 396.2L893.1 392.5L895.1 389.4L897.1 387.1L899.1 385.4L901.1 384.1L903.1 383.1L905.1 382.3L907.1 381.6L909.1 381.0L911.1 380.4L913.1 379.8L915.1 379.2L917.1 378.6L919.1 378.2L921.1 378.0L923.1 378.0L925.1 378.4L927.1 379.2L929.1 380.3L931.1 381.9L933.1 384.0L935.1 386.5L937.1 389.5L939.1 392.7L941.1 395.9L943.1 399.0L945.1 401.9L947.1 404.6L949.1 407.5L951.1 410.4L953.1 413.6L955.1 417.0L957.1 420.6L959.1 424.3L961.1 427.9L963.1 431.4L965.1 434.7L967.2 437.6L969.2 440.0L971.2 441.9L973.2 443.5L975.2 444.9L977.2 446.3L979.2 447.7L981.2 449.1L983.2 450.6L985.2 452.2L987.2 454.1L989.2 456.2L991.2 458.5L993.2 460.6L995.2 462.3L997.2 463.7L999.2 464.7L1001.2 465.7L1003.2 466.8L1005.2 468.0L1007.2 469.6L1009.2 471.5L1011.2 474.0L1013.2 477.1L1015.2 480.7L1017.2 484.6L1019.2 488.8L1021.2 493.4L1023.2 498.4L1025.2 503.6L1027.2 508.9L1029.2 514.1L1031.2 518.9L1033.2 523.0L1035.2 526.0L1037.2 528.1L1039.2 529.7L1041.2 531.3L1043.2 533.1L1045.2 535.0L1047.2 537.1L1049.2 539.4L1051.2 542.0L1053.2 544.9L1055.2 548.2L1057.2 551.6L1059.2 554.8L1061.2 557.7L1063.2 560.2L1065.2 562.5L1067.2 564.7L1069.3 566.7L1071.3 568.5L1073.3 570.4L1075.3 572.3L1077.3 574.2L1079.3 576.0L1081.3 577.8L1083.3 579.4L1085.3 580.8L1087.3 582.0L1089.3 582.9L1091.3 583.6L1093.3 584.0L1095.3 584.3L1097.3 584.6L1099.3 584.8L1101.3 585.1L1103.3 585.4L1105.3 585.5L1107.3 585.4L1109.3 585.0L1111.3 584.5L1113.3 583.6L1115.3 582.7L1117.3 581.6L1119.3 580.6L1121.3 579.6L1123.3 578.8L1125.3 578.2L1127.3 577.9L1129.3 577.7L1131.3 577.9L1133.3 578.2L1135.3 578.7L1137.3 579.4L1139.3 580.1L1141.3 580.8L1143.3 581.4L1145.3 581.8L1147.3 581.9L1149.3 581.7L1151.3 581.4L1153.3 580.9L1155.3 580.4L1157.3 580.0L1159.3 579.7L1161.3 579.4L1163.3 579.1L1165.3 578.7L1167.3 578.3L1169.3 578.0L1171.4 577.8L1173.4 577.8L1175.4 577.9L1177.4 578.2L1179.4 578.6L1181.4 578.7L1183.4 578.8L1185.4 578.6L1187.4 578.3L1189.4 578.0L1191.4 577.5L1193.4 577.1L1195.4 576.6L1197.4 576.2L1199.4 575.8L1201.4 575.5L1203.4 575.4L1205.4 575.3L1207.4 575.3L1209.4 575.5L1211.4 575.7L1213.4 575.8L1215.4 575.9L1217.4 575.9L1219.4 575.8L1221.4 575.5L1222.4 575.4"/>
<path d="M198.4 590.5L200.4 590.3L202.4 589.9L204.4 589.4L206.4 588.6L208.4 587.6L210.4 586.5L212.4 585.2L214.4 583.9L216.4 582.6L218.4 581.4L220.4 580.4L222.4 579.7L224.4 579.3L226.4 579.2L228.4 579.4L230.4 579.8L232.4 580.3L234.4 580.9L236.4 581.4L238.4 581.7L240.4 581.8L242.4 581.6L244.4 581.2L246.4 580.6L248.4 579.9L250.5 579.2L252.5 578.5L254.5 577.8L256.5 577.0L258.5 576.2L260.5 575.3L262.5 574.3L264.5 573.3L266.5 572.2L268.5 571.1L270.5 570.0L272.5 568.8L274.5 567.5L276.5 566.1L278.5 564.7L280.5 563.3L282.5 562.0L284.5 560.6L286.5 559.2L288.5 557.6L290.5 555.8L292.5 553.8L294.5 551.6L296.5 549.1L298.5 546.5L300.5 543.8L302.5 541.1L304.5 538.7L306.5 536.7L308.5 535.3L310.5 534.2L312.5 533.3L314.5 532.5L316.5 532.0L318.5 531.7L320.5 532.0L322.5 532.9L324.5 534.4L326.5 536.5L328.5 538.9L330.5 541.6L332.5 544.3L334.5 546.9L336.5 549.3L338.5 551.3L340.5 552.7L342.5 553.2L344.5 553.1L346.5 552.4L348.5 551.7L350.5 550.9L352.6 550.3L354.6 549.7L356.6 549.1L358.6 548.5L360.6 547.7L362.6 546.8L364.6 545.7L366.6 544.4L368.6 543.1L370.6 541.7L372.6 540.4L374.6 539.2L376.6 538.2L378.6 537.4L380.6 536.7L382.6 536.2L384.6 535.7L386.6 535.4L388.6 535.0L390.6 534.6L392.6 534.2L394.6 533.6L396.6 533.1L398.6 532.5L400.6 532.1L402.6 531.7L404.6 531.5L406.6 531.2L408.6 530.9L410.6 530.6L412.6 530.2L414.6 529.7L416.6 529.4L418.6 529.2L420.6 529.4L422.6 530.3L424.6 531.9L426.6 534.1L428.6 536.9L430.6 540.5L432.6 545.1L434.6 550.5L436.6 556.2L438.6 561.4L440.6 565.9L442.6 568.8L444.6 569.8L446.6 568.6L448.6 565.7L450.6 561.2L452.6 555.5L454.7 549.5L456.7 543.9L458.7 539.0L460.7 534.8L462.7 531.3L464.7 528.1L466.7 525.3L468.7 522.9L470.7 520.9L472.7 519.4L474.7 518.2L476.7 517.4L478.7 516.7L480.7 516.1L482.7 515.7L484.7 515.2L486.7 514.7L488.7 514.3L490.7 513.9L492.7 513.7L494.7 513.6L496.7 513.5L498.7 513.6L500.7 513.5L502.7 513.3L504.7 513.0L506.7 512.5L508.7 511.9L510.7 511.3L512.7 510.8L514.7 510.4L516.7 510.1L518.7 509.9L520.7 509.7L522.7 509.7L524.7 509.6L526.7 509.7L528.7 509.9L530.7 510.3L532.7 510.8L534.7 511.4L536.7 512.0L538.7 512.5L540.7 513.0L542.7 513.4L544.7 514.0L546.7 514.7L548.7 515.6L550.7 516.5L552.7 517.5L554.7 518.4L556.7 519.2L558.8 520.0L560.8 520.7L562.8 521.5L564.8 522.4L566.8 523.3L568.8 524.2L570.8 525.2L572.8 526.1L574.8 527.1L576.8 528.0L578.8 529.0L580.8 529.9L582.8 530.6L584.8 531.4L586.8 532.2L588.8 533.5L590.8 535.4L592.8 538.0L594.8 541.1L596.8 544.4L598.8 547.7L600.8 550.9L602.8 554.0L604.8 557.2L606.8 560.9L608.8 565.4L610.8 570.6L612.8 576.4L614.8 582.2L616.8 587.4L618.8 591.6L620.8 594.6L622.8 596.6L624.8 597.6L626.8 597.3L628.8 596.0L630.8 594.2L632.8 592.3L634.8 590.6L636.8 589.1L638.8 587.7L640.8 586.4L642.8 585.2L644.8 584.0L646.8 582.8L648.8 581.5L650.8 580.2L652.8 578.7L654.8 577.1L656.8 575.6L658.8 574.1L660.9 572.8L662.9 571.5L664.9 570.2L666.9 569.1L668.9 568.2L670.9 567.5L672.9 567.0L674.9 566.6L676.9 566.5L678.9 566.4L680.9 566.5L682.9 566.5L684.9 566.2L686.9 565.4L688.9 563.4L690.9 560.1L692.9 555.3L694.9 549.9L696.9 544.9L698.9 541.6L700.9 540.9L702.9 541.3L704.9 542.6L706.9 544.5L708.9 547.1L710.9 550.2L712.9 553.9L714.9 557.7L716.9 560.9L718.9 562.8L720.9 563.9L722.9 564.6L724.9 565.1L726.9 565.5L728.9 565.8L730.9 566.1L732.9 566.0L734.9 565.8L736.9 565.1L738.9 564.2L740.9 563.1L742.9 561.9L744.9 560.8L746.9 560.0L748.9 559.4L750.9 559.1L752.9 558.9L754.9 558.7L756.9 558.4L758.9 557.9L760.9 557.2L763.0 556.5L765.0 555.9L767.0 555.5L769.0 555.5L771.0 555.9L773.0 556.5L775.0 557.2L777.0 558.0L779.0 558.7L781.0 559.2L783.0 559.6L785.0 559.8L787.0 559.8L789.0 559.7L791.0 559.5L793.0 559.2L795.0 558.9L797.0 558.6L799.0 558.4L801.0 558.2L803.0 558.2L805.0 558.3L807.0 558.5L809.0 558.7L811.0 558.9L813.0 559.1L815.0 559.3L817.0 559.4L819.0 559.5L821.0 559.5L823.0 559.5L825.0 559.4L827.0 559.2L829.0 559.0L831.0 558.6L833.0 558.1L835.0 557.3L837.0 556.3L839.0 555.2L841.0 553.7L843.0 551.9L845.0 549.5L847.0 546.1L849.0 541.4L851.0 535.1L853.0 527.2L855.0 518.1L857.0 508.1L859.0 497.5L861.0 486.3L863.0 474.5L865.1 462.6L867.1 450.9L869.1 439.6L871.1 429.0L873.1 419.5L875.1 411.2L877.1 404.3L879.1 398.8L881.1 394.4L883.1 391.1L885.1 388.7L887.1 387.3L889.1 386.7L891.1 386.8L893.1 387.4L895.1 388.5L897.1 390.3L899.1 392.5L901.1 394.7L903.1 397.1L905.1 399.5L907.1 401.9L909.1 404.2L911.1 406.5L913.1 408.7L915.1 410.8L917.1 412.7L919.1 414.4L921.1 415.7L923.1 416.7L925.1 417.3L927.1 417.6L929.1 417.8L931.1 417.9L933.1 417.9L935.1 418.0L937.1 418.1L939.1 418.3L941.1 418.6L943.1 419.1L945.1 419.8L947.1 420.8L949.1 422.0L951.1 423.6L953.1 425.6L955.1 428.1L957.1 431.0L959.1 434.4L961.1 438.0L963.1 441.8L965.1 445.4L967.2 448.6L969.2 451.3L971.2 453.5L973.2 455.1L975.2 456.3L977.2 457.2L979.2 458.0L981.2 458.6L983.2 459.1L985.2 459.6L987.2 460.5L989.2 461.8L991.2 463.4L993.2 465.2L995.2 466.8L997.2 468.2L999.2 469.3L1001.2 470.3L1003.2 471.3L1005.2 472.3L1007.2 473.3L1009.2 474.6L1011.2 476.4L1013.2 478.7L1015.2 481.8L1017.2 485.7L1019.2 490.3L1021.2 495.7L1023.2 502.0L1025.2 509.0L1027.2 516.4L1029.2 524.2L1031.2 532.1L1033.2 539.6L1035.2 546.4L1037.2 552.4L1039.2 557.9L1041.2 563.1L1043.2 568.0L1045.2 572.5L1047.2 576.5L1049.2 579.9L1051.2 582.7L1053.2 584.9L1055.2 586.6L1057.2 587.9L1059.2 589.0L1061.2 589.8L1063.2 590.5L1065.2 591.1L1067.2 591.6L1069.3 592.0L1071.3 592.4L1073.3 592.7L1075.3 592.8L1077.3 592.9L1079.3 592.8L1081.3 592.5L1083.3 591.9L1085.3 591.3L1087.3 590.7L1089.3 590.0L1091.3 589.5L1093.3 589.1L1095.3 588.8L1097.3 588.7L1099.3 588.7L1101.3 588.7L1103.3 588.6L1105.3 588.3L1107.3 587.9L1109.3 587.4L1111.3 586.8L1113.3 586.2L1115.3 585.8L1117.3 585.4L1119.3 585.3L1121.3 585.3L1123.3 585.5L1125.3 585.9L1127.3 586.5L1129.3 587.2L1131.3 587.9L1133.3 588.5L1135.3 589.1L1137.3 589.5L1139.3 589.8L1141.3 590.0L1143.3 590.1L1145.3 590.2L1147.3 590.3L1149.3 590.5L1151.3 590.7L1153.3 590.9L1155.3 591.0L1157.3 591.1L1159.3 591.0L1161.3 590.8L1163.3 590.4L1165.3 589.9L1167.3 589.4L1169.3 588.9L1171.4 588.5L1173.4 588.1L1175.4 587.7L1177.4 587.1L1179.4 586.5L1181.4 585.8L1183.4 585.1L1185.4 584.5L1187.4 584.0L1189.4 583.7L1191.4 583.5L1193.4 583.3L1195.4 583.0L1197.4 582.6L1199.4 582.2L1201.4 581.7L1203.4 581.3L1205.4 581.1L1207.4 581.0L1209.4 581.2L1211.4 581.4L1213.4 581.7L1215.4 581.9L1217.4 582.1L1219.4 582.0L1221.4 581.9L1222.4 581.8"/>
<path d="M198.4 549.1L200.4 549.2L202.4 549.4L204.4 549.6L206.4 549.9L208.4 550.2L210.4 550.4L212.4 550.5L214.4 550.2L216.4 549.5L218.4 548.5L220.4 547.2L222.4 545.6L224.4 544.0L226.4 542.3L228.4 540.6L230.4 538.9L232.4 537.3L234.4 535.7L236.4 534.3L238.4 533.0L240.4 532.0L242.4 531.3L244.4 530.7L246.4 530.3L248.4 530.0L250.5 529.6L252.5 529.3L254.5 529.0L256.5 528.6L258.5 528.3L260.5 528.1L262.5 528.0L264.5 528.0L266.5 528.0L268.5 527.8L270.5 527.2L272.5 526.2L274.5 524.6L276.5 522.3L278.5 519.7L280.5 516.7L282.5 513.2L284.5 509.3L286.5 504.5L288.5 499.1L290.5 493.2L292.5 486.9L294.5 480.3L296.5 473.6L298.5 467.0L300.5 460.7L302.5 455.3L304.5 451.2L306.5 448.6L308.5 447.0L310.5 446.0L312.5 445.4L314.5 445.4L316.5 446.4L318.5 448.7L320.5 452.5L322.5 457.5L324.5 463.1L326.5 468.9L328.5 474.7L330.5 480.3L332.5 485.5L334.5 490.2L336.5 494.0L338.5 496.3L340.5 497.2L342.5 497.1L344.5 496.4L346.5 495.4L348.5 494.1L350.5 492.4L352.6 490.7L354.6 489.2L356.6 488.0L358.6 487.1L360.6 486.3L362.6 485.7L364.6 485.2L366.6 485.0L368.6 484.9L370.6 485.0L372.6 485.3L374.6 485.5L376.6 485.8L378.6 486.1L380.6 486.3L382.6 486.6L384.6 487.0L386.6 487.4L388.6 487.8L390.6 488.3L392.6 488.8L394.6 489.3L396.6 489.7L398.6 490.2L400.6 490.5L402.6 490.8L404.6 491.2L406.6 491.5L408.6 491.9L410.6 492.4L412.6 492.9L414.6 493.4L416.6 493.8L418.6 494.2L420.6 494.4L422.6 494.4L424.6 494.4L426.6 494.5L428.6 494.6L430.6 495.1L432.6 495.7L434.6 496.3L436.6 497.0L438.6 497.5L440.6 497.6L442.6 496.9L444.6 495.0L446.6 492.2L448.6 488.3L450.6 484.0L452.6 479.8L454.7 476.2L456.7 473.1L458.7 470.4L460.7 468.0L462.7 465.8L464.7 463.8L466.7 462.0L468.7 460.3L470.7 458.9L472.7 457.6L474.7 456.5L476.7 455.6L478.7 454.9L480.7 454.5L482.7 454.4L484.7 454.5L486.7 454.9L488.7 455.4L490.7 456.1L492.7 456.8L494.7 457.5L496.7 458.4L498.7 459.2L500.7 459.9L502.7 460.5L504.7 460.8L506.7 460.8L508.7 460.5L510.7 459.9L512.7 459.2L514.7 458.5L516.7 457.9L518.7 457.5L520.7 457.2L522.7 457.0L524.7 456.9L526.7 456.8L528.7 456.7L530.7 456.8L532.7 457.0L534.7 457.4L536.7 458.0L538.7 458.7L540.7 459.5L542.7 460.4L544.7 461.2L546.7 461.9L548.7 462.4L550.7 462.7L552.7 462.8L554.7 462.6L556.7 462.4L558.8 462.2L560.8 462.0L562.8 461.9L564.8 461.8L566.8 461.9L568.8 462.1L570.8 462.2L572.8 461.8L574.8 460.8L576.8 458.9L578.8 455.7L580.8 451.5L582.8 446.9L584.8 443.0L586.8 441.0L588.8 441.8L590.8 446.3L592.8 453.4L594.8 461.4L596.8 469.5L598.8 477.6L600.8 485.6L602.8 493.2L604.8 499.9L606.8 505.5L608.8 510.0L610.8 513.5L612.8 516.1L614.8 517.7L616.8 518.4L618.8 518.5L620.8 518.3L622.8 518.2L624.8 518.2L626.8 518.5L628.8 519.0L630.8 519.7L632.8 520.5L634.8 521.4L636.8 522.3L638.8 523.0L640.8 523.6L642.8 524.0L644.8 524.3L646.8 524.6L648.8 524.9L650.8 525.3L652.8 525.8L654.8 526.4L656.8 527.0L658.8 527.6L660.9 528.1L662.9 528.4L664.9 528.6L666.9 528.7L668.9 528.6L670.9 528.6L672.9 528.4L674.9 528.3L676.9 528.2L678.9 528.1L680.9 528.0L682.9 527.9L684.9 527.8L686.9 527.7L688.9 527.8L690.9 528.0L692.9 528.2L694.9 528.6L696.9 528.8L698.9 528.9L700.9 528.8L702.9 528.6L704.9 528.2L706.9 527.8L708.9 527.3L710.9 526.8L712.9 526.3L714.9 525.8L716.9 525.4L718.9 525.2L720.9 525.1L722.9 525.1L724.9 525.4L726.9 525.7L728.9 526.3L730.9 527.0L732.9 527.9L734.9 528.9L736.9 529.9L738.9 530.9L740.9 531.8L742.9 532.6L744.9 533.4L746.9 534.2L748.9 535.2L750.9 536.3L752.9 537.7L754.9 539.2L756.9 540.7L758.9 542.3L760.9 543.6L763.0 544.8L765.0 545.6L767.0 546.1L769.0 546.3L771.0 546.4L773.0 546.4L775.0 546.4L777.0 546.5L779.0 546.6L781.0 546.6L783.0 546.4L785.0 546.0L787.0 545.3L789.0 544.2L791.0 542.7L793.0 541.0L795.0 539.0L797.0 536.9L799.0 534.8L801.0 532.7L803.0 530.7L805.0 528.9L807.0 527.4L809.0 526.1L811.0 525.0L813.0 524.2L815.0 523.4L817.0 522.7L819.0 522.0L821.0 521.1L823.0 520.2L825.0 519.0L827.0 517.7L829.0 516.2L831.0 514.7L833.0 513.0L835.0 511.4L837.0 509.9L839.0 508.1L841.0 505.8L843.0 502.6L845.0 498.1L847.0 492.1L849.0 484.3L851.0 475.1L853.0 464.5L855.0 453.1L857.0 441.4L859.0 429.7L861.0 417.3L863.0 404.2L865.1 391.8L867.1 380.8L869.1 371.6L871.1 364.2L873.1 358.4L875.1 353.7L877.1 349.9L879.1 346.7L881.1 344.1L883.1 341.8L885.1 339.9L887.1 338.4L889.1 337.2L891.1 336.2L893.1 335.3L895.1 334.8L897.1 334.8L899.1 335.1L901.1 335.5L903.1 335.8L905.1 336.0L907.1 336.1L909.1 335.9L911.1 335.6L913.1 335.2L915.1 334.8L917.1 334.5L919.1 334.2L921.1 333.9L923.1 333.8L925.1 333.7L927.1 333.6L929.1 333.4L931.1 333.2L933.1 332.8L935.1 332.4L937.1 331.8L939.1 331.2L941.1 330.5L943.1 329.7L945.1 328.8L947.1 328.0L949.1 327.4L951.1 327.0L953.1 326.9L955.1 327.3L957.1 328.0L959.1 329.3L961.1 331.1L963.1 333.5L965.1 336.6L967.2 340.1L969.2 344.0L971.2 348.3L973.2 353.5L975.2 360.0L977.2 367.5L979.2 374.9L981.2 381.2L983.2 385.6L985.2 388.2L987.2 389.5L989.2 390.0L991.2 390.2L993.2 390.4L995.2 390.7L997.2 391.2L999.2 392.2L1001.2 393.8L1003.2 396.3L1005.2 399.5L1007.2 403.6L1009.2 408.8L1011.2 415.2L1013.2 422.4L1015.2 430.2L1017.2 438.5L1019.2 447.2L1021.2 456.2L1023.2 465.5L1025.2 474.7L1027.2 483.8L1029.2 492.3L1031.2 500.1L1033.2 506.8L1035.2 512.5L1037.2 517.2L1039.2 521.3L1041.2 525.3L1043.2 529.1L1045.2 532.7L1047.2 535.8L1049.2 538.7L1051.2 541.2L1053.2 543.4L1055.2 545.2L1057.2 546.6L1059.2 547.5L1061.2 548.1L1063.2 548.4L1065.2 548.6L1067.2 548.5L1069.3 548.3L1071.3 547.8L1073.3 547.1L1075.3 546.3L1077.3 545.3L1079.3 544.2L1081.3 543.0L1083.3 541.9L1085.3 541.0L1087.3 540.5L1089.3 540.2L1091.3 540.2L1093.3 540.5L1095.3 540.9L1097.3 541.4L1099.3 541.9L1101.3 542.3L1103.3 542.7L1105.3 543.0L1107.3 543.1L1109.3 543.2L1111.3 543.2L1113.3 543.1L1115.3 543.0L1117.3 542.8L1119.3 542.7L1121.3 542.8L1123.3 543.0L1125.3 543.3L1127.3 543.6L1129.3 543.8L1131.3 544.0L1133.3 544.2L1135.3 544.5L1137.3 545.0L1139.3 545.8L1141.3 546.8L1143.3 548.0L1145.3 549.2L1147.3 550.3L1149.3 551.2L1151.3 551.9L1153.3 552.3L1155.3 552.4L1157.3 552.3L1159.3 552.1L1161.3 551.8L1163.3 551.4L1165.3 550.9L1167.3 550.2L1169.3 549.3L1171.4 548.2L1173.4 547.1L1175.4 546.0L1177.4 545.0L1179.4 544.3L1181.4 543.8L1183.4 543.4L1185.4 543.1L1187.4 542.8L1189.4 542.5L1191.4 542.1L1193.4 541.8L1195.4 541.3L1197.4 540.7L1199.4 540.0L1201.4 539.2L1203.4 538.4L1205.4 537.8L1207.4 537.2L1209.4 536.8L1211.4 536.5L1213.4 536.2L1215.4 536.1L1217.4 535.9L1219.4 535.9L1221.4 535.9L1222.4 536.0"/>
<path d="M198.4 589.0L200.4 589.9L202.4 590.8L204.4 591.3L206.4 591.5L208.4 591.3L210.4 590.8L212.4 590.1L214.4 589.3L216.4 588.4L218.4 587.5L220.4 586.6L222.4 585.7L224.4 584.6L226.4 583.5L228.4 582.2L230.4 580.6L232.4 578.9L234.4 577.1L236.4 575.4L238.4 573.7L240.4 572.2L242.4 570.7L244.4 569.2L246.4 567.5L248.4 565.7L250.5 563.7L252.5 561.7L254.5 559.6L256.5 557.6L258.5 555.7L260.5 554.1L262.5 552.8L264.5 552.0L266.5 551.6L268.5 551.7L270.5 552.2L272.5 552.9L274.5 553.6L276.5 554.1L278.5 554.3L280.5 554.3L282.5 554.2L284.5 553.9L286.5 553.7L288.5 553.5L290.5 553.1L292.5 552.5L294.5 551.5L296.5 549.9L298.5 547.9L300.5 545.5L302.5 542.8L304.5 540.3L306.5 537.9L308.5 535.9L310.5 534.1L312.5 532.4L314.5 531.0L316.5 530.0L318.5 529.6L320.5 529.8L322.5 530.8L324.5 532.3L326.5 534.2L328.5 536.4L330.5 538.8L332.5 541.2L334.5 543.6L336.5 545.6L338.5 546.9L340.5 547.3L342.5 546.4L344.5 544.5L346.5 541.9L348.5 538.8L350.5 535.3L352.6 531.6L354.6 528.0L356.6 524.8L358.6 521.9L360.6 519.2L362.6 516.6L364.6 513.9L366.6 511.3L368.6 508.8L370.6 506.7L372.6 504.9L374.6 503.5L376.6 502.4L378.6 501.5L380.6 500.7L382.6 500.0L384.6 499.5L386.6 499.1L388.6 499.1L390.6 499.5L392.6 500.2L394.6 501.2L396.6 502.5L398.6 504.1L400.6 505.8L402.6 507.6L404.6 509.3L406.6 510.8L408.6 512.1L410.6 513.3L412.6 514.4L414.6 515.7L416.6 517.1L418.6 518.9L420.6 521.1L422.6 523.6L424.6 526.3L426.6 529.1L428.6 531.9L430.6 535.0L432.6 538.3L434.6 541.6L436.6 544.4L438.6 546.4L440.6 547.4L442.6 546.9L444.6 544.8L446.6 541.3L448.6 536.7L450.6 531.3L452.6 525.7L454.7 520.5L456.7 516.1L458.7 512.3L460.7 509.0L462.7 506.2L464.7 503.6L466.7 501.3L468.7 499.2L470.7 497.3L472.7 495.6L474.7 493.9L476.7 492.3L478.7 490.9L480.7 489.6L482.7 488.3L484.7 487.1L486.7 485.8L488.7 484.4L490.7 482.8L492.7 481.0L494.7 479.1L496.7 477.2L498.7 475.4L500.7 473.6L502.7 472.0L504.7 470.6L506.7 469.4L508.7 468.2L510.7 467.2L512.7 466.1L514.7 465.0L516.7 463.9L518.7 462.8L520.7 461.9L522.7 461.3L524.7 461.1L526.7 461.4L528.7 462.2L530.7 463.3L532.7 464.6L534.7 465.9L536.7 467.1L538.7 468.1L540.7 468.9L542.7 469.4L544.7 469.7L546.7 469.8L548.7 469.9L550.7 470.0L552.7 470.1L554.7 470.1L556.7 470.2L558.8 470.3L560.8 470.4L562.8 470.5L564.8 470.6L566.8 470.8L568.8 471.0L570.8 471.2L572.8 471.3L574.8 471.6L576.8 471.9L578.8 472.5L580.8 473.4L582.8 474.5L584.8 476.0L586.8 477.8L588.8 479.9L590.8 482.3L592.8 485.0L594.8 488.0L596.8 491.6L598.8 496.1L600.8 501.7L602.8 507.8L604.8 514.1L606.8 520.0L608.8 525.7L610.8 531.2L612.8 536.2L614.8 540.6L616.8 544.2L618.8 546.9L620.8 549.0L622.8 550.5L624.8 551.4L626.8 551.8L628.8 551.7L630.8 551.2L632.8 550.5L634.8 549.6L636.8 548.4L638.8 546.9L640.8 544.7L642.8 541.9L644.8 538.9L646.8 536.0L648.8 533.1L650.8 530.5L652.8 528.1L654.8 526.1L656.8 524.5L658.8 523.2L660.9 522.2L662.9 521.6L664.9 521.3L666.9 521.5L668.9 521.9L670.9 522.4L672.9 522.9L674.9 523.4L676.9 524.0L678.9 524.7L680.9 525.5L682.9 526.4L684.9 527.3L686.9 528.3L688.9 529.2L690.9 529.9L692.9 530.5L694.9 531.0L696.9 531.3L698.9 531.4L700.9 531.3L702.9 531.0L704.9 530.8L706.9 530.5L708.9 530.3L710.9 530.2L712.9 530.3L714.9 530.5L716.9 530.5L718.9 530.5L720.9 530.5L722.9 530.4L724.9 530.2L726.9 530.2L728.9 530.2L730.9 530.2L732.9 530.2L734.9 530.1L736.9 530.1L738.9 530.2L740.9 530.4L742.9 530.8L744.9 531.3L746.9 531.9L748.9 532.5L750.9 533.2L752.9 533.8L754.9 534.7L756.9 535.8L758.9 537.2L760.9 538.7L763.0 540.2L765.0 541.5L767.0 542.6L769.0 543.5L771.0 544.1L773.0 544.6L775.0 545.0L777.0 545.6L779.0 546.3L781.0 547.0L783.0 547.8L785.0 548.6L787.0 549.1L789.0 549.4L791.0 549.5L793.0 549.3L795.0 549.0L797.0 548.6L799.0 548.1L801.0 547.6L803.0 546.9L805.0 546.1L807.0 545.0L809.0 543.7L811.0 542.3L813.0 540.7L815.0 539.3L817.0 538.1L819.0 537.0L821.0 536.2L823.0 535.5L825.0 534.8L827.0 534.0L829.0 533.0L831.0 531.8L833.0 530.4L835.0 529.0L837.0 527.7L839.0 526.3L841.0 524.3L843.0 521.6L845.0 517.9L847.0 513.0L849.0 506.7L851.0 499.2L853.0 490.8L855.0 481.9L857.0 472.9L859.0 463.9L861.0 454.5L863.0 444.7L865.1 435.4L867.1 427.1L869.1 419.9L871.1 414.0L873.1 409.2L875.1 405.2L877.1 401.8L879.1 398.9L881.1 396.3L883.1 393.9L885.1 391.7L887.1 389.9L889.1 388.3L891.1 387.1L893.1 386.1L895.1 385.7L897.1 386.2L899.1 387.3L901.1 388.8L903.1 390.5L905.1 392.3L907.1 394.0L909.1 395.6L911.1 397.0L913.1 398.3L915.1 399.6L917.1 401.1L919.1 402.7L921.1 404.5L923.1 406.4L925.1 408.1L927.1 409.7L929.1 411.2L931.1 412.5L933.1 413.8L935.1 415.2L937.1 416.6L939.1 418.1L941.1 419.6L943.1 421.0L945.1 422.3L947.1 423.7L949.1 425.2L951.1 427.1L953.1 429.6L955.1 432.1L957.1 434.6L959.1 436.9L961.1 439.7L963.1 444.0L965.1 449.5L967.2 456.0L969.2 464.5L971.2 472.8L973.2 481.1L975.2 486.3L977.2 489.7L979.2 492.6L981.2 494.9L983.2 496.9L985.2 498.6L987.2 500.1L989.2 501.4L991.2 502.4L993.2 503.4L995.2 504.2L997.2 505.0L999.2 506.0L1001.2 507.0L1003.2 508.3L1005.2 509.7L1007.2 511.3L1009.2 512.9L1011.2 514.7L1013.2 516.5L1015.2 518.3L1017.2 520.2L1019.2 521.9L1021.2 523.7L1023.2 525.5L1025.2 527.7L1027.2 530.3L1029.2 533.9L1031.2 538.5L1033.2 543.6L1035.2 548.5L1037.2 553.8L1039.2 559.2L1041.2 564.3L1043.2 568.5L1045.2 572.5L1047.2 576.1L1049.2 579.1L1051.2 581.4L1053.2 581.9L1055.2 576.2L1057.2 568.1L1059.2 563.4L1061.2 564.0L1063.2 564.8L1065.2 565.3L1067.2 565.7L1069.3 565.9L1071.3 566.0L1073.3 566.3L1075.3 566.6L1077.3 567.0L1079.3 567.3L1081.3 567.6L1083.3 567.8L1085.3 568.1L1087.3 568.6L1089.3 569.3L1091.3 570.1L1093.3 570.9L1095.3 571.6L1097.3 572.1L1099.3 572.5L1101.3 572.7L1103.3 572.9L1105.3 573.1L1107.3 573.5L1109.3 574.0L1111.3 574.7L1113.3 575.5L1115.3 576.3L1117.3 577.0L1119.3 577.6L1121.3 578.0L1123.3 578.4L1125.3 578.8L1127.3 579.2L1129.3 579.5L1131.3 579.7L1133.3 579.5L1135.3 579.0L1137.3 578.0L1139.3 576.6L1141.3 575.0L1143.3 573.3L1145.3 571.6L1147.3 569.9L1149.3 568.3L1151.3 566.8L1153.3 565.4L1155.3 564.1L1157.3 563.0L1159.3 562.1L1161.3 561.3L1163.3 560.6L1165.3 559.8L1167.3 559.0L1169.3 558.1L1171.4 557.1L1173.4 556.1L1175.4 555.1L1177.4 554.3L1179.4 553.6L1181.4 553.1L1183.4 552.8L1185.4 552.6L1187.4 552.3L1189.4 551.9L1191.4 551.4L1193.4 550.6L1195.4 549.5L1197.4 548.4L1199.4 547.2L1201.4 546.0L1203.4 545.0L1205.4 544.3L1207.4 543.7L1209.4 543.4L1211.4 543.2L1213.4 543.1L1215.4 543.0L1217.4 542.9L1219.4 542.6L1221.4 542.3L1222.4 542.2"/>
<path d="M198.4 570.8L200.4 568.8L202.4 566.0L204.4 563.3L206.4 560.6L208.4 558.3L210.4 556.2L212.4 554.4L214.4 552.8L216.4 551.5L218.4 550.3L220.4 549.2L222.4 548.3L224.4 547.4L226.4 546.6L228.4 545.9L230.4 545.2L232.4 544.5L234.4 543.8L236.4 543.2L238.4 542.6L240.4 542.1L242.4 541.6L244.4 541.1L246.4 540.4L248.4 539.6L250.5 538.7L252.5 537.8L254.5 536.8L256.5 536.0L258.5 535.2L260.5 534.5L262.5 533.8L264.5 533.0L266.5 532.3L268.5 531.5L270.5 530.6L272.5 529.5L274.5 528.1L276.5 526.3L278.5 524.3L280.5 522.2L282.5 519.7L284.5 517.0L286.5 514.1L288.5 510.9L290.5 507.6L292.5 504.1L294.5 500.6L296.5 497.5L298.5 494.8L300.5 492.9L302.5 492.0L304.5 492.5L306.5 494.0L308.5 496.1L310.5 498.3L312.5 500.3L314.5 501.8L316.5 503.5L318.5 505.8L320.5 508.8L322.5 512.1L324.5 515.4L326.5 518.2L328.5 520.7L330.5 523.2L332.5 525.8L334.5 528.3L336.5 530.3L338.5 531.3L340.5 531.2L342.5 530.0L344.5 528.2L346.5 526.3L348.5 524.2L350.5 522.0L352.6 519.8L354.6 517.8L356.6 516.1L358.6 514.6L360.6 513.2L362.6 512.0L364.6 511.0L366.6 510.4L368.6 510.1L370.6 510.2L372.6 510.6L374.6 511.3L376.6 512.1L378.6 512.9L380.6 513.7L382.6 514.4L384.6 514.8L386.6 515.1L388.6 515.1L390.6 515.0L392.6 514.8L394.6 514.7L396.6 514.8L398.6 514.9L400.6 515.2L402.6 515.3L404.6 515.3L406.6 515.1L408.6 514.7L410.6 514.0L412.6 513.2L414.6 512.3L416.6 511.4L418.6 510.7L420.6 510.2L422.6 510.1L424.6 510.3L426.6 511.2L428.6 512.6L430.6 514.7L432.6 517.0L434.6 519.1L436.6 520.8L438.6 521.7L440.6 521.6L442.6 520.4L444.6 518.1L446.6 515.0L448.6 511.1L450.6 506.9L452.6 502.9L454.7 499.3L456.7 496.3L458.7 493.6L460.7 491.2L462.7 488.8L464.7 486.7L466.7 484.8L468.7 483.1L470.7 481.8L472.7 480.6L474.7 479.7L476.7 479.0L478.7 478.5L480.7 478.2L482.7 478.0L484.7 477.8L486.7 477.4L488.7 476.9L490.7 476.3L492.7 475.5L494.7 474.6L496.7 473.7L498.7 472.9L500.7 472.2L502.7 471.7L504.7 471.4L506.7 471.4L508.7 471.5L510.7 471.7L512.7 472.0L514.7 472.3L516.7 472.5L518.7 472.8L520.7 473.1L522.7 473.6L524.7 474.2L526.7 475.0L528.7 476.1L530.7 477.3L532.7 478.6L534.7 480.1L536.7 481.5L538.7 482.9L540.7 484.2L542.7 485.4L544.7 486.5L546.7 487.7L548.7 489.1L550.7 490.7L552.7 492.5L554.7 494.6L556.7 496.8L558.8 499.0L560.8 500.8L562.8 502.2L564.8 503.2L566.8 503.8L568.8 504.0L570.8 503.9L572.8 503.6L574.8 503.1L576.8 502.5L578.8 501.8L580.8 501.0L582.8 500.1L584.8 499.2L586.8 498.3L588.8 497.6L590.8 496.9L592.8 496.4L594.8 496.4L596.8 497.2L598.8 499.4L600.8 502.8L602.8 506.7L604.8 510.7L606.8 514.3L608.8 517.5L610.8 520.2L612.8 522.3L614.8 523.8L616.8 524.6L618.8 525.0L620.8 525.2L622.8 525.3L624.8 525.4L626.8 525.5L628.8 525.5L630.8 525.6L632.8 525.6L634.8 525.6L636.8 525.6L638.8 525.5L640.8 525.2L642.8 524.6L644.8 524.1L646.8 523.5L648.8 523.1L650.8 522.8L652.8 522.7L654.8 522.8L656.8 523.0L658.8 523.3L660.9 523.7L662.9 524.2L664.9 524.7L666.9 525.2L668.9 525.8L670.9 526.3L672.9 526.8L674.9 527.3L676.9 527.8L678.9 528.3L680.9 528.9L682.9 529.4L684.9 529.8L686.9 530.1L688.9 530.3L690.9 530.4L692.9 530.4L694.9 530.4L696.9 530.2L698.9 530.1L700.9 530.0L702.9 530.0L704.9 530.3L706.9 530.9L708.9 531.9L710.9 533.3L712.9 534.9L714.9 536.6L716.9 538.3L718.9 540.1L720.9 541.9L722.9 543.9L724.9 545.9L726.9 547.8L728.9 549.8L730.9 551.7L732.9 553.8L734.9 556.0L736.9 558.3L738.9 560.7L740.9 563.0L742.9 565.1L744.9 566.9L746.9 568.3L748.9 569.2L750.9 569.7L752.9 569.8L754.9 569.8L756.9 569.5L758.9 569.1L760.9 568.5L763.0 567.6L765.0 566.5L767.0 565.0L769.0 563.3L771.0 561.3L773.0 559.1L775.0 556.7L777.0 554.3L779.0 551.8L781.0 549.4L783.0 547.2L785.0 545.0L787.0 543.0L789.0 541.0L791.0 539.1L793.0 537.2L795.0 535.4L797.0 533.7L799.0 532.2L801.0 530.9L803.0 529.9L805.0 529.2L807.0 528.8L809.0 528.6L811.0 528.5L813.0 528.4L815.0 528.4L817.0 528.4L819.0 528.3L821.0 528.3L823.0 528.4L825.0 528.7L827.0 529.2L829.0 529.8L831.0 530.4L833.0 531.0L835.0 531.5L837.0 532.0L839.0 532.1L841.0 532.8L843.0 540.1L845.0 551.4L847.0 560.0L849.0 560.8L851.0 560.3L853.0 559.4L855.0 556.8L857.0 552.8L859.0 547.9L861.0 542.6L863.0 536.9L865.1 529.9L867.1 521.7L869.1 512.9L871.1 504.1L873.1 495.3L875.1 485.8L877.1 475.9L879.1 466.5L881.1 458.2L883.1 451.6L885.1 445.7L887.1 440.3L889.1 435.6L891.1 431.6L893.1 428.3L895.1 425.2L897.1 422.4L899.1 415.6L901.1 405.3L903.1 397.1L905.1 394.7L907.1 395.2L909.1 395.7L911.1 396.2L913.1 396.7L915.1 397.3L917.1 398.1L919.1 399.0L921.1 400.0L923.1 401.2L925.1 402.6L927.1 404.1L929.1 405.6L931.1 407.3L933.1 408.8L935.1 410.3L937.1 411.7L939.1 413.0L941.1 414.2L943.1 415.5L945.1 417.1L947.1 419.1L949.1 421.4L951.1 424.1L953.1 426.9L955.1 429.7L957.1 432.4L959.1 435.1L961.1 437.8L963.1 440.5L965.1 443.2L967.2 445.8L969.2 448.3L971.2 450.6L973.2 452.7L975.2 454.9L977.2 456.8L979.2 458.4L981.2 459.8L983.2 460.9L985.2 462.1L987.2 463.4L989.2 464.7L991.2 465.9L993.2 466.9L995.2 467.6L997.2 468.0L999.2 468.3L1001.2 468.5L1003.2 468.7L1005.2 469.2L1007.2 470.1L1009.2 471.6L1011.2 473.8L1013.2 476.5L1015.2 479.6L1017.2 483.1L1019.2 487.1L1021.2 491.7L1023.2 496.8L1025.2 502.5L1027.2 508.6L1029.2 514.9L1031.2 520.9L1033.2 526.4L1035.2 531.4L1037.2 536.0L1039.2 540.3L1041.2 544.4L1043.2 548.0L1045.2 551.1L1047.2 553.6L1049.2 555.7L1051.2 557.6L1053.2 559.5L1055.2 561.5L1057.2 563.5L1059.2 565.4L1061.2 567.1L1063.2 568.4L1065.2 569.2L1067.2 569.6L1069.3 569.6L1071.3 569.4L1073.3 569.2L1075.3 569.1L1077.3 569.1L1079.3 569.4L1081.3 569.9L1083.3 570.6L1085.3 571.6L1087.3 572.9L1089.3 574.3L1091.3 575.7L1093.3 577.0L1095.3 578.3L1097.3 579.5L1099.3 580.5L1101.3 581.5L1103.3 582.3L1105.3 582.8L1107.3 583.0L1109.3 583.0L1111.3 582.8L1113.3 582.6L1115.3 582.4L1117.3 582.2L1119.3 582.0L1121.3 581.9L1123.3 581.7L1125.3 581.5L1127.3 581.2L1129.3 580.9L1131.3 580.5L1133.3 580.1L1135.3 579.5L1137.3 578.9L1139.3 578.1L1141.3 577.1L1143.3 576.1L1145.3 574.9L1147.3 573.6L1149.3 572.3L1151.3 570.9L1153.3 569.6L1155.3 568.4L1157.3 567.4L1159.3 566.6L1161.3 566.1L1163.3 565.9L1165.3 566.0L1167.3 566.3L1169.3 566.9L1171.4 567.6L1173.4 568.5L1175.4 569.6L1177.4 570.7L1179.4 571.8L1181.4 572.8L1183.4 573.6L1185.4 574.3L1187.4 575.0L1189.4 575.5L1191.4 576.1L1193.4 576.7L1195.4 577.4L1197.4 578.1L1199.4 578.8L1201.4 579.4L1203.4 579.8L1205.4 579.9L1207.4 579.6L1209.4 579.1L1211.4 578.5L1213.4 577.7L1215.4 576.9L1217.4 576.1L1219.4 575.4L1221.4 574.9L1222.4 574.8"/>
<path d="M198.4 584.1L200.4 583.9L202.4 583.6L204.4 583.3L206.4 582.9L208.4 582.3L210.4 581.6L212.4 580.8L214.4 580.0L216.4 579.2L218.4 578.4L220.4 577.5L222.4 576.7L224.4 575.8L226.4 575.0L228.4 574.3L230.4 573.8L232.4 573.3L234.4 573.0L236.4 572.6L238.4 572.2L240.4 571.8L242.4 571.4L244.4 570.9L246.4 570.5L248.4 570.1L250.5 569.8L252.5 569.6L254.5 569.5L256.5 569.4L258.5 569.4L260.5 569.4L262.5 569.3L264.5 569.3L266.5 569.3L268.5 569.2L270.5 569.0L272.5 568.7L274.5 568.2L276.5 567.6L278.5 566.8L280.5 565.9L282.5 564.7L284.5 563.3L286.5 561.5L288.5 559.3L290.5 556.7L292.5 553.8L294.5 550.6L296.5 547.2L298.5 543.7L300.5 540.0L302.5 536.3L304.5 532.7L306.5 529.5L308.5 526.8L310.5 524.6L312.5 522.5L314.5 520.5L316.5 518.9L318.5 518.0L320.5 518.0L322.5 518.9L324.5 520.3L326.5 521.8L328.5 523.2L330.5 524.8L332.5 526.5L334.5 528.4L336.5 530.1L338.5 531.5L340.5 532.3L342.5 532.2L344.5 531.5L346.5 530.7L348.5 529.9L350.5 529.1L352.6 528.1L354.6 527.1L356.6 526.3L358.6 525.6L360.6 525.2L362.6 525.1L364.6 525.0L366.6 525.1L368.6 525.1L370.6 525.0L372.6 524.7L374.6 524.3L376.6 523.7L378.6 523.2L380.6 522.6L382.6 522.1L384.6 521.7L386.6 521.5L388.6 521.5L390.6 521.9L392.6 522.6L394.6 523.6L396.6 524.7L398.6 525.8L400.6 526.6L402.6 527.1L404.6 527.3L406.6 527.2L408.6 527.0L410.6 526.8L412.6 526.7L414.6 526.8L416.6 527.0L418.6 527.2L420.6 527.7L422.6 528.4L424.6 529.6L426.6 531.2L428.6 533.4L430.6 536.3L432.6 540.2L434.6 544.7L436.6 549.3L438.6 553.4L440.6 556.5L442.6 558.0L444.6 557.6L446.6 555.2L448.6 551.3L450.6 546.0L452.6 539.8L454.7 533.5L456.7 527.9L458.7 523.0L460.7 518.7L462.7 515.0L464.7 511.5L466.7 508.3L468.7 505.5L470.7 503.0L472.7 500.9L474.7 499.3L476.7 498.0L478.7 497.1L480.7 496.5L482.7 496.2L484.7 496.0L486.7 496.0L488.7 496.0L490.7 495.9L492.7 495.8L494.7 495.6L496.7 495.3L498.7 494.8L500.7 494.2L502.7 493.6L504.7 493.0L506.7 492.4L508.7 491.9L510.7 491.4L512.7 490.9L514.7 490.4L516.7 489.8L518.7 489.2L520.7 488.5L522.7 487.8L524.7 487.2L526.7 486.6L528.7 485.9L530.7 485.3L532.7 484.5L534.7 483.5L536.7 482.4L538.7 481.2L540.7 479.9L542.7 478.7L544.7 477.7L546.7 477.0L548.7 476.9L550.7 477.2L552.7 477.8L554.7 478.6L556.7 479.4L558.8 479.9L560.8 480.2L562.8 480.0L564.8 479.5L566.8 478.6L568.8 477.4L570.8 476.1L572.8 474.9L574.8 473.8L576.8 472.8L578.8 472.2L580.8 471.8L582.8 471.8L584.8 472.2L586.8 473.1L588.8 474.5L590.8 476.7L592.8 479.4L594.8 482.8L596.8 486.8L598.8 491.8L600.8 498.0L602.8 505.4L604.8 513.1L606.8 520.7L608.8 527.7L610.8 534.2L612.8 540.3L614.8 545.8L616.8 550.5L618.8 554.2L620.8 557.1L622.8 559.3L624.8 560.6L626.8 561.1L628.8 560.7L630.8 559.8L632.8 558.5L634.8 556.9L636.8 555.1L638.8 552.8L640.8 549.9L642.8 546.5L644.8 542.9L646.8 539.5L648.8 536.4L650.8 533.7L652.8 531.6L654.8 530.2L656.8 529.4L658.8 529.1L660.9 529.1L662.9 529.3L664.9 529.5L666.9 529.7L668.9 529.8L670.9 529.9L672.9 530.0L674.9 530.2L676.9 530.3L678.9 530.3L680.9 530.2L682.9 529.9L684.9 529.5L686.9 528.9L688.9 528.5L690.9 528.1L692.9 527.8L694.9 527.8L696.9 527.9L698.9 528.1L700.9 528.3L702.9 528.6L704.9 528.8L706.9 529.0L708.9 529.1L710.9 529.2L712.9 529.4L714.9 529.5L716.9 529.6L718.9 529.6L720.9 529.5L722.9 529.4L724.9 529.3L726.9 529.3L728.9 529.4L730.9 529.6L732.9 529.9L734.9 530.2L736.9 530.4L738.9 530.5L740.9 530.5L742.9 530.3L744.9 530.1L746.9 529.9L748.9 529.8L750.9 529.7L752.9 529.7L754.9 529.8L756.9 529.8L758.9 529.8L760.9 529.9L763.0 529.9L765.0 529.8L767.0 529.8L769.0 529.9L771.0 530.1L773.0 530.5L775.0 531.0L777.0 531.7L779.0 532.5L781.0 533.4L783.0 534.5L785.0 535.9L787.0 537.3L789.0 538.9L791.0 540.5L793.0 541.9L795.0 543.2L797.0 544.3L799.0 545.3L801.0 546.2L803.0 547.0L805.0 547.3L807.0 547.0L809.0 545.8L811.0 543.5L813.0 540.0L815.0 535.3L817.0 529.5L819.0 522.9L821.0 516.0L823.0 509.4L825.0 503.6L827.0 499.1L829.0 496.5L831.0 497.2L833.0 500.9L835.0 506.1L837.0 511.3L839.0 515.3L841.0 517.4L843.0 517.6L845.0 516.3L847.0 513.4L849.0 509.0L851.0 502.9L853.0 495.4L855.0 486.7L857.0 477.1L859.0 466.9L861.0 455.6L863.0 443.8L865.1 432.2L867.1 421.3L869.1 411.5L871.1 402.7L873.1 395.1L875.1 388.5L877.1 382.7L879.1 377.5L881.1 372.7L883.1 368.2L885.1 364.0L887.1 360.0L889.1 356.4L891.1 353.2L893.1 350.3L895.1 348.0L897.1 346.6L899.1 345.7L901.1 345.1L903.1 344.6L905.1 344.3L907.1 344.2L909.1 344.2L911.1 344.3L913.1 344.4L915.1 344.5L917.1 344.4L919.1 344.3L921.1 344.2L923.1 344.2L925.1 344.3L927.1 344.5L929.1 344.9L931.1 345.4L933.1 346.1L935.1 346.7L937.1 347.5L939.1 348.4L941.1 349.1L943.1 349.7L945.1 350.1L947.1 350.3L949.1 350.4L951.1 350.4L953.1 350.5L955.1 350.8L957.1 351.3L959.1 352.2L961.1 353.2L963.1 354.6L965.1 356.6L967.2 359.3L969.2 362.6L971.2 366.2L973.2 370.0L975.2 374.3L977.2 379.4L979.2 385.4L981.2 391.7L983.2 397.5L985.2 402.3L987.2 406.0L989.2 408.8L991.2 411.0L993.2 412.8L995.2 414.3L997.2 415.7L999.2 416.8L1001.2 417.9L1003.2 419.0L1005.2 420.3L1007.2 421.9L1009.2 423.9L1011.2 426.7L1013.2 430.4L1015.2 435.0L1017.2 440.2L1019.2 446.1L1021.2 452.7L1023.2 459.9L1025.2 467.7L1027.2 475.6L1029.2 483.5L1031.2 491.1L1033.2 498.1L1035.2 504.0L1037.2 508.6L1039.2 512.6L1041.2 516.2L1043.2 519.6L1045.2 522.9L1047.2 526.1L1049.2 529.2L1051.2 532.3L1053.2 535.5L1055.2 538.7L1057.2 541.7L1059.2 544.2L1061.2 546.0L1063.2 547.2L1065.2 548.0L1067.2 548.6L1069.3 548.9L1071.3 549.0L1073.3 549.1L1075.3 549.3L1077.3 549.5L1079.3 549.9L1081.3 550.4L1083.3 551.0L1085.3 551.9L1087.3 553.1L1089.3 554.3L1091.3 555.5L1093.3 556.7L1095.3 557.8L1097.3 558.8L1099.3 559.7L1101.3 560.4L1103.3 561.1L1105.3 561.7L1107.3 562.3L1109.3 562.9L1111.3 563.5L1113.3 564.0L1115.3 564.4L1117.3 564.8L1119.3 565.2L1121.3 565.7L1123.3 566.1L1125.3 566.7L1127.3 567.2L1129.3 567.8L1131.3 568.3L1133.3 568.6L1135.3 568.7L1137.3 568.5L1139.3 568.2L1141.3 567.6L1143.3 567.0L1145.3 566.4L1147.3 566.0L1149.3 565.7L1151.3 565.6L1153.3 565.4L1155.3 565.2L1157.3 564.7L1159.3 564.1L1161.3 563.2L1163.3 562.2L1165.3 560.9L1167.3 559.5L1169.3 558.0L1171.4 556.4L1173.4 554.9L1175.4 553.5L1177.4 552.3L1179.4 551.3L1181.4 550.6L1183.4 550.1L1185.4 549.7L1187.4 549.5L1189.4 549.4L1191.4 549.5L1193.4 549.8L1195.4 550.5L1197.4 551.6L1199.4 553.0L1201.4 554.5L1203.4 556.2L1205.4 558.0L1207.4 559.7L1209.4 561.5L1211.4 563.2L1213.4 564.8L1215.4 566.3L1217.4 567.7L1219.4 568.8L1221.4 569.7L1222.4 570.0"/>
<path d="M198.4 582.2L200.4 582.7L202.4 583.1L204.4 583.5L206.4 583.7L208.4 583.8L210.4 583.8L212.4 583.7L214.4 583.7L216.4 583.8L218.4 584.0L220.4 584.1L222.4 584.3L224.4 584.3L226.4 584.3L228.4 584.2L230.4 584.1L232.4 584.2L234.4 584.4L236.4 584.6L238.4 584.8L240.4 584.9L242.4 584.7L244.4 584.4L246.4 584.0L248.4 583.5L250.5 582.8L252.5 581.9L254.5 580.7L256.5 579.2L258.5 577.3L260.5 575.1L262.5 572.8L264.5 570.5L266.5 568.5L268.5 566.7L270.5 565.3L272.5 564.2L274.5 563.4L276.5 562.8L278.5 562.1L280.5 561.3L282.5 560.2L284.5 558.8L286.5 557.3L288.5 555.6L290.5 553.8L292.5 551.9L294.5 549.9L296.5 547.7L298.5 545.4L300.5 543.0L302.5 540.7L304.5 538.6L306.5 536.6L308.5 534.7L310.5 532.9L312.5 531.4L314.5 530.2L316.5 529.5L318.5 529.4L320.5 529.7L322.5 530.4L324.5 531.3L326.5 532.2L328.5 533.0L330.5 534.0L332.5 534.8L334.5 535.2L336.5 534.8L338.5 533.3L340.5 530.7L342.5 527.5L344.5 524.0L346.5 520.7L348.5 517.7L350.5 515.0L352.6 512.7L354.6 511.1L356.6 510.1L358.6 509.7L360.6 509.8L362.6 510.2L364.6 510.8L366.6 511.7L368.6 512.6L370.6 513.6L372.6 514.4L374.6 515.2L376.6 515.7L378.6 516.1L380.6 516.3L382.6 516.3L384.6 516.1L386.6 515.6L388.6 514.9L390.6 514.0L392.6 513.0L394.6 512.0L396.6 511.2L398.6 510.5L400.6 510.1L402.6 510.0L404.6 510.1L406.6 510.5L408.6 511.0L410.6 511.6L412.6 512.2L414.6 512.9L416.6 513.7L418.6 514.8L420.6 516.1L422.6 517.8L424.6 520.0L426.6 522.9L428.6 526.6L430.6 531.0L432.6 535.5L434.6 539.7L436.6 543.1L438.6 545.2L440.6 545.6L442.6 544.1L444.6 541.0L446.6 536.5L448.6 530.9L450.6 524.9L452.6 519.2L454.7 514.1L456.7 509.6L458.7 505.7L460.7 502.5L462.7 499.8L464.7 497.5L466.7 495.7L468.7 494.3L470.7 493.1L472.7 492.2L474.7 491.5L476.7 491.0L478.7 490.7L480.7 490.5L482.7 490.3L484.7 490.0L486.7 489.8L488.7 489.6L490.7 489.5L492.7 489.6L494.7 489.8L496.7 490.1L498.7 490.6L500.7 491.3L502.7 492.0L504.7 492.6L506.7 493.2L508.7 493.7L510.7 494.1L512.7 494.4L514.7 494.8L516.7 495.3L518.7 495.9L520.7 496.6L522.7 497.3L524.7 498.1L526.7 498.8L528.7 499.4L530.7 499.9L532.7 500.3L534.7 500.4L536.7 500.4L538.7 500.1L540.7 499.7L542.7 499.3L544.7 498.7L546.7 498.2L548.7 497.6L550.7 496.9L552.7 496.1L554.7 495.1L556.7 494.1L558.8 492.9L560.8 491.7L562.8 490.5L564.8 489.3L566.8 488.3L568.8 487.4L570.8 486.5L572.8 485.8L574.8 485.2L576.8 484.6L578.8 484.1L580.8 483.6L582.8 483.4L584.8 483.6L586.8 484.4L588.8 485.7L590.8 487.6L592.8 490.2L594.8 493.6L596.8 498.1L598.8 503.5L600.8 509.3L602.8 514.7L604.8 519.3L606.8 523.1L608.8 526.2L610.8 528.5L612.8 530.1L614.8 531.1L616.8 531.6L618.8 532.0L620.8 532.4L622.8 532.9L624.8 533.5L626.8 534.1L628.8 534.7L630.8 535.2L632.8 535.5L634.8 535.7L636.8 535.9L638.8 536.0L640.8 535.9L642.8 535.5L644.8 535.0L646.8 534.5L648.8 534.2L650.8 534.0L652.8 534.0L654.8 534.2L656.8 534.4L658.8 534.6L660.9 534.7L662.9 534.5L664.9 534.0L666.9 533.3L668.9 532.3L670.9 531.0L672.9 529.5L674.9 527.9L676.9 526.4L678.9 525.1L680.9 524.1L682.9 523.5L684.9 523.1L686.9 523.0L688.9 523.0L690.9 523.2L692.9 523.4L694.9 523.6L696.9 523.8L698.9 523.9L700.9 523.8L702.9 523.7L704.9 523.6L706.9 523.8L708.9 524.3L710.9 525.1L712.9 526.1L714.9 527.2L716.9 528.3L718.9 529.5L720.9 530.6L722.9 531.7L724.9 532.6L726.9 533.4L728.9 533.9L730.9 534.3L732.9 534.6L734.9 534.9L736.9 535.1L738.9 535.3L740.9 535.4L742.9 535.3L744.9 535.0L746.9 534.5L748.9 533.7L750.9 532.7L752.9 531.7L754.9 530.8L756.9 530.0L758.9 529.5L760.9 529.3L763.0 529.3L765.0 529.4L767.0 529.4L769.0 529.2L771.0 528.7L773.0 527.9L775.0 526.8L777.0 525.6L779.0 524.5L781.0 523.6L783.0 523.0L785.0 522.6L787.0 522.5L789.0 522.5L791.0 523.7L793.0 532.8L795.0 545.6L797.0 554.7L799.0 556.0L801.0 556.0L803.0 556.1L805.0 556.3L807.0 556.6L809.0 556.8L811.0 557.2L813.0 557.7L815.0 558.3L817.0 559.2L819.0 560.2L821.0 562.1L823.0 564.7L825.0 567.6L827.0 570.4L829.0 573.2L831.0 576.6L833.0 579.2L835.0 580.0L837.0 579.3L839.0 577.9L841.0 575.9L843.0 572.9L845.0 567.5L847.0 560.9L849.0 553.4L851.0 544.6L853.0 534.7L855.0 520.1L857.0 487.3L859.0 446.0L861.0 412.3L863.0 395.7L865.1 382.7L867.1 371.3L869.1 361.7L871.1 353.8L873.1 347.4L875.1 342.2L877.1 338.0L879.1 334.5L881.1 331.7L883.1 329.7L885.1 328.4L887.1 327.8L889.1 327.6L891.1 327.8L893.1 328.2L895.1 328.7L897.1 329.3L899.1 330.0L901.1 330.4L903.1 330.7L905.1 330.7L907.1 330.5L909.1 330.2L911.1 329.8L913.1 329.4L915.1 329.1L917.1 328.9L919.1 329.0L921.1 329.2L923.1 329.6L925.1 330.0L927.1 330.3L929.1 330.5L931.1 330.6L933.1 330.4L935.1 330.1L937.1 329.8L939.1 329.5L941.1 329.1L943.1 328.8L945.1 328.7L947.1 328.8L949.1 329.2L951.1 329.9L953.1 330.8L955.1 332.1L957.1 333.7L959.1 335.8L961.1 338.5L963.1 341.8L965.1 345.7L967.2 350.2L969.2 355.1L971.2 360.8L973.2 367.5L975.2 375.1L977.2 383.1L979.2 390.3L981.2 396.2L983.2 400.6L985.2 404.0L987.2 407.0L989.2 409.7L991.2 412.1L993.2 414.2L995.2 416.1L997.2 418.1L999.2 420.2L1001.2 422.5L1003.2 425.0L1005.2 427.8L1007.2 430.9L1009.2 434.8L1011.2 439.3L1013.2 444.3L1015.2 449.6L1017.2 455.4L1019.2 461.5L1021.2 467.9L1023.2 474.3L1025.2 480.8L1027.2 487.1L1029.2 493.0L1031.2 498.5L1033.2 503.7L1035.2 508.6L1037.2 513.0L1039.2 517.3L1041.2 521.8L1043.2 526.2L1045.2 530.7L1047.2 535.1L1049.2 539.4L1051.2 543.7L1053.2 547.8L1055.2 551.4L1057.2 554.5L1059.2 557.2L1061.2 559.7L1063.2 561.8L1065.2 563.8L1067.2 565.5L1069.3 566.9L1071.3 568.2L1073.3 569.4L1075.3 570.5L1077.3 571.7L1079.3 572.8L1081.3 574.0L1083.3 575.1L1085.3 576.2L1087.3 577.4L1089.3 578.4L1091.3 579.3L1093.3 580.0L1095.3 580.6L1097.3 581.1L1099.3 581.4L1101.3 581.6L1103.3 581.9L1105.3 582.2L1107.3 582.5L1109.3 582.9L1111.3 583.3L1113.3 583.7L1115.3 584.0L1117.3 584.1L1119.3 584.0L1121.3 583.8L1123.3 583.4L1125.3 582.8L1127.3 582.1L1129.3 581.2L1131.3 580.2L1133.3 578.9L1135.3 577.4L1137.3 575.9L1139.3 574.6L1141.3 573.5L1143.3 572.8L1145.3 572.5L1147.3 572.5L1149.3 572.8L1151.3 573.1L1153.3 573.5L1155.3 573.8L1157.3 574.2L1159.3 574.6L1161.3 575.2L1163.3 575.9L1165.3 576.6L1167.3 577.2L1169.3 577.7L1171.4 578.0L1173.4 578.1L1175.4 577.9L1177.4 577.7L1179.4 577.3L1181.4 576.8L1183.4 576.3L1185.4 575.7L1187.4 575.0L1189.4 574.3L1191.4 573.5L1193.4 572.7L1195.4 571.7L1197.4 570.5L1199.4 569.2L1201.4 567.7L1203.4 566.0L1205.4 564.0L1207.4 561.9L1209.4 559.7L1211.4 557.4L1213.4 555.2L1215.4 553.1L1217.4 551.2L1219.4 549.7L1221.4 548.5L1222.4 548.2"/>
<path d="M198.4 580.9L200.4 581.2L202.4 581.5L204.4 581.7L206.4 581.8L208.4 581.8L210.4 581.7L212.4 581.4L214.4 581.0L216.4 580.6L218.4 580.0L220.4 579.5L222.4 579.0L224.4 578.6L226.4 578.3L228.4 578.0L230.4 577.9L232.4 577.7L234.4 577.6L236.4 577.4L238.4 577.1L240.4 576.8L242.4 576.2L244.4 575.6L246.4 574.9L248.4 574.1L250.5 573.4L252.5 572.7L254.5 572.0L256.5 571.4L258.5 570.7L260.5 570.0L262.5 569.2L264.5 568.4L266.5 567.6L268.5 567.0L270.5 566.6L272.5 566.3L274.5 566.1L276.5 565.8L278.5 565.2L280.5 564.3L282.5 563.1L284.5 561.4L286.5 559.4L288.5 557.0L290.5 554.3L292.5 551.3L294.5 548.3L296.5 545.2L298.5 542.2L300.5 539.4L302.5 537.0L304.5 535.2L306.5 533.7L308.5 532.6L310.5 531.7L312.5 530.9L314.5 530.3L316.5 530.2L318.5 530.5L320.5 531.4L322.5 532.5L324.5 533.8L326.5 535.0L328.5 536.3L330.5 537.8L332.5 539.5L334.5 541.4L336.5 543.3L338.5 544.7L340.5 545.5L342.5 545.7L344.5 545.4L346.5 544.8L348.5 544.0L350.5 543.0L352.6 541.7L354.6 540.5L356.6 539.3L358.6 538.3L360.6 537.5L362.6 536.7L364.6 536.0L366.6 535.3L368.6 534.6L370.6 533.6L372.6 532.6L374.6 531.6L376.6 530.6L378.6 529.9L380.6 529.5L382.6 529.3L384.6 529.4L386.6 529.6L388.6 529.8L390.6 530.0L392.6 530.2L394.6 530.3L396.6 530.3L398.6 530.2L400.6 530.0L402.6 529.7L404.6 529.3L406.6 528.9L408.6 528.5L410.6 528.1L412.6 527.6L414.6 527.2L416.6 526.7L418.6 526.5L420.6 526.7L422.6 527.2L424.6 528.4L426.6 530.3L428.6 533.1L430.6 537.0L432.6 541.6L434.6 546.1L436.6 550.1L438.6 553.0L440.6 554.3L442.6 553.7L444.6 551.4L446.6 547.6L448.6 542.7L450.6 537.1L452.6 531.7L454.7 527.0L456.7 523.2L458.7 520.0L460.7 517.5L462.7 515.5L464.7 513.8L466.7 512.4L468.7 511.3L470.7 510.4L472.7 509.5L474.7 508.5L476.7 507.5L478.7 506.4L480.7 505.3L482.7 504.0L484.7 502.6L486.7 501.2L488.7 499.8L490.7 498.5L492.7 497.3L494.7 496.4L496.7 495.6L498.7 494.8L500.7 494.1L502.7 493.4L504.7 492.7L506.7 491.9L508.7 491.1L510.7 490.4L512.7 489.7L514.7 489.0L516.7 488.3L518.7 487.8L520.7 487.5L522.7 487.5L524.7 487.7L526.7 488.2L528.7 489.0L530.7 489.9L532.7 490.9L534.7 491.8L536.7 492.6L538.7 493.4L540.7 494.2L542.7 495.0L544.7 496.1L546.7 497.4L548.7 498.9L550.7 500.3L552.7 501.8L554.7 503.2L556.7 504.7L558.8 506.1L560.8 507.6L562.8 509.0L564.8 510.3L566.8 511.4L568.8 512.2L570.8 513.0L572.8 513.6L574.8 514.2L576.8 514.8L578.8 515.5L580.8 516.3L582.8 517.2L584.8 518.5L586.8 520.1L588.8 522.1L590.8 524.3L592.8 526.7L594.8 529.2L596.8 532.0L598.8 535.3L600.8 539.0L602.8 543.3L604.8 548.2L606.8 553.6L608.8 559.3L610.8 565.0L612.8 570.3L614.8 574.7L616.8 578.3L618.8 581.1L620.8 583.3L622.8 584.5L624.8 584.7L626.8 584.0L628.8 583.0L630.8 581.8L632.8 580.7L634.8 579.6L636.8 578.5L638.8 577.4L640.8 576.2L642.8 574.9L644.8 573.6L646.8 572.2L648.8 570.7L650.8 569.2L652.8 567.7L654.8 566.4L656.8 565.2L658.8 564.3L660.9 563.6L662.9 563.3L664.9 563.2L666.9 563.3L668.9 563.5L670.9 563.6L672.9 563.5L674.9 563.3L676.9 563.0L678.9 562.8L680.9 562.7L682.9 562.7L684.9 562.9L686.9 563.1L688.9 563.4L690.9 563.7L692.9 563.9L694.9 564.0L696.9 563.9L698.9 563.7L700.9 563.5L702.9 563.1L704.9 562.8L706.9 562.5L708.9 562.7L710.9 563.3L712.9 564.0L714.9 564.2L716.9 564.1L718.9 564.0L720.9 564.0L722.9 564.3L724.9 564.8L726.9 565.4L728.9 566.1L730.9 566.8L732.9 567.5L734.9 568.2L736.9 568.8L738.9 569.4L740.9 570.0L742.9 570.4L744.9 570.7L746.9 570.8L748.9 570.8L750.9 570.5L752.9 570.3L754.9 570.3L756.9 570.5L758.9 570.9L760.9 571.3L763.0 571.8L765.0 572.3L767.0 572.7L769.0 573.2L771.0 573.5L773.0 573.8L775.0 573.9L777.0 573.8L779.0 573.6L781.0 573.3L783.0 573.0L785.0 572.7L787.0 572.5L789.0 572.4L791.0 572.4L793.0 572.3L795.0 572.1L797.0 571.8L799.0 571.3L801.0 570.7L803.0 569.9L805.0 569.0L807.0 567.9L809.0 566.9L811.0 565.8L813.0 564.9L815.0 564.1L817.0 563.4L819.0 562.9L821.0 562.4L823.0 561.9L825.0 561.4L827.0 560.9L829.0 560.3L831.0 559.7L833.0 559.2L835.0 558.6L837.0 558.0L839.0 557.3L841.0 556.2L843.0 554.5L845.0 551.8L847.0 547.7L849.0 542.2L851.0 535.7L853.0 528.3L855.0 520.4L857.0 512.3L859.0 504.2L861.0 496.3L863.0 488.6L865.1 481.1L867.1 473.8L869.1 466.8L871.1 460.3L873.1 454.4L875.1 449.1L877.1 444.4L879.1 440.3L881.1 436.6L883.1 433.4L885.1 430.7L887.1 428.3L889.1 426.3L891.1 424.5L893.1 422.9L895.1 421.5L897.1 420.5L899.1 420.0L901.1 419.9L903.1 420.0L905.1 420.2L907.1 420.4L909.1 420.6L911.1 420.6L913.1 420.7L915.1 420.7L917.1 420.9L919.1 421.1L921.1 421.2L923.1 421.4L925.1 421.5L927.1 421.5L929.1 421.6L931.1 421.7L933.1 421.8L935.1 422.1L937.1 422.5L939.1 423.1L941.1 423.7L943.1 424.5L945.1 425.3L947.1 426.3L949.1 427.7L951.1 429.3L953.1 431.3L955.1 433.7L957.1 436.3L959.1 439.3L961.1 442.5L963.1 445.9L965.1 449.1L967.2 451.8L969.2 453.9L971.2 455.5L973.2 456.8L975.2 457.7L977.2 458.4L979.2 459.0L981.2 459.6L983.2 460.3L985.2 461.3L987.2 462.6L989.2 464.1L991.2 465.4L993.2 466.5L995.2 467.5L997.2 468.1L999.2 468.7L1001.2 469.1L1003.2 469.6L1005.2 470.2L1007.2 471.3L1009.2 473.2L1011.2 476.4L1013.2 480.6L1015.2 485.9L1017.2 492.1L1019.2 499.1L1021.2 506.6L1023.2 514.4L1025.2 522.1L1027.2 529.9L1029.2 537.3L1031.2 543.9L1033.2 549.7L1035.2 554.8L1037.2 559.5L1039.2 563.8L1041.2 567.8L1043.2 571.4L1045.2 574.7L1047.2 577.6L1049.2 580.0L1051.2 582.1L1053.2 583.8L1055.2 585.3L1057.2 586.5L1059.2 587.6L1061.2 588.5L1063.2 589.2L1065.2 589.8L1067.2 590.2L1069.3 590.5L1071.3 590.6L1073.3 590.6L1075.3 590.4L1077.3 590.2L1079.3 590.0L1081.3 589.8L1083.3 589.6L1085.3 589.4L1087.3 589.2L1089.3 588.8L1091.3 588.4L1093.3 587.8L1095.3 587.2L1097.3 586.7L1099.3 586.4L1101.3 586.2L1103.3 586.3L1105.3 586.5L1107.3 586.7L1109.3 587.1L1111.3 587.4L1113.3 587.8L1115.3 588.1L1117.3 588.4L1119.3 588.7L1121.3 588.8L1123.3 589.0L1125.3 589.0L1127.3 589.0L1129.3 589.0L1131.3 588.9L1133.3 588.9L1135.3 588.8L1137.3 588.7L1139.3 588.7L1141.3 588.6L1143.3 588.5L1145.3 588.4L1147.3 588.3L1149.3 588.2L1151.3 588.2L1153.3 588.4L1155.3 588.8L1157.3 589.3L1159.3 589.8L1161.3 590.3L1163.3 590.6L1165.3 590.7L1167.3 590.6L1169.3 590.4L1171.4 590.1L1173.4 589.9L1175.4 589.8L1177.4 589.8L1179.4 589.8L1181.4 589.9L1183.4 590.0L1185.4 590.0L1187.4 590.0L1189.4 589.8L1191.4 589.4L1193.4 588.9L1195.4 588.1L1197.4 587.3L1199.4 586.4L1201.4 585.5L1203.4 584.8L1205.4 584.4L1207.4 584.3L1209.4 584.5L1211.4 584.9L1213.4 585.5L1215.4 586.1L1217.4 586.6L1219.4 587.1L1221.4 587.4L1222.4 587.4"/>
<path d="M198.4 536.8L200.4 537.0L202.4 537.2L204.4 537.2L206.4 537.1L208.4 536.8L210.4 536.5L212.4 536.2L214.4 536.0L216.4 535.8L218.4 535.5L220.4 535.2L222.4 534.7L224.4 534.2L226.4 533.6L228.4 533.1L230.4 532.8L232.4 532.8L234.4 533.0L236.4 533.3L238.4 533.6L240.4 533.8L242.4 533.8L244.4 533.7L246.4 533.6L248.4 533.6L250.5 533.7L252.5 534.1L254.5 534.5L256.5 535.0L258.5 535.2L260.5 535.1L262.5 534.7L264.5 533.8L266.5 532.5L268.5 530.8L270.5 529.1L272.5 527.3L274.5 525.5L276.5 523.9L278.5 522.2L280.5 520.3L282.5 518.0L284.5 515.3L286.5 512.5L288.5 509.3L290.5 505.8L292.5 501.6L294.5 496.8L296.5 491.2L298.5 485.1L300.5 478.9L302.5 472.4L304.5 466.0L306.5 460.0L308.5 454.9L310.5 451.2L312.5 449.3L314.5 448.6L316.5 448.5L318.5 448.5L320.5 448.8L322.5 449.6L324.5 451.3L326.5 454.6L328.5 459.1L330.5 464.5L332.5 470.2L334.5 476.0L336.5 481.7L338.5 487.6L340.5 493.2L342.5 498.1L344.5 501.8L346.5 504.2L348.5 505.3L350.5 505.5L352.6 505.2L354.6 504.6L356.6 504.0L358.6 503.5L360.6 503.5L362.6 504.1L364.6 505.1L366.6 506.2L368.6 507.3L370.6 508.2L372.6 509.0L374.6 509.6L376.6 510.0L378.6 509.9L380.6 509.5L382.6 508.6L384.6 507.4L386.6 506.0L388.6 504.5L390.6 502.8L392.6 501.2L394.6 499.6L396.6 498.2L398.6 496.9L400.6 495.8L402.6 494.9L404.6 494.1L406.6 493.4L408.6 492.7L410.6 491.9L412.6 491.1L414.6 490.4L416.6 489.7L418.6 489.1L420.6 488.7L422.6 488.6L424.6 488.7L426.6 489.0L428.6 489.5L430.6 490.3L432.6 491.2L434.6 492.3L436.6 493.7L438.6 495.2L440.6 496.9L442.6 498.4L444.6 499.6L446.6 500.4L448.6 500.5L450.6 499.5L452.6 497.5L454.7 494.5L456.7 490.8L458.7 486.8L460.7 483.2L462.7 480.1L464.7 477.5L466.7 475.4L468.7 473.7L470.7 472.4L472.7 471.6L474.7 471.1L476.7 470.8L478.7 470.5L480.7 470.3L482.7 470.0L484.7 469.7L486.7 469.5L488.7 469.3L490.7 469.2L492.7 469.0L494.7 468.8L496.7 468.5L498.7 468.1L500.7 467.5L502.7 466.9L504.7 466.1L506.7 465.4L508.7 464.6L510.7 463.9L512.7 463.3L514.7 462.7L516.7 462.3L518.7 462.0L520.7 461.8L522.7 461.7L524.7 461.6L526.7 461.6L528.7 461.4L530.7 461.2L532.7 460.9L534.7 460.5L536.7 460.0L538.7 459.4L540.7 458.7L542.7 458.1L544.7 457.7L546.7 457.3L548.7 457.0L550.7 456.8L552.7 456.5L554.7 456.4L556.7 456.2L558.8 456.0L560.8 455.8L562.8 455.6L564.8 455.4L566.8 455.1L568.8 454.8L570.8 454.5L572.8 454.5L574.8 454.9L576.8 455.5L578.8 456.4L580.8 457.3L582.8 458.3L584.8 459.1L586.8 459.8L588.8 460.5L590.8 461.3L592.8 462.4L594.8 463.8L596.8 465.5L598.8 467.5L600.8 469.8L602.8 472.9L604.8 477.3L606.8 483.1L608.8 489.5L610.8 495.6L612.8 500.8L614.8 505.0L616.8 508.4L618.8 511.1L620.8 513.1L622.8 514.6L624.8 515.6L626.8 516.5L628.8 517.6L630.8 518.7L632.8 519.8L634.8 520.8L636.8 521.8L638.8 522.8L640.8 523.8L642.8 524.8L644.8 525.8L646.8 526.8L648.8 527.7L650.8 528.4L652.8 528.9L654.8 529.2L656.8 529.2L658.8 529.1L660.9 528.7L662.9 528.2L664.9 527.8L666.9 527.5L668.9 527.3L670.9 527.2L672.9 527.2L674.9 527.3L676.9 527.4L678.9 527.5L680.9 527.6L682.9 527.7L684.9 527.7L686.9 527.6L688.9 527.4L690.9 527.1L692.9 526.7L694.9 526.2L696.9 525.8L698.9 525.5L700.9 525.2L702.9 525.1L704.9 525.1L706.9 525.2L708.9 525.2L710.9 525.2L712.9 525.2L714.9 525.1L716.9 525.0L718.9 524.9L720.9 524.8L722.9 524.7L724.9 524.6L726.9 524.6L728.9 524.8L730.9 525.0L732.9 525.5L734.9 526.0L736.9 526.6L738.9 527.2L740.9 527.7L742.9 528.2L744.9 528.8L746.9 529.3L748.9 529.9L750.9 530.5L752.9 531.1L754.9 531.6L756.9 531.9L758.9 532.0L760.9 531.8L763.0 531.3L765.0 530.6L767.0 529.6L769.0 528.5L771.0 527.3L773.0 526.1L775.0 525.0L777.0 523.9L779.0 523.1L781.0 522.4L783.0 522.0L785.0 522.0L787.0 522.1L789.0 522.5L791.0 522.9L793.0 523.3L795.0 523.6L797.0 523.9L799.0 524.2L801.0 524.7L803.0 525.3L805.0 526.1L807.0 527.0L809.0 528.0L811.0 529.1L813.0 530.2L815.0 531.2L817.0 532.3L819.0 533.4L821.0 534.6L823.0 535.8L825.0 537.0L827.0 538.1L829.0 539.1L831.0 540.0L833.0 540.7L835.0 541.4L837.0 542.1L839.0 542.6L841.0 542.7L843.0 542.3L845.0 541.3L847.0 539.4L849.0 536.6L851.0 532.6L853.0 527.2L855.0 520.1L857.0 511.6L859.0 501.7L861.0 489.7L863.0 475.7L865.1 460.8L867.1 445.5L869.1 430.0L871.1 414.7L873.1 400.1L875.1 386.8L877.1 375.0L879.1 364.8L881.1 356.2L883.1 349.0L885.1 343.0L887.1 338.1L889.1 334.2L891.1 331.1L893.1 329.0L895.1 327.8L897.1 327.4L899.1 327.5L901.1 327.8L903.1 328.0L905.1 328.2L907.1 328.1L909.1 327.7L911.1 327.1L913.1 326.3L915.1 325.4L917.1 324.6L919.1 324.0L921.1 323.5L923.1 323.3L925.1 323.5L927.1 323.9L929.1 324.6L931.1 325.6L933.1 326.7L935.1 327.8L937.1 329.0L939.1 330.3L941.1 331.5L943.1 332.7L945.1 333.9L947.1 334.9L949.1 335.8L951.1 336.6L953.1 337.3L955.1 338.0L957.1 338.7L959.1 339.5L961.1 340.2L963.1 340.8L965.1 341.5L967.2 342.5L969.2 344.1L971.2 346.4L973.2 349.5L975.2 353.1L977.2 357.1L979.2 361.9L981.2 367.6L983.2 374.2L985.2 381.4L987.2 388.2L989.2 393.9L991.2 398.4L993.2 401.9L995.2 405.2L997.2 408.5L999.2 412.1L1001.2 415.7L1003.2 419.4L1005.2 423.2L1007.2 426.9L1009.2 430.7L1011.2 434.5L1013.2 438.4L1015.2 442.7L1017.2 447.5L1019.2 452.8L1021.2 458.6L1023.2 464.8L1025.2 471.4L1027.2 478.6L1029.2 486.1L1031.2 494.0L1033.2 502.3L1035.2 510.5L1037.2 518.3L1039.2 525.6L1041.2 532.5L1043.2 539.1L1045.2 545.5L1047.2 551.5L1049.2 557.1L1051.2 562.0L1053.2 566.2L1055.2 569.8L1057.2 572.7L1059.2 575.2L1061.2 577.4L1063.2 579.1L1065.2 580.5L1067.2 581.6L1069.3 582.3L1071.3 582.7L1073.3 582.7L1075.3 582.4L1077.3 582.0L1079.3 581.4L1081.3 580.7L1083.3 579.7L1085.3 578.7L1087.3 577.5L1089.3 576.2L1091.3 574.7L1093.3 573.3L1095.3 572.0L1097.3 570.8L1099.3 569.8L1101.3 569.0L1103.3 568.3L1105.3 567.6L1107.3 566.9L1109.3 566.1L1111.3 565.2L1113.3 564.3L1115.3 563.2L1117.3 562.1L1119.3 561.0L1121.3 559.9L1123.3 558.8L1125.3 557.9L1127.3 557.0L1129.3 556.4L1131.3 555.8L1133.3 555.4L1135.3 555.1L1137.3 554.9L1139.3 554.9L1141.3 554.9L1143.3 555.1L1145.3 555.3L1147.3 555.5L1149.3 555.9L1151.3 556.5L1153.3 557.2L1155.3 558.1L1157.3 559.3L1159.3 560.8L1161.3 562.3L1163.3 564.0L1165.3 565.5L1167.3 566.9L1169.3 568.0L1171.4 568.9L1173.4 569.5L1175.4 569.9L1177.4 570.1L1179.4 570.3L1181.4 570.4L1183.4 570.5L1185.4 570.6L1187.4 570.8L1189.4 571.1L1191.4 571.3L1193.4 571.5L1195.4 571.5L1197.4 571.2L1199.4 570.6L1201.4 569.8L1203.4 568.8L1205.4 567.7L1207.4 566.5L1209.4 565.2L1211.4 564.0L1213.4 562.8L1215.4 561.7L1217.4 560.7L1219.4 559.9L1221.4 559.2L1222.4 558.9"/>
<path d="M198.4 576.6L200.4 576.5L202.4 576.3L204.4 576.1L206.4 575.9L208.4 575.7L210.4 575.6L212.4 575.6L214.4 575.6L216.4 575.9L218.4 576.2L220.4 576.7L222.4 577.1L224.4 577.4L226.4 577.6L228.4 577.6L230.4 577.4L232.4 577.3L234.4 577.2L236.4 577.2L238.4 577.2L240.4 577.4L242.4 577.6L244.4 577.7L246.4 577.7L248.4 577.7L250.5 577.4L252.5 577.1L254.5 576.6L256.5 576.0L258.5 575.4L260.5 574.8L262.5 574.2L264.5 573.7L266.5 573.3L268.5 573.0L270.5 572.7L272.5 572.4L274.5 572.0L276.5 571.5L278.5 570.8L280.5 570.1L282.5 569.1L284.5 568.1L286.5 566.8L288.5 565.2L290.5 563.3L292.5 561.1L294.5 558.7L296.5 556.0L298.5 553.1L300.5 550.0L302.5 546.7L304.5 543.6L306.5 540.9L308.5 538.7L310.5 537.1L312.5 535.7L314.5 534.7L316.5 534.1L318.5 533.9L320.5 534.2L322.5 535.1L324.5 536.4L326.5 538.1L328.5 540.3L330.5 542.8L332.5 545.5L334.5 548.3L336.5 551.0L338.5 553.2L340.5 554.7L342.5 555.2L344.5 554.8L346.5 553.8L348.5 552.4L350.5 551.0L352.6 549.6L354.6 548.2L356.6 547.0L358.6 546.1L360.6 545.3L362.6 544.6L364.6 543.9L366.6 543.2L368.6 542.5L370.6 541.7L372.6 540.7L374.6 539.7L376.6 538.6L378.6 537.4L380.6 536.2L382.6 534.9L384.6 533.7L386.6 532.7L388.6 531.9L390.6 531.4L392.6 531.2L394.6 531.2L396.6 531.3L398.6 531.5L400.6 531.7L402.6 531.9L404.6 532.2L406.6 532.5L408.6 532.9L410.6 533.3L412.6 533.6L414.6 533.9L416.6 534.2L418.6 534.5L420.6 535.2L422.6 536.3L424.6 537.8L426.6 539.8L428.6 542.2L430.6 545.2L432.6 549.1L434.6 553.7L436.6 558.3L438.6 562.6L440.6 566.0L442.6 568.0L444.6 568.2L446.6 566.6L448.6 563.3L450.6 558.5L452.6 552.5L454.7 546.1L456.7 540.0L458.7 534.5L460.7 529.8L462.7 525.8L464.7 522.5L466.7 519.8L468.7 517.8L470.7 516.4L472.7 515.8L474.7 515.5L476.7 515.5L478.7 515.8L480.7 516.2L482.7 516.6L484.7 517.0L486.7 517.4L488.7 517.7L490.7 517.9L492.7 518.0L494.7 517.9L496.7 517.9L498.7 517.8L500.7 517.6L502.7 517.5L504.7 517.3L506.7 517.1L508.7 516.8L510.7 516.3L512.7 515.8L514.7 515.3L516.7 514.8L518.7 514.2L520.7 513.7L522.7 513.2L524.7 512.7L526.7 512.3L528.7 512.1L530.7 512.1L532.7 512.4L534.7 513.0L536.7 513.8L538.7 514.6L540.7 515.4L542.7 516.1L544.7 516.7L546.7 517.3L548.7 518.0L550.7 518.7L552.7 519.4L554.7 520.2L556.7 520.8L558.8 521.3L560.8 521.7L562.8 521.9L564.8 521.9L566.8 521.9L568.8 521.9L570.8 521.9L572.8 522.0L574.8 522.1L576.8 522.4L578.8 522.7L580.8 523.3L582.8 524.1L584.8 525.3L586.8 526.9L588.8 529.1L590.8 531.9L592.8 535.0L594.8 538.3L596.8 541.5L598.8 544.6L600.8 547.4L602.8 550.2L604.8 553.1L606.8 556.3L608.8 560.1L610.8 564.4L612.8 569.2L614.8 574.0L616.8 578.2L618.8 581.7L620.8 584.3L622.8 586.0L624.8 586.9L626.8 586.7L628.8 585.8L630.8 584.4L632.8 583.0L634.8 581.7L636.8 580.4L638.8 579.1L640.8 577.6L642.8 575.9L644.8 574.1L646.8 572.4L648.8 570.8L650.8 569.3L652.8 567.9L654.8 566.6L656.8 565.3L658.8 564.1L660.9 562.9L662.9 561.7L664.9 560.6L666.9 559.6L668.9 558.7L670.9 557.8L672.9 557.0L674.9 556.3L676.9 555.6L678.9 555.0L680.9 554.7L682.9 554.4L684.9 554.4L686.9 554.4L688.9 554.5L690.9 554.6L692.9 554.7L694.9 554.8L696.9 554.9L698.9 555.0L700.9 555.2L702.9 555.5L704.9 555.9L706.9 556.2L708.9 556.7L710.9 557.5L712.9 559.0L714.9 560.8L716.9 562.2L718.9 562.9L720.9 563.1L722.9 563.1L724.9 562.9L726.9 562.7L728.9 562.5L730.9 562.3L732.9 562.1L734.9 561.9L736.9 561.6L738.9 561.2L740.9 560.7L742.9 560.0L744.9 559.3L746.9 558.7L748.9 558.1L750.9 557.8L752.9 557.7L754.9 557.8L756.9 557.9L758.9 558.2L760.9 558.5L763.0 558.8L765.0 559.1L767.0 559.4L769.0 559.8L771.0 560.3L773.0 560.9L775.0 561.5L777.0 562.0L779.0 562.4L781.0 562.6L783.0 562.5L785.0 562.3L787.0 562.1L789.0 561.8L791.0 561.5L793.0 561.2L795.0 561.0L797.0 560.8L799.0 560.5L801.0 560.1L803.0 559.4L805.0 558.7L807.0 557.8L809.0 556.9L811.0 556.0L813.0 555.3L815.0 554.7L817.0 554.3L819.0 554.1L821.0 554.1L823.0 554.3L825.0 554.7L827.0 555.2L829.0 555.8L831.0 556.4L833.0 556.9L835.0 557.2L837.0 557.4L839.0 557.2L841.0 556.5L843.0 555.3L845.0 553.4L847.0 550.6L849.0 546.6L851.0 541.3L853.0 534.7L855.0 527.3L857.0 519.3L859.0 511.0L861.0 502.8L863.0 494.8L865.1 487.4L867.1 480.4L869.1 473.7L871.1 467.4L873.1 461.5L875.1 456.0L877.1 451.1L879.1 446.6L881.1 442.2L883.1 437.5L885.1 432.8L887.1 428.3L889.1 423.9L891.1 419.5L893.1 415.2L895.1 410.9L897.1 406.9L899.1 403.2L901.1 399.9L903.1 396.8L905.1 394.0L907.1 391.5L909.1 389.3L911.1 387.6L913.1 386.2L915.1 385.3L917.1 384.7L919.1 384.4L921.1 384.3L923.1 384.5L925.1 384.8L927.1 385.2L929.1 385.6L931.1 386.1L933.1 386.6L935.1 387.1L937.1 387.6L939.1 387.9L941.1 388.1L943.1 388.1L945.1 388.2L947.1 388.4L949.1 388.8L951.1 389.4L953.1 390.3L955.1 391.4L957.1 392.7L959.1 394.0L961.1 395.3L963.1 396.6L965.1 398.3L967.2 400.3L969.2 402.6L971.2 405.3L973.2 408.3L975.2 411.8L977.2 415.9L979.2 420.5L981.2 425.2L983.2 429.6L985.2 433.4L987.2 436.8L989.2 439.7L991.2 442.4L993.2 444.7L995.2 446.7L997.2 448.3L999.2 449.5L1001.2 450.6L1003.2 451.7L1005.2 452.9L1007.2 454.4L1009.2 456.2L1011.2 458.5L1013.2 461.7L1015.2 465.5L1017.2 470.0L1019.2 474.9L1021.2 480.3L1023.2 486.1L1025.2 492.0L1027.2 497.9L1029.2 503.8L1031.2 509.6L1033.2 515.0L1035.2 519.9L1037.2 524.1L1039.2 528.0L1041.2 532.1L1043.2 536.2L1045.2 540.4L1047.2 544.5L1049.2 548.3L1051.2 551.9L1053.2 555.3L1055.2 558.4L1057.2 561.2L1059.2 563.6L1061.2 565.5L1063.2 567.1L1065.2 568.6L1067.2 570.1L1069.3 571.4L1071.3 572.7L1073.3 573.9L1075.3 575.0L1077.3 576.0L1079.3 576.9L1081.3 577.6L1083.3 578.2L1085.3 578.8L1087.3 579.3L1089.3 579.8L1091.3 580.1L1093.3 580.4L1095.3 580.6L1097.3 580.8L1099.3 581.0L1101.3 581.3L1103.3 581.7L1105.3 582.0L1107.3 582.3L1109.3 582.6L1111.3 582.7L1113.3 582.7L1115.3 582.7L1117.3 582.6L1119.3 582.3L1121.3 582.0L1123.3 581.7L1125.3 581.3L1127.3 580.9L1129.3 580.4L1131.3 579.9L1133.3 579.2L1135.3 578.4L1137.3 577.6L1139.3 576.8L1141.3 576.2L1143.3 575.7L1145.3 575.4L1147.3 575.2L1149.3 575.1L1151.3 574.9L1153.3 574.7L1155.3 574.3L1157.3 573.9L1159.3 573.4L1161.3 572.8L1163.3 572.1L1165.3 571.3L1167.3 570.5L1169.3 569.8L1171.4 569.1L1173.4 568.5L1175.4 568.0L1177.4 567.7L1179.4 567.5L1181.4 567.2L1183.4 567.0L1185.4 566.6L1187.4 566.2L1189.4 565.6L1191.4 565.0L1193.4 564.4L1195.4 563.6L1197.4 562.9L1199.4 562.2L1201.4 561.6L1203.4 561.1L1205.4 560.8L1207.4 560.7L1209.4 560.9L1211.4 561.1L1213.4 561.3L1215.4 561.5L1217.4 561.6L1219.4 561.7L1221.4 561.7L1222.4 561.7"/>
<path d="M198.4 541.9L200.4 540.8L202.4 539.3L204.4 538.0L206.4 536.9L208.4 535.9L210.4 535.2L212.4 534.6L214.4 534.3L216.4 534.2L218.4 534.3L220.4 534.5L222.4 534.7L224.4 535.1L226.4 535.4L228.4 535.9L230.4 536.4L232.4 537.0L234.4 537.8L236.4 538.7L238.4 539.8L240.4 541.1L242.4 542.6L244.4 544.2L246.4 546.0L248.4 547.9L250.5 550.0L252.5 552.1L254.5 554.0L256.5 555.7L258.5 556.9L260.5 557.7L262.5 558.1L264.5 558.0L266.5 557.5L268.5 556.7L270.5 555.4L272.5 553.9L274.5 552.2L276.5 550.2L278.5 547.9L280.5 545.4L282.5 542.5L284.5 539.4L286.5 536.1L288.5 532.4L290.5 528.0L292.5 522.8L294.5 516.8L296.5 510.5L298.5 504.1L300.5 497.8L302.5 492.0L304.5 486.9L306.5 482.7L308.5 479.7L310.5 478.2L312.5 477.4L314.5 476.5L316.5 475.8L318.5 475.4L320.5 475.5L322.5 476.5L324.5 478.3L326.5 480.4L328.5 482.9L330.5 486.2L332.5 490.2L334.5 494.8L336.5 499.8L338.5 505.0L340.5 509.9L342.5 513.8L344.5 516.5L346.5 517.8L348.5 518.1L350.5 517.6L352.6 516.6L354.6 515.3L356.6 513.8L358.6 512.5L360.6 511.4L362.6 510.6L364.6 509.9L366.6 509.1L368.6 508.2L370.6 507.1L372.6 506.0L374.6 504.9L376.6 503.8L378.6 502.8L380.6 501.8L382.6 500.9L384.6 500.0L386.6 499.2L388.6 498.5L390.6 498.0L392.6 497.8L394.6 497.7L396.6 497.9L398.6 498.2L400.6 498.6L402.6 499.0L404.6 499.5L406.6 499.8L408.6 500.0L410.6 500.2L412.6 500.3L414.6 500.4L416.6 500.4L418.6 500.5L420.6 500.7L422.6 501.0L424.6 501.5L426.6 502.3L428.6 503.4L430.6 504.9L432.6 506.6L434.6 508.7L436.6 511.2L438.6 513.8L440.6 516.2L442.6 518.2L444.6 519.6L446.6 520.0L448.6 519.1L450.6 517.0L452.6 513.8L454.7 509.5L456.7 504.5L458.7 499.5L460.7 494.9L462.7 490.8L464.7 487.2L466.7 484.1L468.7 481.3L470.7 478.9L472.7 476.7L474.7 474.8L476.7 472.9L478.7 471.3L480.7 469.7L482.7 468.3L484.7 467.2L486.7 466.3L488.7 465.5L490.7 464.9L492.7 464.4L494.7 463.9L496.7 463.3L498.7 462.8L500.7 462.2L502.7 461.7L504.7 461.2L506.7 460.9L508.7 460.8L510.7 460.8L512.7 461.1L514.7 461.5L516.7 462.3L518.7 463.2L520.7 464.2L522.7 465.2L524.7 466.0L526.7 466.8L528.7 467.4L530.7 467.8L532.7 468.1L534.7 468.3L536.7 468.4L538.7 468.4L540.7 468.2L542.7 468.1L544.7 467.9L546.7 467.8L548.7 467.8L550.7 468.0L552.7 468.4L554.7 469.0L556.7 470.0L558.8 471.1L560.8 472.5L562.8 474.0L564.8 475.7L566.8 477.6L568.8 479.7L570.8 481.9L572.8 484.2L574.8 486.5L576.8 489.0L578.8 491.5L580.8 494.1L582.8 496.8L584.8 499.6L586.8 502.6L588.8 505.9L590.8 509.5L592.8 513.5L594.8 517.9L596.8 522.6L598.8 527.2L600.8 531.6L602.8 535.7L604.8 539.7L606.8 543.6L608.8 547.5L610.8 551.6L612.8 556.2L614.8 561.2L616.8 566.3L618.8 571.1L620.8 575.2L622.8 578.5L624.8 581.1L626.8 582.8L628.8 583.7L630.8 583.5L632.8 582.5L634.8 581.0L636.8 579.3L638.8 577.6L640.8 575.7L642.8 573.7L644.8 571.8L646.8 570.0L648.8 568.4L650.8 566.8L652.8 565.4L654.8 564.1L656.8 562.9L658.8 561.7L660.9 560.7L662.9 559.7L664.9 558.8L666.9 558.1L668.9 557.7L670.9 557.4L672.9 557.3L674.9 557.4L676.9 557.3L678.9 557.2L680.9 556.8L682.9 556.3L684.9 555.6L686.9 554.8L688.9 554.0L690.9 553.0L692.9 551.9L694.9 550.9L696.9 549.8L698.9 548.7L700.9 547.8L702.9 547.1L704.9 546.6L706.9 546.3L708.9 546.3L710.9 546.3L712.9 546.5L714.9 547.0L716.9 547.8L718.9 548.4L720.9 548.4L722.9 547.9L724.9 547.1L726.9 546.2L728.9 545.2L730.9 544.1L732.9 542.9L734.9 541.6L736.9 540.3L738.9 539.0L740.9 537.7L742.9 536.4L744.9 535.2L746.9 534.2L748.9 533.2L750.9 532.3L752.9 531.5L754.9 530.7L756.9 529.8L758.9 528.9L760.9 528.0L763.0 527.1L765.0 526.2L767.0 525.4L769.0 524.6L771.0 523.9L773.0 523.5L775.0 523.2L777.0 523.2L779.0 523.4L781.0 523.9L783.0 524.3L785.0 524.8L787.0 525.2L789.0 525.5L791.0 525.7L793.0 526.1L795.0 526.6L797.0 527.3L799.0 528.3L801.0 529.5L803.0 530.7L805.0 531.8L807.0 532.7L809.0 533.4L811.0 534.1L813.0 534.9L815.0 535.8L817.0 537.0L819.0 538.3L821.0 539.6L823.0 540.9L825.0 542.0L827.0 542.7L829.0 543.1L831.0 543.0L833.0 542.5L835.0 541.8L837.0 541.0L839.0 540.1L841.0 539.1L843.0 537.8L845.0 536.2L847.0 533.9L849.0 530.7L851.0 526.3L853.0 520.3L855.0 512.8L857.0 504.0L859.0 493.9L861.0 482.0L863.0 468.6L865.1 454.6L867.1 440.7L869.1 427.0L871.1 413.9L873.1 402.0L875.1 391.4L877.1 382.4L879.1 374.9L881.1 368.7L883.1 363.5L885.1 359.1L887.1 355.3L889.1 352.1L891.1 349.4L893.1 347.1L895.1 345.6L897.1 344.9L899.1 344.8L901.1 344.7L903.1 344.8L905.1 345.0L907.1 345.4L909.1 346.0L911.1 346.7L913.1 347.7L915.1 348.9L917.1 350.2L919.1 351.7L921.1 353.4L923.1 355.1L925.1 357.0L927.1 358.9L929.1 360.8L931.1 362.7L933.1 364.5L935.1 366.1L937.1 367.4L939.1 368.5L941.1 369.1L943.1 369.4L945.1 369.5L947.1 369.6L949.1 369.6L951.1 369.6L953.1 369.4L955.1 369.0L957.1 368.2L959.1 366.9L961.1 365.1L963.1 362.8L965.1 360.6L967.2 358.6L969.2 357.4L971.2 357.1L973.2 357.8L975.2 359.3L977.2 361.7L979.2 365.3L981.2 370.1L983.2 376.0L985.2 382.0L987.2 387.2L989.2 391.0L991.2 393.4L993.2 394.9L995.2 395.9L997.2 396.7L999.2 397.5L1001.2 398.3L1003.2 399.4L1005.2 400.9L1007.2 403.0L1009.2 405.7L1011.2 409.2L1013.2 413.4L1015.2 418.6L1017.2 424.8L1019.2 431.6L1021.2 438.9L1023.2 446.4L1025.2 454.0L1027.2 461.8L1029.2 469.7L1031.2 477.5L1033.2 485.2L1035.2 492.3L1037.2 498.4L1039.2 503.7L1041.2 508.6L1043.2 513.3L1045.2 517.9L1047.2 522.4L1049.2 526.7L1051.2 530.7L1053.2 534.4L1055.2 537.9L1057.2 541.2L1059.2 544.4L1061.2 547.1L1063.2 549.2L1065.2 550.8L1067.2 552.1L1069.3 553.1L1071.3 554.0L1073.3 554.6L1075.3 555.1L1077.3 555.5L1079.3 555.8L1081.3 556.2L1083.3 556.6L1085.3 557.2L1087.3 557.9L1089.3 558.7L1091.3 559.5L1093.3 560.1L1095.3 560.7L1097.3 561.0L1099.3 561.3L1101.3 561.5L1103.3 561.8L1105.3 562.2L1107.3 562.7L1109.3 563.4L1111.3 564.0L1113.3 564.6L1115.3 564.9L1117.3 564.9L1119.3 564.5L1121.3 563.7L1123.3 562.6L1125.3 561.3L1127.3 560.1L1129.3 559.1L1131.3 558.2L1133.3 557.5L1135.3 557.0L1137.3 556.4L1139.3 555.9L1141.3 555.5L1143.3 555.0L1145.3 554.6L1147.3 554.3L1149.3 554.0L1151.3 553.9L1153.3 553.8L1155.3 553.9L1157.3 554.0L1159.3 554.3L1161.3 554.7L1163.3 555.1L1165.3 555.6L1167.3 556.0L1169.3 556.2L1171.4 556.3L1173.4 556.2L1175.4 555.9L1177.4 555.5L1179.4 555.0L1181.4 554.5L1183.4 553.9L1185.4 553.3L1187.4 552.7L1189.4 552.2L1191.4 551.8L1193.4 551.5L1195.4 551.3L1197.4 551.2L1199.4 551.2L1201.4 551.3L1203.4 551.2L1205.4 551.0L1207.4 550.7L1209.4 550.2L1211.4 549.6L1213.4 549.1L1215.4 548.7L1217.4 548.4L1219.4 548.0L1221.4 547.7L1222.4 547.5"/>
<path d="M198.4 580.1L200.4 581.3L202.4 582.9L204.4 584.2L206.4 585.3L208.4 586.0L210.4 586.3L212.4 586.5L214.4 586.3L216.4 585.9L218.4 585.3L220.4 584.4L222.4 583.3L224.4 582.1L226.4 580.8L228.4 579.3L230.4 577.7L232.4 576.0L234.4 574.1L236.4 572.2L238.4 570.3L240.4 568.5L242.4 566.8L244.4 565.5L246.4 564.5L248.4 563.9L250.5 563.6L252.5 563.6L254.5 563.6L256.5 563.6L258.5 563.4L260.5 563.2L262.5 562.8L264.5 562.4L266.5 561.9L268.5 561.2L270.5 560.5L272.5 559.5L274.5 558.2L276.5 556.7L278.5 555.0L280.5 553.1L282.5 550.9L284.5 548.6L286.5 546.5L288.5 544.6L290.5 542.8L292.5 541.0L294.5 539.1L296.5 537.1L298.5 535.0L300.5 533.0L302.5 531.4L304.5 530.2L306.5 529.5L308.5 529.0L310.5 528.6L312.5 528.5L314.5 528.5L316.5 529.1L318.5 530.3L320.5 532.0L322.5 534.0L324.5 536.0L326.5 537.8L328.5 539.4L330.5 540.9L332.5 542.2L334.5 543.3L336.5 543.6L338.5 543.1L340.5 541.6L342.5 539.4L344.5 537.0L346.5 534.8L348.5 532.8L350.5 530.9L352.6 529.4L354.6 528.2L356.6 527.2L358.6 526.2L360.6 525.2L362.6 524.1L364.6 523.0L366.6 522.1L368.6 521.4L370.6 521.1L372.6 521.0L374.6 521.3L376.6 521.6L378.6 521.9L380.6 522.0L382.6 522.0L384.6 521.8L386.6 521.6L388.6 521.2L390.6 520.8L392.6 520.4L394.6 520.0L396.6 519.6L398.6 519.3L400.6 519.0L402.6 518.8L404.6 518.6L406.6 518.5L408.6 518.2L410.6 517.9L412.6 517.6L414.6 517.3L416.6 517.2L418.6 517.3L420.6 517.8L422.6 518.5L424.6 519.5L426.6 520.7L428.6 522.4L430.6 524.3L432.6 526.2L434.6 527.8L436.6 528.9L438.6 529.0L440.6 528.0L442.6 525.6L444.6 521.9L446.6 517.0L448.6 511.1L450.6 504.9L452.6 498.9L454.7 493.6L456.7 489.0L458.7 485.1L460.7 482.0L462.7 479.4L464.7 477.2L466.7 475.5L468.7 474.1L470.7 472.9L472.7 471.9L474.7 471.1L476.7 470.6L478.7 470.3L480.7 470.1L482.7 470.1L484.7 470.2L486.7 470.3L488.7 470.4L490.7 470.4L492.7 470.5L494.7 470.5L496.7 470.5L498.7 470.6L500.7 470.6L502.7 470.7L504.7 470.9L506.7 471.1L508.7 471.3L510.7 471.7L512.7 472.0L514.7 472.4L516.7 472.7L518.7 472.9L520.7 473.0L522.7 473.0L524.7 473.2L526.7 473.5L528.7 474.1L530.7 474.9L532.7 475.9L534.7 477.1L536.7 478.3L538.7 479.5L540.7 480.7L542.7 481.8L544.7 483.0L546.7 484.2L548.7 485.4L550.7 486.6L552.7 487.7L554.7 488.8L556.7 489.8L558.8 490.6L560.8 491.4L562.8 492.1L564.8 492.6L566.8 492.9L568.8 492.9L570.8 492.6L572.8 492.0L574.8 491.2L576.8 490.4L578.8 489.6L580.8 489.0L582.8 488.7L584.8 488.8L586.8 489.4L588.8 490.5L590.8 492.1L592.8 494.1L594.8 497.0L596.8 501.0L598.8 506.2L600.8 512.0L602.8 517.7L604.8 522.8L606.8 527.2L608.8 530.7L610.8 533.4L612.8 535.3L614.8 536.3L616.8 536.8L618.8 537.0L620.8 537.3L622.8 537.6L624.8 537.9L626.8 538.2L628.8 538.7L630.8 539.2L632.8 539.7L634.8 540.2L636.8 540.7L638.8 541.1L640.8 541.3L642.8 541.1L644.8 540.8L646.8 540.3L648.8 539.7L650.8 539.0L652.8 538.2L654.8 537.3L656.8 536.5L658.8 535.6L660.9 534.7L662.9 533.7L664.9 532.7L666.9 531.8L668.9 530.9L670.9 530.1L672.9 529.3L674.9 528.8L676.9 528.4L678.9 528.3L680.9 528.4L682.9 528.8L684.9 529.5L686.9 530.3L688.9 531.2L690.9 532.0L692.9 532.8L694.9 533.3L696.9 533.8L698.9 534.1L700.9 534.4L702.9 534.7L704.9 535.0L706.9 535.3L708.9 535.6L710.9 535.8L712.9 535.7L714.9 535.3L716.9 534.7L718.9 534.2L720.9 533.9L722.9 533.7L724.9 533.7L726.9 533.7L728.9 533.7L730.9 533.6L732.9 533.4L734.9 533.1L736.9 532.9L738.9 532.8L740.9 532.9L742.9 533.1L744.9 533.6L746.9 534.3L748.9 535.3L750.9 536.7L752.9 538.4L754.9 540.5L756.9 542.7L758.9 545.2L760.9 547.6L763.0 549.9L765.0 552.1L767.0 554.1L769.0 555.8L771.0 557.2L773.0 558.4L775.0 559.3L777.0 559.9L779.0 560.4L781.0 560.8L783.0 561.1L785.0 561.4L787.0 561.6L789.0 561.6L791.0 561.3L793.0 560.7L795.0 559.7L797.0 558.5L799.0 557.1L801.0 555.7L803.0 554.2L805.0 552.7L807.0 551.3L809.0 550.0L811.0 548.8L813.0 547.8L815.0 547.0L817.0 546.3L819.0 545.8L821.0 545.3L823.0 544.6L825.0 543.9L827.0 543.0L829.0 542.1L831.0 541.0L833.0 539.8L835.0 538.7L837.0 537.6L839.0 536.3L841.0 534.5L843.0 531.9L845.0 528.2L847.0 523.1L849.0 516.7L851.0 509.3L853.0 501.0L855.0 492.1L857.0 483.1L859.0 474.1L861.0 464.4L863.0 453.9L865.1 443.3L867.1 433.1L869.1 423.4L871.1 414.2L873.1 405.8L875.1 398.2L877.1 391.4L879.1 385.4L881.1 380.4L883.1 376.3L885.1 373.1L887.1 371.0L889.1 369.7L891.1 369.2L893.1 369.5L895.1 371.0L897.1 373.9L899.1 377.8L901.1 382.3L903.1 387.2L905.1 392.1L907.1 397.0L909.1 401.6L911.1 405.8L913.1 409.6L915.1 412.9L917.1 415.8L919.1 418.2L921.1 419.9L923.1 420.7L925.1 421.1L927.1 421.5L929.1 422.0L931.1 422.5L933.1 423.1L935.1 423.8L937.1 424.6L939.1 425.4L941.1 426.4L943.1 427.4L945.1 428.4L947.1 429.7L949.1 431.1L951.1 432.6L953.1 434.3L955.1 436.1L957.1 438.0L959.1 439.9L961.1 441.6L963.1 442.8L965.1 443.7L967.2 444.4L969.2 444.8L971.2 445.1L973.2 445.5L975.2 446.1L977.2 446.6L979.2 447.0L981.2 447.0L983.2 446.8L985.2 446.3L987.2 445.7L989.2 444.9L991.2 443.8L993.2 442.4L995.2 440.7L997.2 439.0L999.2 437.3L1001.2 435.7L1003.2 434.4L1005.2 433.7L1007.2 433.8L1009.2 435.1L1011.2 437.7L1013.2 441.5L1015.2 446.3L1017.2 451.9L1019.2 458.3L1021.2 465.3L1023.2 472.6L1025.2 480.2L1027.2 488.1L1029.2 495.9L1031.2 503.5L1033.2 510.8L1035.2 517.7L1037.2 524.1L1039.2 530.0L1041.2 535.6L1043.2 540.7L1045.2 545.2L1047.2 549.0L1049.2 552.2L1051.2 555.0L1053.2 557.2L1055.2 559.0L1057.2 560.3L1059.2 561.2L1061.2 561.8L1063.2 562.0L1065.2 562.0L1067.2 561.7L1069.3 561.0L1071.3 560.1L1073.3 559.2L1075.3 558.3L1077.3 557.5L1079.3 556.9L1081.3 556.5L1083.3 556.3L1085.3 556.3L1087.3 556.5L1089.3 556.7L1091.3 557.0L1093.3 557.3L1095.3 557.7L1097.3 558.2L1099.3 558.9L1101.3 559.8L1103.3 560.8L1105.3 562.0L1107.3 563.2L1109.3 564.4L1111.3 565.4L1113.3 566.3L1115.3 567.2L1117.3 568.1L1119.3 569.0L1121.3 569.8L1123.3 570.5L1125.3 570.9L1127.3 571.0L1129.3 570.9L1131.3 570.5L1133.3 570.0L1135.3 569.6L1137.3 569.2L1139.3 569.0L1141.3 568.8L1143.3 568.6L1145.3 568.3L1147.3 568.0L1149.3 567.7L1151.3 567.5L1153.3 567.5L1155.3 567.5L1157.3 567.6L1159.3 567.8L1161.3 567.8L1163.3 567.8L1165.3 567.6L1167.3 567.4L1169.3 567.0L1171.4 566.6L1173.4 566.2L1175.4 565.7L1177.4 565.1L1179.4 564.5L1181.4 563.7L1183.4 562.9L1185.4 562.0L1187.4 561.1L1189.4 560.0L1191.4 558.9L1193.4 557.7L1195.4 556.5L1197.4 555.3L1199.4 554.0L1201.4 552.8L1203.4 551.7L1205.4 550.8L1207.4 549.9L1209.4 549.2L1211.4 548.4L1213.4 547.8L1215.4 547.2L1217.4 546.7L1219.4 546.5L1221.4 546.4L1222.4 546.5"/>
<path d="M198.4 574.9L200.4 574.9L202.4 574.7L204.4 574.6L206.4 574.4L208.4 574.1L210.4 573.6L212.4 572.9L214.4 571.9L216.4 570.7L218.4 569.1L220.4 567.3L222.4 565.4L224.4 563.4L226.4 561.5L228.4 559.7L230.4 558.1L232.4 556.6L234.4 555.3L236.4 554.1L238.4 553.1L240.4 552.2L242.4 551.4L244.4 550.6L246.4 549.9L248.4 549.1L250.5 548.5L252.5 547.9L254.5 547.4L256.5 547.1L258.5 546.9L260.5 546.6L262.5 546.4L264.5 546.0L266.5 545.6L268.5 545.0L270.5 544.5L272.5 543.9L274.5 543.4L276.5 542.8L278.5 542.2L280.5 541.4L282.5 540.5L284.5 539.4L286.5 538.3L288.5 536.9L290.5 535.0L292.5 532.6L294.5 530.0L296.5 527.3L298.5 524.6L300.5 522.1L302.5 519.9L304.5 518.2L306.5 517.2L308.5 517.0L310.5 517.4L312.5 518.0L314.5 518.2L316.5 518.5L318.5 518.9L320.5 519.6L322.5 520.8L324.5 522.3L326.5 523.5L328.5 524.5L330.5 525.5L332.5 526.4L334.5 527.3L336.5 528.3L338.5 529.3L340.5 529.7L342.5 529.3L344.5 528.1L346.5 526.5L348.5 524.8L350.5 523.0L352.6 521.1L354.6 519.1L356.6 517.3L358.6 515.5L360.6 514.0L362.6 512.4L364.6 510.7L366.6 508.9L368.6 507.0L370.6 505.0L372.6 502.8L374.6 500.7L376.6 498.4L378.6 496.2L380.6 494.0L382.6 492.0L384.6 490.4L386.6 489.1L388.6 488.4L390.6 488.1L392.6 488.2L394.6 488.4L396.6 488.6L398.6 488.8L400.6 488.7L402.6 488.6L404.6 488.3L406.6 488.0L408.6 487.6L410.6 487.2L412.6 486.9L414.6 486.8L416.6 486.9L418.6 487.3L420.6 487.9L422.6 488.7L424.6 489.6L426.6 490.5L428.6 491.4L430.6 492.4L432.6 493.4L434.6 494.6L436.6 495.8L438.6 496.9L440.6 498.0L442.6 498.7L444.6 499.0L446.6 498.5L448.6 496.9L450.6 494.3L452.6 490.8L454.7 487.0L456.7 483.5L458.7 480.7L460.7 478.8L462.7 477.7L464.7 477.2L466.7 477.3L468.7 477.7L470.7 478.4L472.7 479.3L474.7 480.3L476.7 481.3L478.7 482.4L480.7 483.5L482.7 484.6L484.7 485.8L486.7 487.0L488.7 488.1L490.7 489.2L492.7 490.0L494.7 490.6L496.7 490.8L498.7 490.7L500.7 490.4L502.7 489.7L504.7 488.9L506.7 488.0L508.7 487.0L510.7 485.9L512.7 484.8L514.7 483.7L516.7 482.4L518.7 481.2L520.7 479.9L522.7 478.8L524.7 477.7L526.7 476.7L528.7 475.6L530.7 474.6L532.7 473.4L534.7 472.1L536.7 470.8L538.7 469.4L540.7 468.0L542.7 466.6L544.7 465.2L546.7 463.9L548.7 462.8L550.7 461.9L552.7 461.2L554.7 460.7L556.7 460.6L558.8 460.6L560.8 460.9L562.8 461.4L564.8 461.9L566.8 462.4L568.8 462.8L570.8 463.2L572.8 463.6L574.8 463.9L576.8 464.2L578.8 464.4L580.8 464.6L582.8 464.9L584.8 465.4L586.8 466.1L588.8 467.2L590.8 468.8L592.8 471.0L594.8 473.6L596.8 476.8L598.8 480.6L600.8 485.5L602.8 491.6L604.8 498.5L606.8 505.4L608.8 511.5L610.8 516.8L612.8 521.3L614.8 525.0L616.8 527.9L618.8 529.7L620.8 530.6L622.8 530.9L624.8 530.9L626.8 530.6L628.8 530.3L630.8 530.1L632.8 530.0L634.8 530.0L636.8 530.2L638.8 530.3L640.8 530.1L642.8 529.5L644.8 528.9L646.8 528.4L648.8 527.9L650.8 527.6L652.8 527.3L654.8 527.0L656.8 526.8L658.8 526.4L660.9 526.1L662.9 525.8L664.9 525.5L666.9 525.5L668.9 525.6L670.9 525.8L672.9 526.1L674.9 526.3L676.9 526.5L678.9 526.6L680.9 526.8L682.9 526.9L684.9 527.1L686.9 527.4L688.9 527.8L690.9 528.1L692.9 528.4L694.9 528.5L696.9 528.4L698.9 528.2L700.9 527.8L702.9 527.3L704.9 527.0L706.9 526.9L708.9 527.2L710.9 527.8L712.9 528.8L714.9 530.4L716.9 532.3L718.9 534.4L720.9 536.7L722.9 539.3L724.9 542.1L726.9 544.9L728.9 547.7L730.9 550.3L732.9 552.6L734.9 554.4L736.9 556.0L738.9 557.4L740.9 558.7L742.9 560.1L744.9 561.5L746.9 562.9L748.9 564.1L750.9 565.2L752.9 565.9L754.9 566.5L756.9 566.9L758.9 567.1L760.9 567.1L763.0 566.9L765.0 566.6L767.0 566.2L769.0 565.7L771.0 565.2L773.0 564.7L775.0 564.0L777.0 563.3L779.0 562.3L781.0 561.0L783.0 559.5L785.0 557.6L787.0 555.6L789.0 553.3L791.0 551.0L793.0 548.7L795.0 546.5L797.0 544.6L799.0 542.9L801.0 541.6L803.0 540.6L805.0 539.8L807.0 539.2L809.0 538.7L811.0 538.2L813.0 537.6L815.0 537.1L817.0 536.5L819.0 535.8L821.0 535.2L823.0 534.4L825.0 533.7L827.0 532.9L829.0 532.1L831.0 531.4L833.0 530.8L835.0 530.4L837.0 530.4L839.0 530.6L841.0 530.8L843.0 530.7L845.0 530.1L847.0 528.6L849.0 525.8L851.0 521.2L853.0 514.9L855.0 507.2L857.0 498.2L859.0 488.2L861.0 476.8L863.0 464.4L865.1 451.9L867.1 439.7L869.1 427.9L871.1 416.9L873.1 407.0L875.1 398.2L877.1 390.5L879.1 384.0L881.1 378.5L883.1 373.8L885.1 369.8L887.1 366.3L889.1 363.3L891.1 360.6L893.1 358.4L895.1 356.8L897.1 356.2L899.1 356.2L901.1 356.6L903.1 357.1L905.1 357.8L907.1 358.8L909.1 359.8L911.1 361.0L913.1 362.3L915.1 363.7L917.1 365.1L919.1 366.5L921.1 367.9L923.1 369.2L925.1 370.6L927.1 372.1L929.1 373.8L931.1 375.6L933.1 377.5L935.1 379.5L937.1 381.4L939.1 383.1L941.1 384.7L943.1 386.1L945.1 387.6L947.1 389.3L949.1 391.3L951.1 393.5L953.1 396.0L955.1 398.6L957.1 401.3L959.1 403.8L961.1 406.2L963.1 408.4L965.1 410.7L967.2 413.2L969.2 416.1L971.2 419.1L973.2 422.3L975.2 425.9L977.2 429.7L979.2 433.7L981.2 437.9L983.2 441.7L985.2 445.0L987.2 448.0L989.2 450.6L991.2 453.0L993.2 455.3L995.2 457.4L997.2 459.2L999.2 460.7L1001.2 462.1L1003.2 463.5L1005.2 464.9L1007.2 466.4L1009.2 468.2L1011.2 470.4L1013.2 473.4L1015.2 477.2L1017.2 481.7L1019.2 486.9L1021.2 492.8L1023.2 499.4L1025.2 506.7L1027.2 514.6L1029.2 522.9L1031.2 531.4L1033.2 539.9L1035.2 547.8L1037.2 555.0L1039.2 561.6L1041.2 567.7L1043.2 573.3L1045.2 578.4L1047.2 582.7L1049.2 586.3L1051.2 589.1L1053.2 591.3L1055.2 592.8L1057.2 593.9L1059.2 594.4L1061.2 594.5L1063.2 594.4L1065.2 594.0L1067.2 593.5L1069.3 593.1L1071.3 592.7L1073.3 592.3L1075.3 591.9L1077.3 591.5L1079.3 590.9L1081.3 590.2L1083.3 589.6L1085.3 589.0L1087.3 588.5L1089.3 588.1L1091.3 587.8L1093.3 587.5L1095.3 587.1L1097.3 586.8L1099.3 586.3L1101.3 586.0L1103.3 585.7L1105.3 585.6L1107.3 585.6L1109.3 585.7L1111.3 585.9L1113.3 586.1L1115.3 586.4L1117.3 586.6L1119.3 586.7L1121.3 586.7L1123.3 586.5L1125.3 586.1L1127.3 585.5L1129.3 584.8L1131.3 584.1L1133.3 583.4L1135.3 583.0L1137.3 582.8L1139.3 582.8L1141.3 582.9L1143.3 583.0L1145.3 582.9L1147.3 582.6L1149.3 582.2L1151.3 581.6L1153.3 580.9L1155.3 580.1L1157.3 579.2L1159.3 578.4L1161.3 577.6L1163.3 576.8L1165.3 576.1L1167.3 575.6L1169.3 575.2L1171.4 575.2L1173.4 575.3L1175.4 575.6L1177.4 576.0L1179.4 576.4L1181.4 576.8L1183.4 576.9L1185.4 577.0L1187.4 576.9L1189.4 576.6L1191.4 576.2L1193.4 575.8L1195.4 575.5L1197.4 575.1L1199.4 574.9L1201.4 574.7L1203.4 574.5L1205.4 574.5L1207.4 574.4L1209.4 574.4L1211.4 574.4L1213.4 574.3L1215.4 574.0L1217.4 573.5L1219.4 573.0L1221.4 572.4L1222.4 572.2"/>
<path d="M198.4 560.4L200.4 561.0L202.4 561.6L204.4 562.1L206.4 562.4L208.4 562.7L210.4 562.8L212.4 562.9L214.4 563.0L216.4 563.1L218.4 563.2L220.4 563.3L222.4 563.5L224.4 563.6L226.4 563.8L228.4 563.8L230.4 563.6L232.4 563.3L234.4 562.9L236.4 562.6L238.4 562.3L240.4 562.1L242.4 562.1L244.4 562.2L246.4 562.5L248.4 562.9L250.5 563.4L252.5 563.9L254.5 564.4L256.5 564.8L258.5 565.1L260.5 565.2L262.5 565.0L264.5 564.7L266.5 564.2L268.5 563.5L270.5 562.6L272.5 561.6L274.5 560.6L276.5 559.5L278.5 558.4L280.5 557.1L282.5 555.6L284.5 553.8L286.5 551.8L288.5 549.5L290.5 547.0L292.5 544.3L294.5 541.4L296.5 538.3L298.5 535.3L300.5 532.6L302.5 530.4L304.5 528.8L306.5 527.6L308.5 526.6L310.5 526.0L312.5 525.7L314.5 525.7L316.5 526.4L318.5 527.7L320.5 529.6L322.5 531.9L324.5 534.4L326.5 537.0L328.5 539.6L330.5 542.3L332.5 544.7L334.5 546.4L336.5 547.1L338.5 546.8L340.5 545.8L342.5 544.4L344.5 542.9L346.5 541.5L348.5 540.1L350.5 539.0L352.6 538.0L354.6 537.1L356.6 536.3L358.6 535.5L360.6 534.7L362.6 533.8L364.6 533.1L366.6 532.5L368.6 532.1L370.6 531.8L372.6 531.8L374.6 531.9L376.6 532.1L378.6 532.4L380.6 532.7L382.6 533.1L384.6 533.5L386.6 534.0L388.6 534.4L390.6 534.7L392.6 534.9L394.6 534.8L396.6 534.5L398.6 533.9L400.6 533.2L402.6 532.4L404.6 531.7L406.6 531.1L408.6 530.8L410.6 530.8L412.6 531.1L414.6 531.8L416.6 532.9L418.6 534.5L420.6 536.6L422.6 539.0L424.6 541.9L426.6 545.7L428.6 550.2L430.6 555.1L432.6 559.6L434.6 563.4L436.6 565.9L438.6 566.5L440.6 565.2L442.6 562.2L444.6 557.7L446.6 551.9L448.6 545.6L450.6 539.5L452.6 533.9L454.7 528.9L456.7 524.3L458.7 519.9L460.7 515.9L462.7 512.2L464.7 509.0L466.7 506.4L468.7 504.1L470.7 502.1L472.7 500.4L474.7 498.9L476.7 497.7L478.7 496.9L480.7 496.4L482.7 496.3L484.7 496.3L486.7 496.5L488.7 496.7L490.7 496.9L492.7 497.1L494.7 497.4L496.7 497.6L498.7 498.0L500.7 498.4L502.7 498.8L504.7 499.3L506.7 499.9L508.7 500.4L510.7 500.9L512.7 501.4L514.7 501.9L516.7 502.4L518.7 502.9L520.7 503.3L522.7 503.6L524.7 503.7L526.7 503.6L528.7 503.3L530.7 503.0L532.7 502.8L534.7 502.7L536.7 502.8L538.7 502.9L540.7 503.2L542.7 503.4L544.7 503.7L546.7 504.0L548.7 504.4L550.7 504.9L552.7 505.6L554.7 506.5L556.7 507.6L558.8 508.9L560.8 510.2L562.8 511.6L564.8 513.1L566.8 514.5L568.8 516.1L570.8 517.6L572.8 519.1L574.8 520.6L576.8 522.1L578.8 523.6L580.8 525.3L582.8 527.3L584.8 529.8L586.8 532.6L588.8 535.6L590.8 538.5L592.8 541.3L594.8 544.1L596.8 546.9L598.8 550.1L600.8 553.8L602.8 558.2L604.8 563.2L606.8 568.3L608.8 573.1L610.8 577.1L612.8 580.0L614.8 581.7L616.8 582.6L618.8 582.6L620.8 581.6L622.8 579.7L624.8 577.4L626.8 575.1L628.8 572.9L630.8 571.0L632.8 569.4L634.8 568.0L636.8 566.6L638.8 565.3L640.8 563.8L642.8 562.1L644.8 560.6L646.8 559.1L648.8 557.8L650.8 556.8L652.8 556.1L654.8 555.8L656.8 555.8L658.8 556.1L660.9 556.6L662.9 557.3L664.9 558.0L666.9 558.6L668.9 559.1L670.9 559.3L672.9 559.3L674.9 559.1L676.9 558.8L678.9 558.4L680.9 558.0L682.9 557.7L684.9 557.3L686.9 556.9L688.9 556.5L690.9 556.0L692.9 555.4L694.9 554.7L696.9 554.0L698.9 553.4L700.9 552.8L702.9 552.6L704.9 552.8L706.9 553.9L708.9 555.6L710.9 557.2L712.9 558.3L714.9 558.9L716.9 559.3L718.9 559.8L720.9 560.3L722.9 560.9L724.9 561.6L726.9 562.4L728.9 563.2L730.9 563.9L732.9 564.6L734.9 565.3L736.9 565.9L738.9 566.5L740.9 567.2L742.9 567.8L744.9 568.3L746.9 568.8L748.9 569.2L750.9 569.6L752.9 569.8L754.9 570.0L756.9 570.3L758.9 570.6L760.9 570.8L763.0 570.9L765.0 570.8L767.0 570.7L769.0 570.4L771.0 570.0L773.0 569.6L775.0 569.2L777.0 568.7L779.0 568.2L781.0 567.7L783.0 567.0L785.0 566.4L787.0 565.7L789.0 565.1L791.0 564.5L793.0 563.8L795.0 563.2L797.0 562.7L799.0 562.2L801.0 561.8L803.0 561.6L805.0 561.5L807.0 561.5L809.0 561.6L811.0 561.9L813.0 562.2L815.0 562.4L817.0 562.5L819.0 562.4L821.0 562.0L823.0 561.4L825.0 560.8L827.0 560.1L829.0 559.5L831.0 559.0L833.0 558.5L835.0 557.9L837.0 557.0L839.0 555.6L841.0 553.5L843.0 550.5L845.0 546.4L847.0 541.1L849.0 535.1L851.0 528.5L853.0 521.3L855.0 513.8L857.0 506.1L859.0 498.4L861.0 490.8L863.0 483.2L865.1 475.9L867.1 469.0L869.1 462.8L871.1 457.1L873.1 452.1L875.1 447.6L877.1 443.6L879.1 440.2L881.1 437.3L883.1 435.0L885.1 433.2L887.1 431.9L889.1 430.8L891.1 429.8L893.1 428.9L895.1 428.1L897.1 427.6L899.1 427.3L901.1 427.1L903.1 426.9L905.1 426.7L907.1 426.3L909.1 425.8L911.1 425.3L913.1 424.7L915.1 424.3L917.1 424.0L919.1 423.8L921.1 423.8L923.1 423.7L925.1 423.6L927.1 423.4L929.1 423.3L931.1 423.3L933.1 423.5L935.1 424.0L937.1 424.7L939.1 425.6L941.1 426.7L943.1 428.0L945.1 429.5L947.1 431.2L949.1 433.0L951.1 434.7L953.1 436.3L955.1 437.7L957.1 439.0L959.1 440.1L961.1 441.1L963.1 441.9L965.1 442.5L967.2 442.8L969.2 443.0L971.2 443.0L973.2 443.1L975.2 443.1L977.2 443.0L979.2 442.7L981.2 442.3L983.2 441.9L985.2 441.7L987.2 441.8L989.2 442.0L991.2 442.2L993.2 442.5L995.2 442.7L997.2 443.2L999.2 444.1L1001.2 445.5L1003.2 447.5L1005.2 450.3L1007.2 454.0L1009.2 458.8L1011.2 464.3L1013.2 470.6L1015.2 477.6L1017.2 485.3L1019.2 493.8L1021.2 502.7L1023.2 511.9L1025.2 521.3L1027.2 530.5L1029.2 538.9L1031.2 546.7L1033.2 553.8L1035.2 560.5L1037.2 566.8L1039.2 572.6L1041.2 577.8L1043.2 582.2L1045.2 585.8L1047.2 588.7L1049.2 590.9L1051.2 592.4L1053.2 593.4L1055.2 593.8L1057.2 594.0L1059.2 594.0L1061.2 593.9L1063.2 593.6L1065.2 593.3L1067.2 592.9L1069.3 592.6L1071.3 592.3L1073.3 592.2L1075.3 592.3L1077.3 592.7L1079.3 593.2L1081.3 593.7L1083.3 594.1L1085.3 594.3L1087.3 594.3L1089.3 593.9L1091.3 593.5L1093.3 592.9L1095.3 592.5L1097.3 592.1L1099.3 591.9L1101.3 591.8L1103.3 591.7L1105.3 591.6L1107.3 591.4L1109.3 591.1L1111.3 590.7L1113.3 590.3L1115.3 589.8L1117.3 589.3L1119.3 588.9L1121.3 588.7L1123.3 588.6L1125.3 588.8L1127.3 589.1L1129.3 589.4L1131.3 589.8L1133.3 590.2L1135.3 590.6L1137.3 590.9L1139.3 591.1L1141.3 591.4L1143.3 591.6L1145.3 591.6L1147.3 591.5L1149.3 591.1L1151.3 590.4L1153.3 589.5L1155.3 588.3L1157.3 587.0L1159.3 585.6L1161.3 584.3L1163.3 583.1L1165.3 582.2L1167.3 581.4L1169.3 580.9L1171.4 580.4L1173.4 580.0L1175.4 579.8L1177.4 579.7L1179.4 579.6L1181.4 579.6L1183.4 579.6L1185.4 579.6L1187.4 579.5L1189.4 579.3L1191.4 579.2L1193.4 579.0L1195.4 579.0L1197.4 579.1L1199.4 579.4L1201.4 579.8L1203.4 580.2L1205.4 580.8L1207.4 581.3L1209.4 581.9L1211.4 582.5L1213.4 583.2L1215.4 583.8L1217.4 584.5L1219.4 585.2L1221.4 585.6L1222.4 585.8"/>
<path d="M198.4 552.6L200.4 552.0L202.4 551.1L204.4 550.0L206.4 548.7L208.4 547.4L210.4 546.2L212.4 544.9L214.4 543.8L216.4 542.9L218.4 542.1L220.4 541.6L222.4 541.3L224.4 541.1L226.4 540.9L228.4 540.6L230.4 540.2L232.4 539.6L234.4 539.0L236.4 538.2L238.4 537.4L240.4 536.4L242.4 535.4L244.4 534.2L246.4 533.1L248.4 532.0L250.5 531.1L252.5 530.5L254.5 530.1L256.5 529.9L258.5 529.7L260.5 529.4L262.5 528.8L264.5 528.0L266.5 526.7L268.5 525.0L270.5 522.8L272.5 520.4L274.5 517.7L276.5 514.7L278.5 511.3L280.5 507.4L282.5 502.8L284.5 497.7L286.5 492.3L288.5 486.8L290.5 481.2L292.5 475.7L294.5 470.7L296.5 466.4L298.5 463.5L300.5 462.2L302.5 462.2L304.5 463.0L306.5 464.4L308.5 466.2L310.5 468.3L312.5 470.8L314.5 473.6L316.5 477.2L318.5 481.3L320.5 485.8L322.5 490.3L324.5 494.4L326.5 497.5L328.5 500.0L330.5 502.1L332.5 503.5L334.5 503.8L336.5 503.3L338.5 502.2L340.5 501.0L342.5 499.6L344.5 498.2L346.5 497.0L348.5 496.3L350.5 496.2L352.6 496.5L354.6 497.0L356.6 497.5L358.6 497.8L360.6 498.1L362.6 498.1L364.6 498.0L366.6 497.7L368.6 497.3L370.6 496.8L372.6 496.2L374.6 495.7L376.6 495.2L378.6 494.7L380.6 494.3L382.6 494.0L384.6 493.6L386.6 493.2L388.6 492.7L390.6 492.4L392.6 492.2L394.6 492.1L396.6 492.2L398.6 492.5L400.6 492.9L402.6 493.4L404.6 494.0L406.6 494.5L408.6 495.1L410.6 495.6L412.6 496.3L414.6 497.0L416.6 497.8L418.6 498.7L420.6 499.6L422.6 500.5L424.6 501.5L426.6 502.3L428.6 502.9L430.6 502.9L432.6 502.3L434.6 501.0L436.6 499.0L438.6 496.0L440.6 492.3L442.6 487.9L444.6 483.0L446.6 478.3L448.6 474.2L450.6 471.0L452.6 468.8L454.7 467.3L456.7 466.3L458.7 465.8L460.7 465.2L462.7 464.5L464.7 463.4L466.7 462.0L468.7 460.4L470.7 458.9L472.7 457.4L474.7 456.2L476.7 455.0L478.7 453.9L480.7 452.7L482.7 451.5L484.7 450.3L486.7 449.2L488.7 448.3L490.7 447.7L492.7 447.5L494.7 447.5L496.7 447.8L498.7 448.3L500.7 448.9L502.7 449.6L504.7 450.3L506.7 451.0L508.7 451.7L510.7 452.5L512.7 453.2L514.7 454.0L516.7 454.7L518.7 455.4L520.7 455.9L522.7 456.1L524.7 455.9L526.7 455.5L528.7 454.8L530.7 454.1L532.7 453.3L534.7 452.6L536.7 452.0L538.7 451.4L540.7 451.0L542.7 450.6L544.7 450.4L546.7 450.4L548.7 450.6L550.7 451.1L552.7 451.8L554.7 452.8L556.7 453.8L558.8 455.0L560.8 456.2L562.8 457.3L564.8 458.5L566.8 459.6L568.8 460.7L570.8 461.6L572.8 462.3L574.8 462.8L576.8 463.1L578.8 463.1L580.8 463.2L582.8 463.4L584.8 463.9L586.8 465.0L588.8 466.7L590.8 469.6L592.8 474.0L594.8 480.0L596.8 486.9L598.8 493.6L600.8 499.5L602.8 504.7L604.8 509.0L606.8 512.6L608.8 515.4L610.8 517.6L612.8 519.1L614.8 520.3L616.8 521.3L618.8 522.0L620.8 522.6L622.8 522.8L624.8 522.8L626.8 522.6L628.8 522.3L630.8 522.1L632.8 522.1L634.8 522.4L636.8 523.0L638.8 523.7L640.8 524.5L642.8 525.3L644.8 525.8L646.8 526.3L648.8 526.6L650.8 526.8L652.8 527.0L654.8 527.2L656.8 527.4L658.8 527.6L660.9 527.8L662.9 528.0L664.9 528.1L666.9 528.1L668.9 527.9L670.9 527.6L672.9 527.1L674.9 526.5L676.9 525.9L678.9 525.4L680.9 525.1L682.9 525.0L684.9 525.0L686.9 525.3L688.9 525.7L690.9 526.1L692.9 526.3L694.9 526.3L696.9 526.2L698.9 526.0L700.9 525.8L702.9 525.9L704.9 526.2L706.9 526.7L708.9 527.1L710.9 527.4L712.9 527.5L714.9 527.3L716.9 526.9L718.9 526.3L720.9 525.6L722.9 524.8L724.9 524.1L726.9 523.6L728.9 523.3L730.9 523.2L732.9 523.2L734.9 523.5L736.9 523.8L738.9 524.2L740.9 524.7L742.9 525.1L744.9 525.5L746.9 525.8L748.9 525.9L750.9 525.9L752.9 525.7L754.9 525.5L756.9 525.2L758.9 524.8L760.9 524.5L763.0 524.2L765.0 523.9L767.0 523.9L769.0 524.1L771.0 524.5L773.0 525.1L775.0 525.7L777.0 526.0L779.0 526.0L781.0 525.7L783.0 525.0L785.0 524.2L787.0 523.4L789.0 523.0L791.0 522.8L793.0 522.9L795.0 523.2L797.0 523.5L799.0 523.5L801.0 523.2L803.0 522.6L805.0 521.7L807.0 520.7L809.0 519.6L811.0 518.6L813.0 517.6L815.0 516.8L817.0 516.0L819.0 515.1L821.0 514.1L823.0 512.9L825.0 511.6L827.0 510.2L829.0 508.5L831.0 506.5L833.0 503.9L835.0 500.6L837.0 496.3L839.0 490.8L841.0 483.9L843.0 475.4L845.0 465.5L847.0 454.2L849.0 441.6L851.0 428.0L853.0 414.1L855.0 400.6L857.0 387.6L859.0 375.5L861.0 364.6L863.0 355.6L865.1 348.6L867.1 343.1L869.1 338.8L871.1 335.5L873.1 332.7L875.1 330.4L877.1 328.6L879.1 327.1L881.1 326.0L883.1 325.4L885.1 325.0L887.1 325.0L889.1 325.2L891.1 325.5L893.1 325.9L895.1 326.4L897.1 326.8L899.1 327.1L901.1 327.2L903.1 327.2L905.1 327.0L907.1 326.8L909.1 326.5L911.1 326.1L913.1 325.8L915.1 325.4L917.1 325.1L919.1 324.7L921.1 324.3L923.1 323.8L925.1 323.2L927.1 322.6L929.1 322.1L931.1 321.7L933.1 321.7L935.1 322.0L937.1 322.6L939.1 323.5L941.1 324.5L943.1 325.6L945.1 326.6L947.1 327.4L949.1 328.1L951.1 328.6L953.1 329.0L955.1 329.7L957.1 330.8L959.1 332.6L961.1 335.3L963.1 338.6L965.1 342.4L967.2 346.9L969.2 352.5L971.2 359.1L973.2 366.4L975.2 373.1L977.2 378.4L979.2 381.8L981.2 383.6L983.2 384.5L985.2 384.9L987.2 384.9L989.2 384.8L991.2 384.6L993.2 384.4L995.2 384.3L997.2 384.7L999.2 385.6L1001.2 387.4L1003.2 390.3L1005.2 394.5L1007.2 400.2L1009.2 406.7L1011.2 413.8L1013.2 421.1L1015.2 428.4L1017.2 435.7L1019.2 442.9L1021.2 449.9L1023.2 456.4L1025.2 462.5L1027.2 468.1L1029.2 473.5L1031.2 478.8L1033.2 484.5L1035.2 490.4L1037.2 496.5L1039.2 502.5L1041.2 508.6L1043.2 514.4L1045.2 520.2L1047.2 525.8L1049.2 531.1L1051.2 535.9L1053.2 540.1L1055.2 543.6L1057.2 546.6L1059.2 549.0L1061.2 550.7L1063.2 551.8L1065.2 552.4L1067.2 552.8L1069.3 553.1L1071.3 553.4L1073.3 553.8L1075.3 554.2L1077.3 554.7L1079.3 555.1L1081.3 555.2L1083.3 555.2L1085.3 554.9L1087.3 554.6L1089.3 554.2L1091.3 553.8L1093.3 553.3L1095.3 552.8L1097.3 552.3L1099.3 551.6L1101.3 551.0L1103.3 550.4L1105.3 550.1L1107.3 550.2L1109.3 550.7L1111.3 551.7L1113.3 552.9L1115.3 554.2L1117.3 555.5L1119.3 556.6L1121.3 557.5L1123.3 558.1L1125.3 558.3L1127.3 558.4L1129.3 558.4L1131.3 558.4L1133.3 558.5L1135.3 558.9L1137.3 559.3L1139.3 559.8L1141.3 560.4L1143.3 560.9L1145.3 561.4L1147.3 561.6L1149.3 561.7L1151.3 561.6L1153.3 561.4L1155.3 561.1L1157.3 560.7L1159.3 560.2L1161.3 559.6L1163.3 558.8L1165.3 557.8L1167.3 556.7L1169.3 555.5L1171.4 554.3L1173.4 553.2L1175.4 552.2L1177.4 551.5L1179.4 550.8L1181.4 550.2L1183.4 549.5L1185.4 548.6L1187.4 547.7L1189.4 546.6L1191.4 545.5L1193.4 544.5L1195.4 543.6L1197.4 542.8L1199.4 542.0L1201.4 541.2L1203.4 540.4L1205.4 539.5L1207.4 538.5L1209.4 537.3L1211.4 536.2L1213.4 535.1L1215.4 534.3L1217.4 533.9L1219.4 533.6L1221.4 533.5L1222.4 533.5"/>
<path d="M198.4 534.5L200.4 534.8L202.4 535.0L204.4 535.1L206.4 535.1L208.4 535.2L210.4 535.3L212.4 535.5L214.4 535.9L216.4 536.5L218.4 537.1L220.4 538.0L222.4 538.9L224.4 539.9L226.4 540.8L228.4 541.7L230.4 542.3L232.4 542.7L234.4 542.9L236.4 542.8L238.4 542.7L240.4 542.7L242.4 542.7L244.4 542.9L246.4 543.2L248.4 543.5L250.5 543.8L252.5 544.0L254.5 544.2L256.5 544.3L258.5 544.4L260.5 544.5L262.5 544.6L264.5 544.8L266.5 545.0L268.5 545.2L270.5 545.5L272.5 545.7L274.5 546.0L276.5 546.2L278.5 546.2L280.5 545.8L282.5 544.8L284.5 543.4L286.5 541.7L288.5 539.7L290.5 537.0L292.5 533.6L294.5 529.6L296.5 525.0L298.5 520.0L300.5 514.6L302.5 509.0L304.5 503.2L306.5 497.5L308.5 492.3L310.5 487.8L312.5 483.7L314.5 479.5L316.5 475.4L318.5 471.6L320.5 468.3L322.5 465.7L324.5 464.1L326.5 463.3L328.5 463.7L330.5 465.7L332.5 468.9L334.5 472.9L336.5 477.5L338.5 482.4L340.5 487.4L342.5 491.8L344.5 495.0L346.5 496.8L348.5 497.3L350.5 497.0L352.6 496.2L354.6 495.2L356.6 493.9L358.6 492.6L360.6 491.9L362.6 491.7L364.6 492.0L366.6 492.5L368.6 493.1L370.6 493.5L372.6 493.7L374.6 493.6L376.6 493.4L378.6 493.0L380.6 492.7L382.6 492.4L384.6 492.2L386.6 492.0L388.6 491.8L390.6 491.5L392.6 491.1L394.6 490.7L396.6 490.4L398.6 490.2L400.6 490.1L402.6 490.2L404.6 490.5L406.6 491.0L408.6 491.5L410.6 492.1L412.6 492.8L414.6 493.5L416.6 494.2L418.6 494.9L420.6 495.6L422.6 496.4L424.6 497.3L426.6 498.5L428.6 499.8L430.6 501.3L432.6 502.8L434.6 504.5L436.6 506.2L438.6 507.9L440.6 509.2L442.6 509.9L444.6 510.1L446.6 509.5L448.6 507.9L450.6 505.3L452.6 501.8L454.7 497.4L456.7 492.6L458.7 487.9L460.7 483.8L462.7 480.3L464.7 477.2L466.7 474.5L468.7 472.0L470.7 469.7L472.7 467.6L474.7 465.8L476.7 464.2L478.7 463.0L480.7 462.2L482.7 461.9L484.7 462.0L486.7 462.6L488.7 463.6L490.7 464.7L492.7 466.0L494.7 467.4L496.7 468.9L498.7 470.4L500.7 472.0L502.7 473.7L504.7 475.4L506.7 477.1L508.7 478.7L510.7 480.4L512.7 481.9L514.7 483.4L516.7 484.7L518.7 486.0L520.7 487.1L522.7 488.2L524.7 489.4L526.7 490.7L528.7 492.0L530.7 493.3L532.7 494.5L534.7 495.6L536.7 496.4L538.7 496.9L540.7 497.1L542.7 497.1L544.7 497.1L546.7 497.2L548.7 497.4L550.7 497.6L552.7 497.7L554.7 497.6L556.7 497.1L558.8 496.3L560.8 495.3L562.8 494.0L564.8 492.7L566.8 491.5L568.8 490.3L570.8 489.3L572.8 488.5L574.8 487.7L576.8 487.1L578.8 486.6L580.8 486.4L582.8 486.5L584.8 487.0L586.8 488.1L588.8 489.6L590.8 491.5L592.8 493.9L594.8 496.6L596.8 499.5L598.8 502.3L600.8 505.2L602.8 508.4L604.8 512.2L606.8 516.7L608.8 521.6L610.8 526.5L612.8 531.2L614.8 535.6L616.8 539.4L618.8 542.6L620.8 544.9L622.8 546.4L624.8 547.2L626.8 547.5L628.8 547.3L630.8 546.8L632.8 546.0L634.8 545.2L636.8 544.5L638.8 543.8L640.8 542.8L642.8 541.5L644.8 540.2L646.8 539.0L648.8 538.1L650.8 537.3L652.8 536.6L654.8 536.0L656.8 535.4L658.8 534.7L660.9 534.0L662.9 533.4L664.9 533.1L666.9 533.2L668.9 533.7L670.9 534.2L672.9 534.8L674.9 535.4L676.9 535.7L678.9 535.8L680.9 535.7L682.9 535.5L684.9 535.2L686.9 534.9L688.9 534.6L690.9 534.5L692.9 534.5L694.9 534.4L696.9 534.3L698.9 534.0L700.9 533.6L702.9 533.0L704.9 532.2L706.9 531.5L708.9 530.8L710.9 530.3L712.9 530.0L714.9 529.9L716.9 530.0L718.9 530.2L720.9 530.4L722.9 530.5L724.9 530.6L726.9 530.5L728.9 530.3L730.9 529.8L732.9 529.3L734.9 528.6L736.9 528.0L738.9 527.6L740.9 527.3L742.9 527.2L744.9 527.2L746.9 527.3L748.9 527.5L750.9 527.7L752.9 528.1L754.9 528.5L756.9 529.0L758.9 529.5L760.9 530.0L763.0 530.4L765.0 530.7L767.0 530.8L769.0 530.8L771.0 530.7L773.0 530.5L775.0 530.1L777.0 529.6L779.0 529.0L781.0 528.2L783.0 527.2L785.0 526.2L787.0 525.2L789.0 524.3L791.0 523.4L793.0 522.6L795.0 521.8L797.0 521.1L799.0 520.5L801.0 519.9L803.0 519.4L805.0 518.9L807.0 518.4L809.0 517.9L811.0 517.3L813.0 516.7L815.0 516.1L817.0 515.6L819.0 515.3L821.0 515.0L823.0 514.8L825.0 514.6L827.0 514.4L829.0 514.1L831.0 513.6L833.0 512.9L835.0 511.9L837.0 510.8L839.0 509.5L841.0 508.2L843.0 506.6L845.0 504.9L847.0 502.6L849.0 499.6L851.0 495.4L853.0 489.7L855.0 482.5L857.0 473.9L859.0 463.9L861.0 451.9L863.0 438.5L865.1 424.8L867.1 411.5L869.1 398.7L871.1 386.6L873.1 375.7L875.1 366.6L877.1 359.4L879.1 353.8L881.1 349.7L883.1 346.6L885.1 344.3L887.1 342.6L889.1 341.4L891.1 340.5L893.1 339.9L895.1 339.8L897.1 340.3L899.1 341.1L901.1 341.7L903.1 342.3L905.1 342.7L907.1 343.0L909.1 343.2L911.1 343.1L913.1 342.8L915.1 342.4L917.1 341.8L919.1 341.2L921.1 340.7L923.1 340.5L925.1 340.6L927.1 341.1L929.1 342.0L931.1 343.1L933.1 344.3L935.1 345.4L937.1 346.3L939.1 347.0L941.1 347.4L943.1 347.4L945.1 347.2L947.1 346.8L949.1 346.3L951.1 345.6L953.1 345.0L955.1 344.5L957.1 344.3L959.1 344.1L961.1 344.0L963.1 343.9L965.1 344.0L967.2 344.5L969.2 345.6L971.2 347.4L973.2 349.6L975.2 352.2L977.2 355.0L979.2 358.3L981.2 362.5L983.2 367.7L985.2 373.2L987.2 378.3L989.2 382.3L991.2 385.0L993.2 386.8L995.2 388.2L997.2 389.5L999.2 390.8L1001.2 392.1L1003.2 393.4L1005.2 394.8L1007.2 396.4L1009.2 398.6L1011.2 401.3L1013.2 404.7L1015.2 409.0L1017.2 414.4L1019.2 420.7L1021.2 427.6L1023.2 435.1L1025.2 443.0L1027.2 451.6L1029.2 460.6L1031.2 469.9L1033.2 479.4L1035.2 488.6L1037.2 497.1L1039.2 505.1L1041.2 512.7L1043.2 520.0L1045.2 527.1L1047.2 533.7L1049.2 539.8L1051.2 545.1L1053.2 549.7L1055.2 553.6L1057.2 556.8L1059.2 559.6L1061.2 561.9L1063.2 563.7L1065.2 565.0L1067.2 566.0L1069.3 567.0L1071.3 567.9L1073.3 568.6L1075.3 569.3L1077.3 569.9L1079.3 570.4L1081.3 570.8L1083.3 571.2L1085.3 571.5L1087.3 571.9L1089.3 572.2L1091.3 572.6L1093.3 572.9L1095.3 573.2L1097.3 573.6L1099.3 574.1L1101.3 574.7L1103.3 575.4L1105.3 576.2L1107.3 577.0L1109.3 577.8L1111.3 578.4L1113.3 578.7L1115.3 578.8L1117.3 578.8L1119.3 578.6L1121.3 578.4L1123.3 578.1L1125.3 577.6L1127.3 577.0L1129.3 576.3L1131.3 575.4L1133.3 574.6L1135.3 573.7L1137.3 573.1L1139.3 572.5L1141.3 572.1L1143.3 571.9L1145.3 571.6L1147.3 571.4L1149.3 571.2L1151.3 571.1L1153.3 571.2L1155.3 571.5L1157.3 572.0L1159.3 572.6L1161.3 573.4L1163.3 574.1L1165.3 574.8L1167.3 575.5L1169.3 576.2L1171.4 576.8L1173.4 577.4L1175.4 578.0L1177.4 578.5L1179.4 578.8L1181.4 578.9L1183.4 578.9L1185.4 578.7L1187.4 578.6L1189.4 578.6L1191.4 578.7L1193.4 578.9L1195.4 579.1L1197.4 579.2L1199.4 579.3L1201.4 579.3L1203.4 579.2L1205.4 579.1L1207.4 579.2L1209.4 579.5L1211.4 579.9L1213.4 580.5L1215.4 581.1L1217.4 581.6L1219.4 582.0L1221.4 582.1L1222.4 582.1"/>
<path d="M198.4 577.0L200.4 576.8L202.4 576.5L204.4 576.6L206.4 576.9L208.4 577.5L210.4 578.2L212.4 579.0L214.4 579.8L216.4 580.7L218.4 581.6L220.4 582.5L222.4 583.4L224.4 584.2L226.4 584.8L228.4 585.3L230.4 585.5L232.4 585.5L234.4 585.3L236.4 585.0L238.4 584.7L240.4 584.2L242.4 583.6L244.4 583.1L246.4 582.4L248.4 581.7L250.5 580.9L252.5 580.1L254.5 579.2L256.5 578.5L258.5 577.8L260.5 577.1L262.5 576.5L264.5 575.8L266.5 575.0L268.5 574.1L270.5 573.2L272.5 572.2L274.5 571.3L276.5 570.3L278.5 569.4L280.5 568.3L282.5 567.0L284.5 565.3L286.5 563.3L288.5 560.8L290.5 557.8L292.5 554.1L294.5 549.8L296.5 545.2L298.5 540.4L300.5 535.7L302.5 531.2L304.5 527.1L306.5 523.5L308.5 520.6L310.5 518.4L312.5 516.6L314.5 514.9L316.5 513.3L318.5 512.2L320.5 511.6L322.5 511.8L324.5 512.7L326.5 513.9L328.5 515.4L330.5 517.3L332.5 519.7L334.5 522.4L336.5 525.4L338.5 528.4L340.5 531.4L342.5 533.8L344.5 535.4L346.5 536.3L348.5 536.4L350.5 536.1L352.6 535.4L354.6 534.6L356.6 533.7L358.6 532.9L360.6 532.3L362.6 532.0L364.6 532.0L366.6 532.0L368.6 532.1L370.6 532.2L372.6 532.1L374.6 531.8L376.6 531.3L378.6 530.7L380.6 529.9L382.6 529.1L384.6 528.3L386.6 527.6L388.6 526.9L390.6 526.3L392.6 525.7L394.6 525.1L396.6 524.6L398.6 524.1L400.6 523.8L402.6 523.6L404.6 523.7L406.6 524.0L408.6 524.6L410.6 525.4L412.6 526.5L414.6 527.7L416.6 528.9L418.6 529.9L420.6 530.9L422.6 531.7L424.6 532.8L426.6 534.1L428.6 535.7L430.6 537.6L432.6 539.8L434.6 542.4L436.6 545.6L438.6 549.0L440.6 552.2L442.6 554.9L444.6 556.6L446.6 556.8L448.6 555.3L450.6 552.2L452.6 547.6L454.7 541.9L456.7 535.5L458.7 529.1L460.7 523.3L462.7 518.2L464.7 513.7L466.7 509.7L468.7 506.4L470.7 503.5L472.7 501.3L474.7 499.7L476.7 498.5L478.7 497.6L480.7 496.9L482.7 496.3L484.7 495.7L486.7 495.2L488.7 494.6L490.7 494.0L492.7 493.4L494.7 492.8L496.7 492.3L498.7 491.9L500.7 491.7L502.7 491.6L504.7 491.7L506.7 492.0L508.7 492.4L510.7 492.8L512.7 493.3L514.7 493.6L516.7 493.9L518.7 494.1L520.7 494.3L522.7 494.6L524.7 494.9L526.7 495.2L528.7 495.4L530.7 495.5L532.7 495.6L534.7 495.6L536.7 495.7L538.7 496.1L540.7 496.6L542.7 497.2L544.7 497.9L546.7 498.6L548.7 499.3L550.7 499.9L552.7 500.5L554.7 501.0L556.7 501.6L558.8 502.3L560.8 502.9L562.8 503.6L564.8 504.2L566.8 504.8L568.8 505.2L570.8 505.5L572.8 505.6L574.8 505.3L576.8 504.6L578.8 503.4L580.8 501.8L582.8 499.9L584.8 497.8L586.8 495.7L588.8 493.7L590.8 492.0L592.8 490.8L594.8 490.0L596.8 489.7L598.8 489.8L600.8 490.4L602.8 492.0L604.8 495.0L606.8 499.2L608.8 504.1L610.8 508.9L612.8 513.2L614.8 516.8L616.8 519.7L618.8 521.7L620.8 523.0L622.8 523.5L624.8 523.6L626.8 523.5L628.8 523.3L630.8 523.1L632.8 522.9L634.8 522.9L636.8 523.2L638.8 523.8L640.8 524.5L642.8 525.3L644.8 526.2L646.8 527.0L648.8 527.7L650.8 528.2L652.8 528.6L654.8 528.9L656.8 529.3L658.8 529.8L660.9 530.5L662.9 531.4L664.9 532.5L666.9 533.8L668.9 535.3L670.9 536.9L672.9 538.6L674.9 540.3L676.9 542.0L678.9 543.6L680.9 545.1L682.9 546.7L684.9 548.2L686.9 549.7L688.9 551.3L690.9 552.7L692.9 554.0L694.9 555.3L696.9 556.4L698.9 557.4L700.9 558.3L702.9 559.2L704.9 560.0L706.9 560.7L708.9 561.1L710.9 561.5L712.9 561.8L714.9 562.5L716.9 563.6L718.9 564.7L720.9 565.1L722.9 565.1L724.9 564.9L726.9 564.8L728.9 564.8L730.9 564.9L732.9 565.0L734.9 565.0L736.9 565.1L738.9 565.3L740.9 565.5L742.9 565.9L744.9 566.3L746.9 566.7L748.9 566.9L750.9 567.1L752.9 567.1L754.9 567.2L756.9 567.3L758.9 567.4L760.9 567.5L763.0 567.5L765.0 567.5L767.0 567.5L769.0 567.6L771.0 567.9L773.0 568.3L775.0 568.9L777.0 569.7L779.0 570.6L781.0 571.4L783.0 572.1L785.0 572.6L787.0 572.8L789.0 572.6L791.0 572.2L793.0 571.6L795.0 570.9L797.0 570.1L799.0 569.2L801.0 568.3L803.0 567.3L805.0 566.4L807.0 565.4L809.0 564.4L811.0 563.5L813.0 562.9L815.0 562.4L817.0 562.3L819.0 562.4L821.0 562.7L823.0 563.0L825.0 563.2L827.0 563.3L829.0 563.3L831.0 563.2L833.0 563.1L835.0 563.1L837.0 563.1L839.0 563.2L841.0 563.2L843.0 562.8L845.0 561.9L847.0 560.2L849.0 557.6L851.0 554.0L853.0 549.0L855.0 542.9L857.0 535.8L859.0 528.2L861.0 520.1L863.0 511.8L865.1 503.4L867.1 495.3L869.1 487.4L871.1 479.8L873.1 472.2L875.1 464.9L877.1 457.9L879.1 451.3L881.1 445.1L883.1 439.3L885.1 434.0L887.1 429.1L889.1 424.6L891.1 420.5L893.1 416.9L895.1 413.9L897.1 411.6L899.1 409.6L901.1 407.9L903.1 406.5L905.1 405.4L907.1 404.4L909.1 403.7L911.1 403.0L913.1 402.6L915.1 402.3L917.1 402.3L919.1 402.6L921.1 403.1L923.1 403.9L925.1 404.9L927.1 406.2L929.1 407.7L931.1 409.5L933.1 411.5L935.1 413.6L937.1 415.7L939.1 417.8L941.1 419.7L943.1 421.5L945.1 423.1L947.1 424.6L949.1 426.1L951.1 427.5L953.1 429.0L955.1 430.5L957.1 432.2L959.1 434.0L961.1 436.0L963.1 438.0L965.1 440.2L967.2 442.6L969.2 445.1L971.2 447.7L973.2 450.1L975.2 452.4L977.2 454.4L979.2 456.4L981.2 458.1L983.2 459.8L985.2 461.1L987.2 462.2L989.2 463.2L991.2 464.2L993.2 465.4L995.2 466.7L997.2 467.9L999.2 469.1L1001.2 470.1L1003.2 471.0L1005.2 471.9L1007.2 472.7L1009.2 473.5L1011.2 474.4L1013.2 475.5L1015.2 477.2L1017.2 479.7L1019.2 483.1L1021.2 487.5L1023.2 492.9L1025.2 499.3L1027.2 506.6L1029.2 514.6L1031.2 523.0L1033.2 531.6L1035.2 540.0L1037.2 547.6L1039.2 554.2L1041.2 560.1L1043.2 565.3L1045.2 570.2L1047.2 574.7L1049.2 578.7L1051.2 582.1L1053.2 585.0L1055.2 587.2L1057.2 588.9L1059.2 590.0L1061.2 590.7L1063.2 591.1L1065.2 591.3L1067.2 591.3L1069.3 591.2L1071.3 590.9L1073.3 590.4L1075.3 589.6L1077.3 588.7L1079.3 587.6L1081.3 586.5L1083.3 585.4L1085.3 584.3L1087.3 583.4L1089.3 582.6L1091.3 581.9L1093.3 581.3L1095.3 580.7L1097.3 580.2L1099.3 579.7L1101.3 579.3L1103.3 578.8L1105.3 578.4L1107.3 578.1L1109.3 578.0L1111.3 578.1L1113.3 578.4L1115.3 578.6L1117.3 578.8L1119.3 578.9L1121.3 578.9L1123.3 579.0L1125.3 579.1L1127.3 579.3L1129.3 579.6L1131.3 580.0L1133.3 580.3L1135.3 580.6L1137.3 580.7L1139.3 580.6L1141.3 580.5L1143.3 580.4L1145.3 580.4L1147.3 580.6L1149.3 580.8L1151.3 581.1L1153.3 581.5L1155.3 581.9L1157.3 582.3L1159.3 582.6L1161.3 582.9L1163.3 583.0L1165.3 583.0L1167.3 582.9L1169.3 582.7L1171.4 582.6L1173.4 582.5L1175.4 582.6L1177.4 582.8L1179.4 583.0L1181.4 583.2L1183.4 583.3L1185.4 583.3L1187.4 583.2L1189.4 583.0L1191.4 582.8L1193.4 582.6L1195.4 582.5L1197.4 582.3L1199.4 582.2L1201.4 582.1L1203.4 582.0L1205.4 581.9L1207.4 581.6L1209.4 581.3L1211.4 580.9L1213.4 580.2L1215.4 579.5L1217.4 578.7L1219.4 577.8L1221.4 576.9L1222.4 576.6"/>
<path d="M198.4 568.0L200.4 568.2L202.4 568.4L204.4 568.5L206.4 568.3L208.4 568.1L210.4 567.8L212.4 567.5L214.4 567.1L216.4 566.8L218.4 566.6L220.4 566.4L222.4 566.2L224.4 566.1L226.4 565.9L228.4 565.6L230.4 565.2L232.4 564.7L234.4 564.0L236.4 563.3L238.4 562.5L240.4 561.6L242.4 560.5L244.4 559.2L246.4 557.9L248.4 556.4L250.5 554.8L252.5 553.3L254.5 551.6L256.5 549.8L258.5 547.8L260.5 545.6L262.5 543.2L264.5 540.7L266.5 538.0L268.5 535.3L270.5 532.6L272.5 529.8L274.5 526.9L276.5 523.9L278.5 520.7L280.5 517.4L282.5 514.0L284.5 510.7L286.5 507.3L288.5 503.5L290.5 499.3L292.5 494.7L294.5 490.0L296.5 485.1L298.5 480.4L300.5 476.1L302.5 472.4L304.5 469.5L306.5 468.0L308.5 467.9L310.5 468.9L312.5 470.0L314.5 470.5L316.5 471.0L318.5 471.8L320.5 473.4L322.5 476.1L324.5 479.5L326.5 482.6L328.5 485.8L330.5 489.6L332.5 493.9L334.5 498.5L336.5 503.2L338.5 507.4L340.5 510.5L342.5 512.1L344.5 512.4L346.5 511.9L348.5 511.0L350.5 509.8L352.6 508.3L354.6 506.7L356.6 505.4L358.6 504.5L360.6 504.1L362.6 504.0L364.6 503.9L366.6 503.7L368.6 503.5L370.6 503.3L372.6 503.2L374.6 503.2L376.6 503.3L378.6 503.6L380.6 504.1L382.6 504.5L384.6 505.0L386.6 505.6L388.6 506.2L390.6 507.0L392.6 507.9L394.6 509.0L396.6 510.2L398.6 511.4L400.6 512.4L402.6 513.3L404.6 514.0L406.6 514.5L408.6 515.0L410.6 515.6L412.6 516.2L414.6 517.0L416.6 517.8L418.6 518.8L420.6 519.9L422.6 521.3L424.6 522.9L426.6 524.9L428.6 527.2L430.6 530.1L432.6 533.8L434.6 538.4L436.6 543.4L438.6 548.2L440.6 552.5L442.6 555.6L444.6 556.9L446.6 556.3L448.6 553.7L450.6 549.4L452.6 543.8L454.7 537.6L456.7 531.8L458.7 526.9L460.7 523.0L462.7 520.0L464.7 517.7L466.7 515.9L468.7 514.4L470.7 513.1L472.7 512.2L474.7 511.2L476.7 510.3L478.7 509.3L480.7 508.2L482.7 507.1L484.7 506.0L486.7 504.9L488.7 504.1L490.7 503.3L492.7 502.8L494.7 502.4L496.7 502.0L498.7 501.6L500.7 501.2L502.7 500.6L504.7 500.0L506.7 499.1L508.7 498.2L510.7 497.3L512.7 496.4L514.7 495.5L516.7 494.8L518.7 494.1L520.7 493.4L522.7 492.6L524.7 491.7L526.7 490.8L528.7 490.0L530.7 489.3L532.7 488.8L534.7 488.6L536.7 488.7L538.7 489.0L540.7 489.3L542.7 489.7L544.7 489.9L546.7 490.0L548.7 490.0L550.7 490.0L552.7 489.9L554.7 489.8L556.7 489.6L558.8 489.4L560.8 489.1L562.8 488.8L564.8 488.5L566.8 488.3L568.8 488.1L570.8 487.9L572.8 487.6L574.8 487.2L576.8 486.8L578.8 486.3L580.8 485.8L582.8 485.7L584.8 485.9L586.8 486.8L588.8 488.5L590.8 491.1L592.8 494.3L594.8 497.9L596.8 501.7L598.8 505.8L600.8 510.4L602.8 515.6L604.8 521.2L606.8 527.0L608.8 532.7L610.8 538.3L612.8 543.7L614.8 548.8L616.8 553.1L618.8 556.6L620.8 559.2L622.8 561.1L624.8 562.5L626.8 563.3L628.8 563.5L630.8 563.3L632.8 563.0L634.8 562.5L636.8 561.9L638.8 560.9L640.8 559.3L642.8 557.0L644.8 554.4L646.8 551.8L648.8 549.1L650.8 546.6L652.8 544.3L654.8 542.1L656.8 540.1L658.8 538.2L660.9 536.3L662.9 534.5L664.9 532.8L666.9 531.5L668.9 530.4L670.9 529.6L672.9 529.0L674.9 528.7L676.9 528.7L678.9 528.8L680.9 529.0L682.9 529.2L684.9 529.1L686.9 529.0L688.9 529.0L690.9 529.1L692.9 529.6L694.9 530.5L696.9 531.7L698.9 533.2L700.9 534.7L702.9 536.1L704.9 537.3L706.9 538.4L708.9 539.3L710.9 540.1L712.9 541.1L714.9 542.1L716.9 542.9L718.9 543.4L720.9 543.5L722.9 543.4L724.9 543.1L726.9 542.7L728.9 542.3L730.9 541.8L732.9 541.3L734.9 540.8L736.9 540.4L738.9 540.0L740.9 539.7L742.9 539.5L744.9 539.3L746.9 539.1L748.9 539.1L750.9 539.2L752.9 539.5L754.9 540.2L756.9 541.1L758.9 542.3L760.9 543.5L763.0 544.9L765.0 546.1L767.0 547.4L769.0 548.6L771.0 549.8L773.0 551.0L775.0 552.3L777.0 553.6L779.0 555.0L781.0 556.3L783.0 557.4L785.0 558.3L787.0 558.8L789.0 558.8L791.0 558.3L793.0 557.2L795.0 555.7L797.0 553.7L799.0 551.3L801.0 548.5L803.0 545.4L805.0 542.0L807.0 538.6L809.0 535.2L811.0 531.9L813.0 528.6L815.0 525.5L817.0 522.4L819.0 519.5L821.0 516.8L823.0 514.4L825.0 512.3L827.0 510.6L829.0 509.1L831.0 507.8L833.0 506.6L835.0 505.2L837.0 503.7L839.0 502.0L841.0 499.9L843.0 497.2L845.0 493.6L847.0 488.8L849.0 482.5L851.0 474.4L853.0 464.7L855.0 453.3L857.0 440.5L859.0 426.7L861.0 412.6L863.0 398.7L865.1 385.2L867.1 372.2L869.1 360.2L871.1 350.0L873.1 341.9L875.1 336.0L877.1 331.9L879.1 329.5L881.1 328.3L883.1 327.8L885.1 327.7L887.1 327.8L889.1 328.0L891.1 328.2L893.1 328.4L895.1 328.5L897.1 328.7L899.1 328.9L901.1 329.2L903.1 329.9L905.1 330.9L907.1 332.3L909.1 334.1L911.1 336.1L913.1 338.1L915.1 339.9L917.1 341.4L919.1 342.8L921.1 344.0L923.1 345.3L925.1 346.5L927.1 347.8L929.1 349.2L931.1 350.4L933.1 351.3L935.1 351.9L937.1 351.9L939.1 351.4L941.1 350.3L943.1 348.8L945.1 347.1L947.1 345.3L949.1 343.6L951.1 342.1L953.1 340.7L955.1 339.6L957.1 338.7L959.1 338.1L961.1 337.6L963.1 337.5L965.1 338.0L967.2 339.3L969.2 341.4L971.2 344.1L973.2 347.5L975.2 351.7L977.2 357.1L979.2 363.7L981.2 370.9L983.2 377.8L985.2 383.5L987.2 388.1L989.2 391.7L991.2 394.9L993.2 397.9L995.2 400.8L997.2 403.6L999.2 406.2L1001.2 408.6L1003.2 411.1L1005.2 413.8L1007.2 416.9L1009.2 420.4L1011.2 424.5L1013.2 429.5L1015.2 435.4L1017.2 442.0L1019.2 449.2L1021.2 457.0L1023.2 465.5L1025.2 474.6L1027.2 484.3L1029.2 494.2L1031.2 504.3L1033.2 514.0L1035.2 523.0L1037.2 530.9L1039.2 538.1L1041.2 544.7L1043.2 550.9L1045.2 556.4L1047.2 561.2L1049.2 565.2L1051.2 568.5L1053.2 571.0L1055.2 572.9L1057.2 574.4L1059.2 575.3L1061.2 575.8L1063.2 576.0L1065.2 576.0L1067.2 576.0L1069.3 575.9L1071.3 575.6L1073.3 575.0L1075.3 574.3L1077.3 573.5L1079.3 572.7L1081.3 571.9L1083.3 571.4L1085.3 571.2L1087.3 571.5L1089.3 572.0L1091.3 572.7L1093.3 573.5L1095.3 574.4L1097.3 575.3L1099.3 576.2L1101.3 577.1L1103.3 578.0L1105.3 578.7L1107.3 579.2L1109.3 579.4L1111.3 579.3L1113.3 578.9L1115.3 578.3L1117.3 577.6L1119.3 576.8L1121.3 575.8L1123.3 574.8L1125.3 573.6L1127.3 572.4L1129.3 571.2L1131.3 570.0L1133.3 568.9L1135.3 567.9L1137.3 566.7L1139.3 565.5L1141.3 564.0L1143.3 562.4L1145.3 560.7L1147.3 559.1L1149.3 557.5L1151.3 556.1L1153.3 554.7L1155.3 553.4L1157.3 552.2L1159.3 551.0L1161.3 549.9L1163.3 548.9L1165.3 548.0L1167.3 547.2L1169.3 546.6L1171.4 546.0L1173.4 545.5L1175.4 545.2L1177.4 544.8L1179.4 544.5L1181.4 544.1L1183.4 543.7L1185.4 543.2L1187.4 542.6L1189.4 542.0L1191.4 541.3L1193.4 540.6L1195.4 540.1L1197.4 539.7L1199.4 539.6L1201.4 539.9L1203.4 540.5L1205.4 541.4L1207.4 542.5L1209.4 543.7L1211.4 544.9L1213.4 546.0L1215.4 547.1L1217.4 548.3L1219.4 549.5L1221.4 550.8L1222.4 551.3"/>
<path d="M198.4 541.3L200.4 542.2L202.4 543.5L204.4 544.9L206.4 546.3L208.4 547.8L210.4 549.3L212.4 550.9L214.4 552.6L216.4 554.3L218.4 556.0L220.4 557.5L222.4 558.7L224.4 559.5L226.4 559.8L228.4 559.4L230.4 558.6L232.4 557.4L234.4 556.1L236.4 554.9L238.4 553.9L240.4 553.2L242.4 552.9L244.4 552.7L246.4 552.5L248.4 552.4L250.5 552.2L252.5 551.9L254.5 551.6L256.5 551.4L258.5 551.2L260.5 551.1L262.5 550.9L264.5 550.6L266.5 550.2L268.5 549.5L270.5 548.5L272.5 547.2L274.5 545.7L276.5 544.0L278.5 542.1L280.5 540.1L282.5 538.0L284.5 535.9L286.5 534.2L288.5 532.8L290.5 531.5L292.5 530.0L294.5 528.4L296.5 526.7L298.5 525.0L300.5 523.5L302.5 522.2L304.5 521.0L306.5 520.2L308.5 519.6L310.5 519.6L312.5 519.8L314.5 520.2L316.5 520.9L318.5 521.7L320.5 522.5L322.5 523.3L324.5 524.2L326.5 525.0L328.5 526.0L330.5 527.3L332.5 528.9L334.5 530.7L336.5 532.4L338.5 534.1L340.5 535.7L342.5 536.9L344.5 537.6L346.5 537.6L348.5 536.8L350.5 535.2L352.6 533.0L354.6 530.5L356.6 527.8L358.6 524.9L360.6 522.0L362.6 519.3L364.6 516.9L366.6 515.0L368.6 513.4L370.6 512.2L372.6 511.2L374.6 510.4L376.6 509.7L378.6 509.1L380.6 508.5L382.6 507.9L384.6 507.3L386.6 506.8L388.6 506.5L390.6 506.3L392.6 506.3L394.6 506.6L396.6 506.9L398.6 507.4L400.6 507.9L402.6 508.5L404.6 509.2L406.6 509.9L408.6 510.6L410.6 511.5L412.6 512.4L414.6 513.4L416.6 514.5L418.6 515.5L420.6 516.5L422.6 517.3L424.6 518.1L426.6 519.0L428.6 520.1L430.6 521.5L432.6 523.1L434.6 525.0L436.6 527.4L438.6 530.4L440.6 533.6L442.6 536.6L444.6 539.1L446.6 540.9L448.6 541.4L450.6 540.4L452.6 538.0L454.7 534.2L456.7 529.3L458.7 523.6L460.7 517.9L462.7 512.7L464.7 508.0L466.7 504.0L468.7 500.4L470.7 497.2L472.7 494.5L474.7 492.1L476.7 490.2L478.7 488.5L480.7 486.9L482.7 485.3L484.7 483.8L486.7 482.5L488.7 481.3L490.7 480.4L492.7 479.9L494.7 479.6L496.7 479.7L498.7 480.0L500.7 480.5L502.7 481.1L504.7 481.8L506.7 482.7L508.7 483.6L510.7 484.6L512.7 485.6L514.7 486.5L516.7 487.4L518.7 488.0L520.7 488.6L522.7 489.0L524.7 489.3L526.7 489.4L528.7 489.3L530.7 489.0L532.7 488.5L534.7 487.9L536.7 487.3L538.7 486.8L540.7 486.4L542.7 486.1L544.7 485.9L546.7 485.9L548.7 485.9L550.7 486.1L552.7 486.2L554.7 486.4L556.7 486.7L558.8 486.8L560.8 486.9L562.8 487.0L564.8 486.9L566.8 486.8L568.8 486.6L570.8 486.4L572.8 486.3L574.8 486.3L576.8 486.5L578.8 486.8L580.8 487.4L582.8 488.2L584.8 489.1L586.8 490.0L588.8 491.1L590.8 492.2L592.8 493.6L594.8 495.4L596.8 497.7L598.8 500.4L600.8 503.5L602.8 507.0L604.8 510.9L606.8 515.4L608.8 520.3L610.8 525.2L612.8 530.0L614.8 534.5L616.8 538.8L618.8 542.9L620.8 546.5L622.8 549.3L624.8 551.2L626.8 552.4L628.8 552.7L630.8 552.3L632.8 551.1L634.8 549.4L636.8 547.5L638.8 545.3L640.8 542.8L642.8 539.9L644.8 536.9L646.8 534.0L648.8 531.2L650.8 528.7L652.8 526.5L654.8 524.7L656.8 523.4L658.8 522.6L660.9 522.2L662.9 522.1L664.9 522.2L666.9 522.5L668.9 522.8L670.9 523.3L672.9 523.7L674.9 524.1L676.9 524.5L678.9 524.8L680.9 525.3L682.9 525.7L684.9 526.2L686.9 526.7L688.9 527.3L690.9 528.0L692.9 528.7L694.9 529.3L696.9 530.0L698.9 530.6L700.9 531.1L702.9 531.5L704.9 531.6L706.9 531.4L708.9 530.9L710.9 530.2L712.9 529.2L714.9 528.2L716.9 527.2L718.9 526.2L720.9 525.3L722.9 524.5L724.9 523.7L726.9 522.9L728.9 522.1L730.9 521.2L732.9 520.4L734.9 519.5L736.9 518.6L738.9 517.9L740.9 517.4L742.9 517.2L744.9 517.3L746.9 517.5L748.9 518.0L750.9 518.4L752.9 518.9L754.9 519.4L756.9 519.9L758.9 520.4L760.9 520.8L763.0 521.2L765.0 521.5L767.0 521.8L769.0 522.2L771.0 522.7L773.0 523.3L775.0 523.9L777.0 524.5L779.0 524.9L781.0 525.1L783.0 524.9L785.0 524.5L787.0 524.1L789.0 523.7L791.0 523.6L793.0 523.7L795.0 523.9L797.0 524.3L799.0 524.5L801.0 524.6L803.0 524.5L805.0 524.4L807.0 524.4L809.0 524.6L811.0 525.0L813.0 525.5L815.0 526.1L817.0 526.5L819.0 526.5L821.0 526.2L823.0 525.5L825.0 524.4L827.0 523.1L829.0 521.8L831.0 520.4L833.0 519.1L835.0 517.9L837.0 517.0L839.0 516.1L841.0 515.3L843.0 514.3L845.0 513.2L847.0 511.7L849.0 509.8L851.0 507.1L853.0 503.5L855.0 498.5L857.0 492.2L859.0 484.4L861.0 474.5L863.0 462.7L865.1 450.1L867.1 437.8L869.1 426.0L871.1 414.8L873.1 404.4L875.1 395.5L877.1 388.2L879.1 382.7L881.1 378.9L883.1 376.4L885.1 375.0L887.1 374.4L889.1 374.2L891.1 374.2L893.1 374.5L895.1 375.3L897.1 377.0L899.1 379.1L901.1 381.2L903.1 383.4L905.1 385.8L907.1 388.3L909.1 390.7L911.1 393.0L913.1 394.9L915.1 396.4L917.1 397.6L919.1 398.6L921.1 399.3L923.1 400.0L925.1 400.6L927.1 401.0L929.1 401.3L931.1 401.3L933.1 401.2L935.1 400.8L937.1 400.2L939.1 399.6L941.1 398.8L943.1 398.0L945.1 397.5L947.1 397.3L949.1 397.6L951.1 398.5L953.1 399.8L955.1 401.5L957.1 403.6L959.1 405.9L961.1 408.5L963.1 411.2L965.1 414.2L967.2 417.7L969.2 421.6L971.2 425.9L973.2 430.4L975.2 434.8L977.2 438.9L979.2 442.6L981.2 445.8L983.2 448.7L985.2 451.2L987.2 453.2L989.2 454.7L991.2 455.7L993.2 456.6L995.2 457.3L997.2 457.9L999.2 458.1L1001.2 457.8L1003.2 457.0L1005.2 455.8L1007.2 454.4L1009.2 452.8L1011.2 451.1L1013.2 449.6L1015.2 448.3L1017.2 447.5L1019.2 447.5L1021.2 448.2L1023.2 449.6L1025.2 451.7L1027.2 454.4L1029.2 457.8L1031.2 461.5L1033.2 465.3L1035.2 469.0L1037.2 472.1L1039.2 475.0L1041.2 477.8L1043.2 480.7L1045.2 483.9L1047.2 487.5L1049.2 491.4L1051.2 495.5L1053.2 499.5L1055.2 503.7L1057.2 508.0L1059.2 512.6L1061.2 517.6L1063.2 522.7L1065.2 527.3L1067.2 531.4L1069.3 534.9L1071.3 537.8L1073.3 540.1L1075.3 541.9L1077.3 543.3L1079.3 544.4L1081.3 545.6L1083.3 546.9L1085.3 548.4L1087.3 550.1L1089.3 551.9L1091.3 553.8L1093.3 555.7L1095.3 557.6L1097.3 559.2L1099.3 560.7L1101.3 561.9L1103.3 562.7L1105.3 563.2L1107.3 563.5L1109.3 563.5L1111.3 563.4L1113.3 563.5L1115.3 563.8L1117.3 564.3L1119.3 565.1L1121.3 565.9L1123.3 566.7L1125.3 567.5L1127.3 568.3L1129.3 569.0L1131.3 569.7L1133.3 570.6L1135.3 571.6L1137.3 572.6L1139.3 573.6L1141.3 574.6L1143.3 575.4L1145.3 576.1L1147.3 576.8L1149.3 577.3L1151.3 577.8L1153.3 578.3L1155.3 578.7L1157.3 579.0L1159.3 579.3L1161.3 579.4L1163.3 579.3L1165.3 579.0L1167.3 578.4L1169.3 577.6L1171.4 576.6L1173.4 575.4L1175.4 574.0L1177.4 572.5L1179.4 571.0L1181.4 569.5L1183.4 567.9L1185.4 566.3L1187.4 564.6L1189.4 562.8L1191.4 560.9L1193.4 559.0L1195.4 557.1L1197.4 555.3L1199.4 553.5L1201.4 551.7L1203.4 549.9L1205.4 548.1L1207.4 546.2L1209.4 544.3L1211.4 542.3L1213.4 540.5L1215.4 538.9L1217.4 537.6L1219.4 536.5L1221.4 535.6L1222.4 535.4"/>
</g>
<path stroke="#DF536B" stroke-width="3.8" d="M198.4 568.2L200.4 567.1L202.4 566.3L204.4 566.0L206.4 565.9L208.4 565.7L210.4 565.6L212.4 565.5L214.4 565.5L216.4 565.4L218.4 565.4L220.4 565.3L222.4 565.2L224.4 565.1L226.4 565.0L228.4 564.9L230.4 564.7L232.4 564.5L234.4 564.2L236.4 563.9L238.4 563.5L240.4 563.0L242.4 562.2L244.4 561.3L246.4 560.4L248.4 559.5L250.5 558.7L252.5 557.9L254.5 557.2L256.5 556.9L258.5 557.2L260.5 558.1L262.5 559.0L264.5 559.5L266.5 559.3L268.5 558.1L270.5 556.4L272.5 554.5L274.5 552.8L276.5 550.9L278.5 548.9L280.5 546.8L282.5 544.5L284.5 542.0L286.5 539.2L288.5 536.1L290.5 532.7L292.5 528.9L294.5 525.0L296.5 520.8L298.5 517.0L300.5 514.2L302.5 511.7L304.5 508.9L306.5 504.5L308.5 497.9L310.5 490.6L312.5 482.9L314.5 478.1L316.5 475.9L318.5 475.4L320.5 475.3L322.5 476.5L324.5 489.9L326.5 504.0L328.5 517.4L330.5 524.3L332.5 527.2L334.5 530.0L336.5 532.6L338.5 531.4L340.5 526.2L342.5 519.0L344.5 512.5L346.5 509.7L348.5 504.7L350.5 499.0L352.6 496.9L354.6 496.3L356.6 496.1L358.6 495.9L360.6 495.8L362.6 495.9L364.6 498.3L366.6 500.7L368.6 501.1L370.6 501.3L372.6 501.3L374.6 501.1L376.6 500.9L378.6 500.8L380.6 500.6L382.6 500.6L384.6 500.9L386.6 501.3L388.6 501.8L390.6 502.3L392.6 502.9L394.6 503.7L396.6 504.4L398.6 504.8L400.6 505.1L402.6 505.3L404.6 505.5L406.6 505.8L408.6 506.2L410.6 506.6L412.6 506.8L414.6 504.0L416.6 499.2L418.6 495.7L420.6 496.8L422.6 499.6L424.6 502.9L426.6 505.5L428.6 510.1L430.6 518.8L432.6 532.2L434.6 542.9L436.6 549.6L438.6 553.3L440.6 554.7L442.6 555.3L444.6 554.6L446.6 551.9L448.6 546.1L450.6 537.9L452.6 528.3L454.7 518.8L456.7 509.2L458.7 499.9L460.7 490.6L462.7 481.4L464.7 472.8L466.7 466.0L468.7 460.6L470.7 457.1L472.7 454.7L474.7 453.5L476.7 452.7L478.7 452.0L480.7 451.2L482.7 450.5L484.7 449.8L486.7 449.5L488.7 449.3L490.7 449.1L492.7 448.9L494.7 448.8L496.7 448.6L498.7 448.4L500.7 447.9L502.7 446.7L504.7 445.2L506.7 443.8L508.7 442.6L510.7 441.5L512.7 440.7L514.7 440.0L516.7 439.5L518.7 439.2L520.7 439.3L522.7 439.6L524.7 440.0L526.7 440.6L528.7 441.2L530.7 442.0L532.7 442.9L534.7 443.7L536.7 444.5L538.7 445.4L540.7 446.3L542.7 447.2L544.7 448.1L546.7 449.1L548.7 450.3L550.7 451.8L552.7 453.3L554.7 454.5L556.7 455.6L558.8 456.7L560.8 458.0L562.8 459.5L564.8 461.3L566.8 463.3L568.8 465.6L570.8 468.1L572.8 470.8L574.8 473.8L576.8 476.9L578.8 480.3L580.8 483.9L582.8 487.6L584.8 491.5L586.8 495.5L588.8 499.6L590.8 503.7L592.8 507.8L594.8 511.7L596.8 515.5L598.8 519.1L600.8 522.4L602.8 525.4L604.8 527.9L606.8 530.3L608.8 532.4L610.8 534.4L612.8 536.3L614.8 538.1L616.8 539.8L618.8 541.4L620.8 542.8L622.8 544.2L624.8 545.4L626.8 546.5L628.8 547.6L630.8 548.6L632.8 549.4L634.8 550.1L636.8 550.6L638.8 551.1L640.8 551.4L642.8 551.6L644.8 551.7L646.8 551.5L648.8 551.3L650.8 551.1L652.8 551.0L654.8 551.0L656.8 551.0L658.8 551.0L660.9 551.0L662.9 551.0L664.9 551.0L666.9 551.2L668.9 551.6L670.9 552.1L672.9 552.6L674.9 553.0L676.9 553.5L678.9 553.9L680.9 554.4L682.9 554.9L684.9 555.4L686.9 555.9L688.9 556.4L690.9 556.9L692.9 557.4L694.9 557.9L696.9 558.3L698.9 558.6L700.9 558.8L702.9 559.0L704.9 559.2L706.9 559.3L708.9 559.4L710.9 559.4L712.9 559.3L714.9 559.1L716.9 558.9L718.9 558.6L720.9 558.4L722.9 558.1L724.9 557.7L726.9 557.3L728.9 556.9L730.9 556.7L732.9 556.5L734.9 556.5L736.9 556.6L738.9 556.8L740.9 556.9L742.9 557.0L744.9 556.9L746.9 556.7L748.9 556.2L750.9 555.7L752.9 555.2L754.9 554.5L756.9 553.7L758.9 552.8L760.9 552.0L763.0 551.2L765.0 550.5L767.0 549.8L769.0 549.5L771.0 549.3L773.0 549.2L775.0 549.1L777.0 548.9L779.0 548.7L781.0 548.1L783.0 547.3L785.0 546.6L787.0 546.1L789.0 545.8L791.0 545.5L793.0 545.3L795.0 545.1L797.0 544.9L799.0 544.8L801.0 544.7L803.0 544.6L805.0 544.5L807.0 544.5L809.0 544.6L811.0 544.9L813.0 545.4L815.0 547.9L817.0 551.8L819.0 554.9L821.0 556.7L823.0 557.9L825.0 558.7L827.0 558.8L829.0 558.6L831.0 558.2L833.0 557.8L835.0 557.0L837.0 555.9L839.0 554.6L841.0 553.0L843.0 550.6L845.0 546.9L847.0 540.8L849.0 530.2L851.0 513.3L853.0 500.9L855.0 494.9L857.0 487.2L859.0 477.4L861.0 466.4L863.0 453.6L865.1 436.5L867.1 420.1L869.1 406.9L871.1 395.5L873.1 385.4L875.1 375.9L877.1 365.2L879.1 357.8L881.1 353.9L883.1 351.4L885.1 349.7L887.1 348.8L889.1 348.3L891.1 347.5L893.1 346.6L895.1 347.3L897.1 349.5L899.1 351.4L901.1 352.9L903.1 353.3L905.1 353.2L907.1 354.3L909.1 356.9L911.1 358.2L913.1 359.0L915.1 359.8L917.1 360.8L919.1 362.4L921.1 364.3L923.1 366.2L925.1 368.0L927.1 369.8L929.1 371.4L931.1 373.0L933.1 374.5L935.1 375.2L937.1 374.8L939.1 373.8L941.1 373.1L943.1 372.6L945.1 372.3L947.1 372.6L949.1 374.3L951.1 376.6L953.1 377.5L955.1 377.3L957.1 379.6L959.1 377.4L961.1 374.0L963.1 373.1L965.1 378.8L967.2 385.0L969.2 394.8L971.2 408.5L973.2 425.1L975.2 451.8L977.2 468.7L979.2 476.8L981.2 479.7L983.2 481.4L985.2 481.3L987.2 480.8L989.2 482.7L991.2 481.1L993.2 477.9L995.2 473.8L997.2 469.9L999.2 466.7L1001.2 465.2L1003.2 463.8L1005.2 460.5L1007.2 455.9L1009.2 451.0L1011.2 446.8L1013.2 443.2L1015.2 442.2L1017.2 443.3L1019.2 446.9L1021.2 452.4L1023.2 459.7L1025.2 468.7L1027.2 478.5L1029.2 488.0L1031.2 496.5L1033.2 503.6L1035.2 510.4L1037.2 518.1L1039.2 526.4L1041.2 534.4L1043.2 542.2L1045.2 549.4L1047.2 555.6L1049.2 560.7L1051.2 564.4L1053.2 567.1L1055.2 569.1L1057.2 570.5L1059.2 571.6L1061.2 572.3L1063.2 572.7L1065.2 572.9L1067.2 573.0L1069.3 572.9L1071.3 572.1L1073.3 571.1L1075.3 570.2L1077.3 569.1L1079.3 568.3L1081.3 568.0L1083.3 568.0L1085.3 568.0L1087.3 568.0L1089.3 568.0L1091.3 567.9L1093.3 567.8L1095.3 567.6L1097.3 567.3L1099.3 567.0L1101.3 566.7L1103.3 566.2L1105.3 565.8L1107.3 565.5L1109.3 565.3L1111.3 565.1L1113.3 565.0L1115.3 565.1L1117.3 565.5L1119.3 566.2L1121.3 566.8L1123.3 567.3L1125.3 567.7L1127.3 568.0L1129.3 568.3L1131.3 568.4L1133.3 568.5L1135.3 568.6L1137.3 568.7L1139.3 568.8L1141.3 568.9L1143.3 569.0L1145.3 569.0L1147.3 569.1L1149.3 569.2L1151.3 569.3L1153.3 569.4L1155.3 569.4L1157.3 569.5L1159.3 569.6L1161.3 569.7L1163.3 569.8L1165.3 569.8L1167.3 569.9L1169.3 569.9L1171.4 569.9L1173.4 570.0L1175.4 570.0L1177.4 570.0L1179.4 570.0L1181.4 570.0L1183.4 570.0L1185.4 570.0L1187.4 570.0L1189.4 570.0L1191.4 569.8L1193.4 569.6L1195.4 569.4L1197.4 569.2L1199.4 569.0L1201.4 568.8L1203.4 568.8L1205.4 569.3L1207.4 569.9L1209.4 570.1L1211.4 570.3L1213.4 570.4L1215.4 570.5L1217.4 570.3L1219.4 569.8L1221.4 569.0L1222.4 568.7"/>
<path stroke="#2297E6" stroke-width="3.8" d="M198.4 548.4L200.4 548.2L202.4 548.0L204.4 547.8L206.4 547.5L208.4 547.3L210.4 547.1L212.4 547.0L214.4 546.8L216.4 546.7L218.4 546.6L220.4 546.5L222.4 546.3L224.4 546.2L226.4 546.1L228.4 546.0L230.4 545.9L232.4 545.8L234.4 545.6L236.4 545.5L238.4 545.4L240.4 545.2L242.4 545.1L244.4 545.0L246.4 544.8L248.4 544.7L250.5 544.6L252.5 544.4L254.5 544.2L256.5 544.1L258.5 543.9L260.5 543.7L262.5 543.6L264.5 543.4L266.5 543.2L268.5 543.0L270.5 542.8L272.5 542.5L274.5 542.3L276.5 542.1L278.5 541.8L280.5 541.5L282.5 541.1L284.5 540.7L286.5 540.2L288.5 539.7L290.5 539.2L292.5 538.6L294.5 538.0L296.5 537.4L298.5 536.7L300.5 536.1L302.5 535.6L304.5 535.3L306.5 535.1L308.5 534.9L310.5 534.8L312.5 534.6L314.5 534.4L316.5 534.2L318.5 533.9L320.5 533.7L322.5 533.6L324.5 533.7L326.5 534.0L328.5 534.5L330.5 534.8L332.5 535.0L334.5 535.0L336.5 535.0L338.5 535.0L340.5 535.0L342.5 534.8L344.5 534.6L346.5 534.3L348.5 533.9L350.5 533.5L352.6 532.9L354.6 532.3L356.6 531.5L358.6 530.5L360.6 529.4L362.6 528.5L364.6 528.0L366.6 527.8L368.6 527.5L370.6 527.4L372.6 527.2L374.6 527.1L376.6 527.0L378.6 526.9L380.6 526.8L382.6 526.6L384.6 526.5L386.6 526.4L388.6 526.1L390.6 525.5L392.6 524.3L394.6 523.0L396.6 522.3L398.6 521.9L400.6 521.6L402.6 521.5L404.6 521.5L406.6 521.6L408.6 521.7L410.6 521.8L412.6 521.9L414.6 522.1L416.6 522.5L418.6 523.0L420.6 524.2L422.6 526.6L424.6 529.9L426.6 532.7L428.6 534.8L430.6 536.3L432.6 537.6L434.6 538.6L436.6 539.5L438.6 540.1L440.6 540.4L442.6 540.6L444.6 540.7L446.6 540.7L448.6 540.8L450.6 540.7L452.6 540.5L454.7 539.9L456.7 538.7L458.7 537.4L460.7 536.6L462.7 536.1L464.7 535.8L466.7 535.5L468.7 535.2L470.7 535.0L472.7 534.9L474.7 534.7L476.7 534.5L478.7 534.2L480.7 533.7L482.7 533.2L484.7 532.6L486.7 532.0L488.7 531.4L490.7 530.7L492.7 529.9L494.7 528.8L496.7 527.4L498.7 525.9L500.7 524.5L502.7 523.4L504.7 522.4L506.7 521.5L508.7 520.9L510.7 520.4L512.7 520.0L514.7 519.6L516.7 519.3L518.7 518.9L520.7 518.4L522.7 517.8L524.7 517.2L526.7 516.6L528.7 516.2L530.7 515.9L532.7 515.7L534.7 515.5L536.7 515.3L538.7 515.2L540.7 515.2L542.7 515.2L544.7 515.2L546.7 515.2L548.7 515.2L550.7 515.2L552.7 515.3L554.7 515.5L556.7 515.7L558.8 516.0L560.8 516.5L562.8 517.0L564.8 517.7L566.8 518.4L568.8 519.0L570.8 519.6L572.8 520.0L574.8 520.4L576.8 520.8L578.8 521.3L580.8 521.8L582.8 522.4L584.8 523.1L586.8 523.8L588.8 524.5L590.8 525.3L592.8 526.2L594.8 527.2L596.8 528.3L598.8 529.3L600.8 530.4L602.8 531.6L604.8 532.8L606.8 534.0L608.8 535.3L610.8 536.5L612.8 537.7L614.8 538.9L616.8 540.1L618.8 541.3L620.8 542.4L622.8 543.5L624.8 544.6L626.8 545.7L628.8 546.6L630.8 547.5L632.8 548.3L634.8 549.0L636.8 549.6L638.8 550.1L640.8 550.6L642.8 551.0L644.8 551.4L646.8 551.8L648.8 552.2L650.8 552.8L652.8 553.3L654.8 553.9L656.8 554.6L658.8 555.2L660.9 556.0L662.9 556.8L664.9 557.6L666.9 558.4L668.9 559.3L670.9 560.1L672.9 560.9L674.9 561.7L676.9 562.5L678.9 563.2L680.9 563.9L682.9 564.6L684.9 565.2L686.9 565.8L688.9 566.4L690.9 566.9L692.9 567.5L694.9 568.0L696.9 568.5L698.9 569.0L700.9 569.4L702.9 569.9L704.9 570.4L706.9 570.8L708.9 571.3L710.9 571.8L712.9 572.2L714.9 572.6L716.9 573.0L718.9 573.3L720.9 573.6L722.9 573.9L724.9 574.1L726.9 574.4L728.9 574.6L730.9 574.8L732.9 574.9L734.9 575.0L736.9 575.0L738.9 575.0L740.9 575.0L742.9 575.0L744.9 575.0L746.9 575.0L748.9 575.0L750.9 575.0L752.9 575.0L754.9 575.0L756.9 575.0L758.9 574.9L760.9 574.8L763.0 574.7L765.0 574.6L767.0 574.4L769.0 574.3L771.0 574.1L773.0 574.0L775.0 573.9L777.0 573.7L779.0 573.5L781.0 573.3L783.0 573.0L785.0 572.6L787.0 572.2L789.0 571.8L791.0 571.3L793.0 570.8L795.0 570.2L797.0 569.6L799.0 569.0L801.0 568.3L803.0 567.7L805.0 567.0L807.0 566.4L809.0 565.7L811.0 564.9L813.0 564.0L815.0 562.6L817.0 560.9L819.0 558.8L821.0 556.5L823.0 553.9L825.0 551.3L827.0 549.0L829.0 546.9L831.0 545.0L833.0 543.2L835.0 541.6L837.0 540.0L839.0 538.3L841.0 536.4L843.0 534.3L845.0 532.1L847.0 529.5L849.0 525.6L851.0 520.1L853.0 513.6L855.0 506.8L857.0 499.7L859.0 492.2L861.0 483.9L863.0 474.5L865.1 463.7L867.1 451.7L869.1 438.5L871.1 426.2L873.1 415.4L875.1 405.0L877.1 395.1L879.1 386.6L881.1 379.7L883.1 373.9L885.1 369.0L887.1 365.2L889.1 362.5L891.1 360.9L893.1 360.1L895.1 360.1L897.1 361.0L899.1 362.6L901.1 364.5L903.1 366.8L905.1 369.2L907.1 371.5L909.1 373.8L911.1 376.0L913.1 378.0L915.1 379.7L917.1 381.3L919.1 382.9L921.1 384.6L923.1 386.2L925.1 387.9L927.1 389.6L929.1 391.3L931.1 393.0L933.1 394.7L935.1 396.5L937.1 398.2L939.1 399.7L941.1 401.0L943.1 402.2L945.1 403.0L947.1 403.3L949.1 403.2L951.1 402.9L953.1 402.6L955.1 402.2L957.1 401.8L959.1 401.4L961.1 401.2L963.1 401.2L965.1 401.5L967.2 402.0L969.2 402.6L971.2 403.3L973.2 404.2L975.2 405.3L977.2 406.4L979.2 407.6L981.2 408.9L983.2 410.1L985.2 411.2L987.2 412.2L989.2 413.0L991.2 413.4L993.2 413.2L995.2 412.8L997.2 412.8L999.2 413.4L1001.2 414.5L1003.2 415.5L1005.2 416.7L1007.2 418.0L1009.2 419.7L1011.2 422.1L1013.2 425.1L1015.2 428.5L1017.2 433.1L1019.2 439.1L1021.2 445.8L1023.2 452.9L1025.2 460.6L1027.2 469.1L1029.2 477.3L1031.2 484.7L1033.2 491.4L1035.2 498.1L1037.2 505.2L1039.2 512.5L1041.2 519.7L1043.2 526.6L1045.2 533.1L1047.2 539.3L1049.2 544.9L1051.2 549.9L1053.2 554.6L1055.2 559.0L1057.2 563.3L1059.2 567.3L1061.2 571.1L1063.2 574.8L1065.2 578.1L1067.2 580.9L1069.3 583.0L1071.3 583.9L1073.3 583.3L1075.3 581.9L1077.3 581.0L1079.3 580.8L1081.3 580.8L1083.3 580.8L1085.3 580.8L1087.3 580.7L1089.3 580.4L1091.3 579.8L1093.3 579.0L1095.3 578.2L1097.3 577.4L1099.3 576.7L1101.3 575.9L1103.3 575.2L1105.3 574.4L1107.3 573.7L1109.3 572.9L1111.3 572.2L1113.3 571.4L1115.3 570.7L1117.3 569.9L1119.3 569.0L1121.3 568.0L1123.3 567.0L1125.3 566.1L1127.3 565.3L1129.3 564.6L1131.3 564.1L1133.3 563.6L1135.3 563.3L1137.3 562.9L1139.3 562.5L1141.3 562.1L1143.3 561.7L1145.3 561.3L1147.3 560.9L1149.3 560.5L1151.3 560.1L1153.3 559.7L1155.3 559.3L1157.3 559.0L1159.3 558.6L1161.3 558.2L1163.3 557.7L1165.3 557.3L1167.3 556.8L1169.3 556.4L1171.4 555.9L1173.4 555.4L1175.4 554.9L1177.4 554.4L1179.4 553.9L1181.4 553.4L1183.4 553.0L1185.4 552.5L1187.4 552.1L1189.4 551.8L1191.4 551.5L1193.4 551.3L1195.4 551.0L1197.4 550.7L1199.4 550.5L1201.4 550.2L1203.4 550.0L1205.4 549.8L1207.4 549.6L1209.4 549.4L1211.4 549.2L1213.4 549.0L1215.4 548.8L1217.4 548.7L1219.4 548.5L1221.4 548.4L1222.4 548.4"/>
</g>
<g stroke="#000" stroke-width="2" fill="none" stroke-linecap="round" stroke-linejoin="round">
<rect x="157.44" y="157.44" width="1105.92" height="606.72"/>
<path d="M197.40 764.16H1198.38"/>
<path d="M197.40 764.16v19.2"/>
<path d="M397.59 764.16v19.2"/>
<path d="M597.79 764.16v19.2"/>
<path d="M797.99 764.16v19.2"/>
<path d="M998.18 764.16v19.2"/>
<path d="M1198.38 764.16v19.2"/>
<path d="M157.44 741.69V179.91"/>
<path d="M157.44 741.69h-19.2"/>
<path d="M157.44 601.24h-19.2"/>
<path d="M157.44 460.80h-19.2"/>
<path d="M157.44 320.36h-19.2"/>
<path d="M157.44 179.91h-19.2"/>
</g>
<g font-family="DejaVu Sans, Liberation Sans, sans-serif" font-size="32" fill="#000" text-anchor="middle">
<text x="197.40" y="833.28">0</text>
<text x="397.59" y="833.28">200</text>
<text x="597.79" y="833.28">400</text>
<text x="797.99" y="833.28">600</text>
<text x="998.18" y="833.28">800</text>
<text x="1198.38" y="833.28">1000</text>
<text transform="translate(111.36 741.69) rotate(-90)">0</text>
<text transform="translate(111.36 601.24) rotate(-90)">1</text>
<text transform="translate(111.36 460.80) rotate(-90)">2</text>
<text transform="translate(111.36 320.36) rotate(-90)">3</text>
<text transform="translate(111.36 179.91) rotate(-90)">4</text>
<text transform="translate(34.56 460.80) rotate(-90)">x(median of all runs)</text>
</g>
<text font-family="DejaVu Sans, Liberation Sans, sans-serif" font-size="38.4" font-weight="bold" text-anchor="middle" x="710.40" y="92.90">vst_nug</text>
<rect x="965.00" y="157.44" width="298.36" height="191.31" fill="#fff" stroke="#000" stroke-width="2"/>
<path d="M993.8 195.84H1051.4" stroke="#000" stroke-width="2" stroke-linecap="round"/>
<text font-family="DejaVu Sans, Liberation Sans, sans-serif" font-size="32" x="1080.2" y="207.04">True mean</text>
<path d="M993.8 234.24H1051.4" stroke="#DF536B" stroke-width="2" stroke-linecap="round"/>
<text font-family="DejaVu Sans, Liberation Sans, sans-serif" font-size="32" x="1080.2" y="245.44">best fit</text>
<path d="M993.8 272.64H1051.4" stroke="#2297E6" stroke-width="2" stroke-linecap="round"/>
<text font-family="DejaVu Sans, Liberation Sans, sans-serif" font-size="32" x="1080.2" y="283.84">worst fit</text>
<path d="M993.8 311.04H1051.4" stroke="#ccc" stroke-width="2" stroke-linecap="round"/>
<text font-family="DejaVu Sans, Liberation Sans, sans-serif" font-size="32" x="1080.2" y="322.24">all others</text>
</svg>
</body></html>
